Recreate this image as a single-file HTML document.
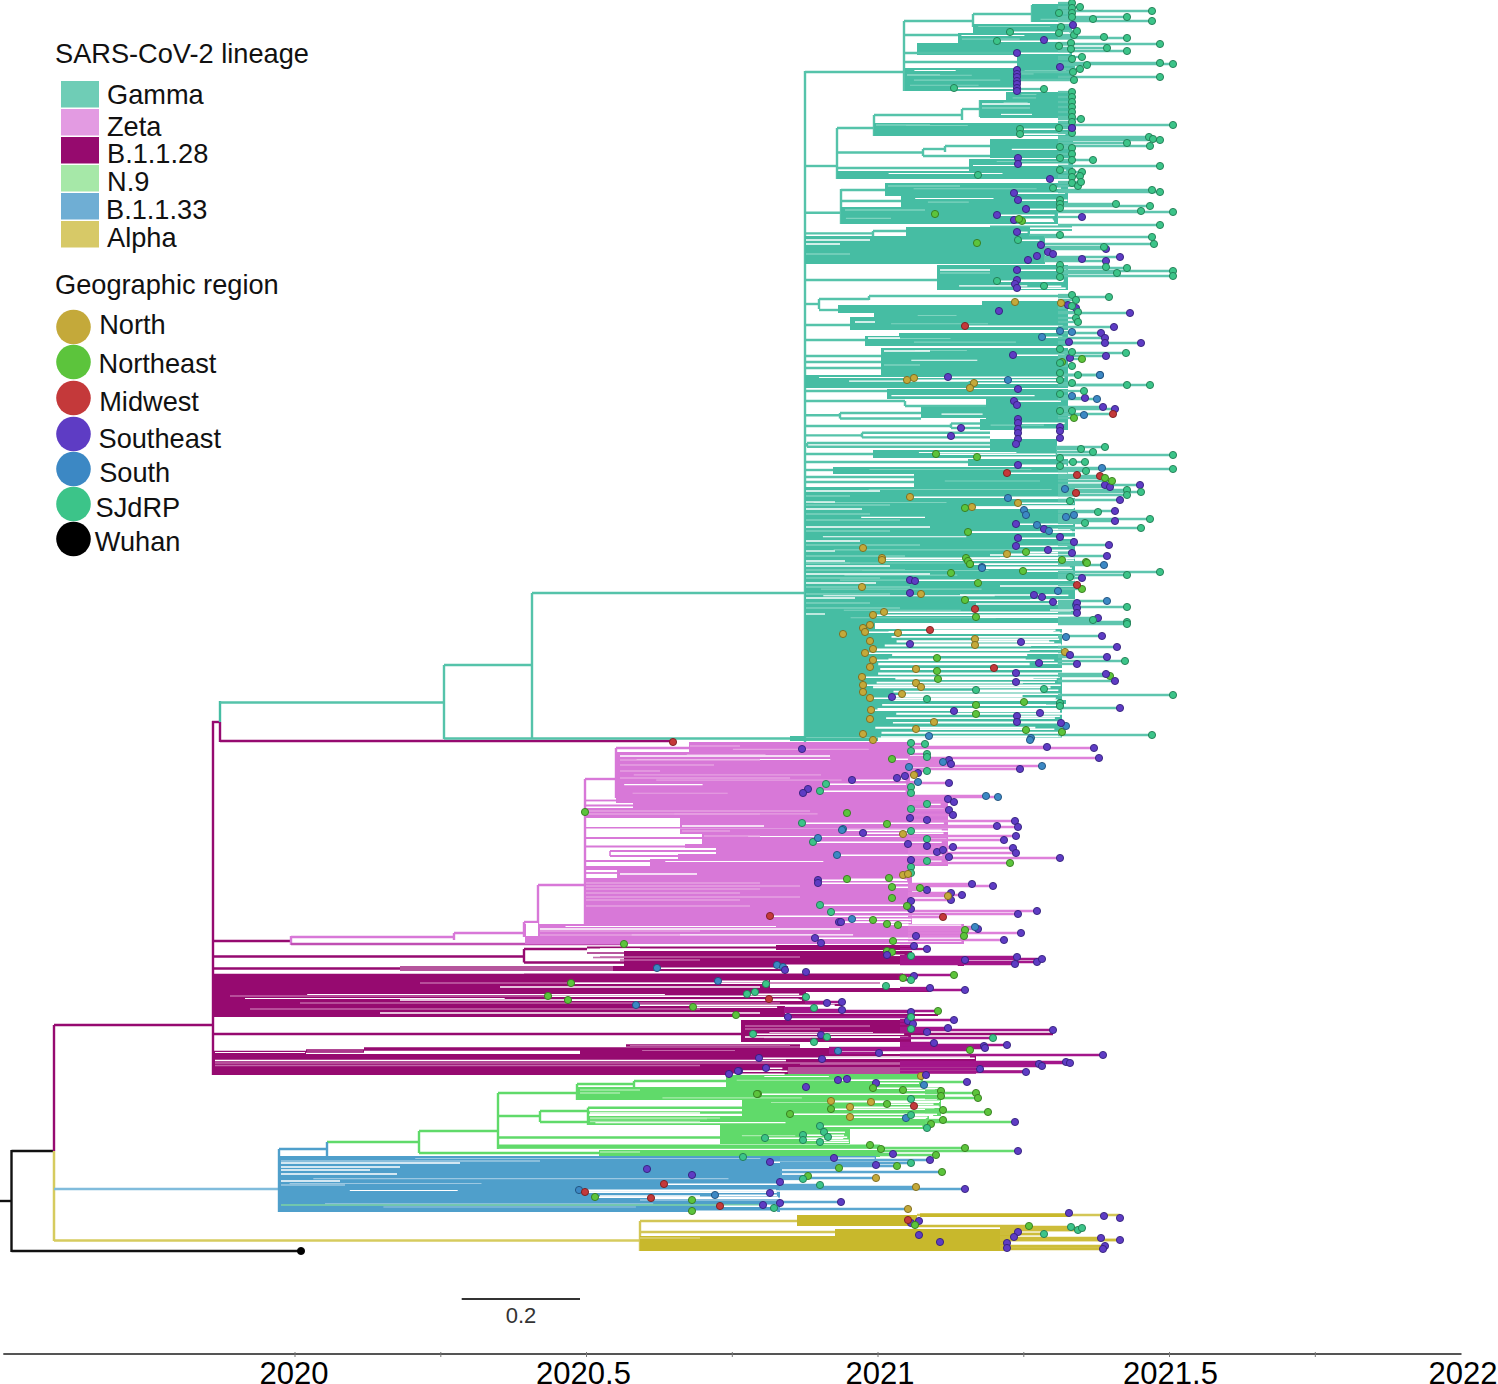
<!DOCTYPE html>
<html><head><meta charset="utf-8"><title>Phylogenetic tree</title>
<style>
html,body{margin:0;padding:0;background:#fff;width:1498px;height:1384px;overflow:hidden}
svg{display:block;font-family:"Liberation Sans",sans-serif}
</style></head>
<body>
<svg width="1498" height="1384" viewBox="0 0 1498 1384">
<rect width="1498" height="1384" fill="#fff"/>
<g id="legend" font-size="27.2" fill="#111">
<text x="55" y="63">SARS-CoV-2 lineage</text>
<rect x="61" y="81" width="38" height="26.5" fill="#6FCDB6"/>
<rect x="61" y="109" width="38" height="26.5" fill="#E39BE2"/>
<rect x="61" y="137" width="38" height="26.5" fill="#960A6E"/>
<rect x="61" y="165" width="38" height="26.5" fill="#A6E8A8"/>
<rect x="61" y="193" width="38" height="26.5" fill="#6FAED4"/>
<rect x="61" y="221" width="38" height="26.5" fill="#D7C967"/>
<text x="107" y="104">Gamma</text>
<text x="107" y="136">Zeta</text>
<text x="107" y="163">B.1.1.28</text>
<text x="107" y="191">N.9</text>
<text x="106" y="219">B.1.1.33</text>
<text x="107" y="247">Alpha</text>
<text x="55" y="293.5">Geographic region</text>
<circle cx="73.5" cy="327" r="17.3" fill="#C4A93A"/>
<circle cx="73.5" cy="362" r="17.3" fill="#5CC43C"/>
<circle cx="73.5" cy="398" r="17.3" fill="#C4393A"/>
<circle cx="73.5" cy="434" r="17.3" fill="#5E3CC4"/>
<circle cx="73.5" cy="469" r="17.3" fill="#3C88C4"/>
<circle cx="73.5" cy="504" r="17.3" fill="#3CC489"/>
<circle cx="73.5" cy="539" r="17.3" fill="#000"/>
<text x="99.2" y="334">North</text>
<text x="98.5" y="373">Northeast</text>
<text x="99.2" y="411">Midwest</text>
<text x="98.5" y="448">Southeast</text>
<text x="99.2" y="482">South</text>
<text x="95.6" y="517">SJdRP</text>
<text x="94.8" y="550.5">Wuhan</text>
</g>
<g id="tree" stroke-linecap="butt">
<line x1="0" y1="1201" x2="11.5" y2="1201" stroke="#111" stroke-width="2.4"/>
<line x1="11.5" y1="1150" x2="11.5" y2="1252" stroke="#111" stroke-width="2.4"/>
<line x1="11.5" y1="1151" x2="54" y2="1151" stroke="#111" stroke-width="2.4"/>
<line x1="11.5" y1="1251" x2="301" y2="1251" stroke="#111" stroke-width="2.4"/>
<line x1="54" y1="1025" x2="54" y2="1151" stroke="#960A70" stroke-width="2.4"/>
<line x1="54" y1="1151" x2="54" y2="1241" stroke="#D6CB5E" stroke-width="2.5"/>
<line x1="54" y1="1025" x2="213" y2="1025" stroke="#960A70" stroke-width="2.4"/>
<line x1="54" y1="1189" x2="279" y2="1189" stroke="#80BCDC" stroke-width="2.4"/>
<line x1="54" y1="1240.4" x2="640" y2="1240.4" stroke="#D6CB5E" stroke-width="2.5"/>
<line x1="213" y1="721" x2="213" y2="1075" stroke="#960A70" stroke-width="2.4"/>
<line x1="212" y1="722" x2="220" y2="722" stroke="#960A70" stroke-width="2.4"/>
<line x1="220" y1="722" x2="220" y2="742" stroke="#960A70" stroke-width="2.4"/>
<line x1="220" y1="701" x2="220" y2="722" stroke="#46BDA3" stroke-width="2.4"/>
<line x1="220" y1="741" x2="673" y2="741" stroke="#960A70" stroke-width="2.4"/>
<line x1="220" y1="702.5" x2="444" y2="702.5" stroke="#55C3AA" stroke-width="2.4"/>
<line x1="444" y1="665" x2="444" y2="739" stroke="#55C3AA" stroke-width="2.4"/>
<line x1="444" y1="665" x2="532" y2="665" stroke="#55C3AA" stroke-width="2.4"/>
<line x1="532" y1="593" x2="532" y2="739" stroke="#55C3AA" stroke-width="2.4"/>
<line x1="532" y1="593" x2="805" y2="593" stroke="#55C3AA" stroke-width="2.4"/>
<line x1="444" y1="738.5" x2="805" y2="738.5" stroke="#55C3AA" stroke-width="2.4"/>
<line x1="805" y1="71" x2="805" y2="742" stroke="#55C3AA" stroke-width="2.4"/>
<line x1="805" y1="72" x2="904" y2="72" stroke="#55C3AA" stroke-width="2.4"/>
<line x1="904" y1="21" x2="904" y2="91" stroke="#55C3AA" stroke-width="2.4"/>
<line x1="904" y1="21" x2="973" y2="21" stroke="#55C3AA" stroke-width="2.4"/>
<line x1="973" y1="14" x2="973" y2="27" stroke="#55C3AA" stroke-width="2.4"/>
<line x1="973" y1="14" x2="1032" y2="14" stroke="#55C3AA" stroke-width="2.4"/>
<line x1="1032" y1="5" x2="1032" y2="22" stroke="#55C3AA" stroke-width="2.4"/>
<rect x="1032" y="4" width="43" height="18" fill="#46BDA3"/>
<line x1="1040.5" y1="19.3" x2="1062.6" y2="19.3" stroke="#7FD3BF" stroke-width="1.1"/>
<rect x="973" y="24" width="99" height="13" fill="#46BDA3"/>
<line x1="978.2" y1="26.5" x2="1050.1" y2="26.5" stroke="#7FD3BF" stroke-width="1.1"/>
<line x1="904" y1="35" x2="958" y2="35" stroke="#55C3AA" stroke-width="2.4"/>
<rect x="958" y="33" width="114" height="10" fill="#46BDA3"/>
<line x1="961.4" y1="35.5" x2="1024.4" y2="35.5" stroke="#ffffff" stroke-width="1.1"/>
<line x1="961.9" y1="39.1" x2="1019.7" y2="39.1" stroke="#7FD3BF" stroke-width="1.1"/>
<rect x="917" y="43" width="155" height="12" fill="#46BDA3"/>
<line x1="904" y1="53" x2="1017" y2="53" stroke="#55C3AA" stroke-width="2.4"/>
<line x1="904" y1="62" x2="1017" y2="62" stroke="#55C3AA" stroke-width="2.4"/>
<rect x="1017" y="55" width="58" height="14" fill="#46BDA3"/>
<rect x="905" y="68" width="112" height="23" fill="#46BDA3"/>
<line x1="914.4" y1="70.5" x2="955.7" y2="70.5" stroke="#ffffff" stroke-width="1.1"/>
<line x1="931.7" y1="75.2" x2="971.8" y2="75.2" stroke="#7FD3BF" stroke-width="1.1"/>
<line x1="913.9" y1="80.1" x2="1000.2" y2="80.1" stroke="#7FD3BF" stroke-width="1.1"/>
<line x1="910.0" y1="85.3" x2="978.6" y2="85.3" stroke="#7FD3BF" stroke-width="1.1"/>
<rect x="1017" y="68" width="55" height="13" fill="#46BDA3"/>
<line x1="1024.6" y1="70.5" x2="1066.1" y2="70.5" stroke="#7FD3BF" stroke-width="1.1"/>
<line x1="1021.4" y1="73.9" x2="1033.6" y2="73.9" stroke="#7FD3BF" stroke-width="1.1"/>
<line x1="907" y1="75" x2="940" y2="75" stroke="#7FD3BF" stroke-width="2"/>
<line x1="805" y1="166" x2="837" y2="166" stroke="#55C3AA" stroke-width="2.4"/>
<line x1="837" y1="128" x2="837" y2="179" stroke="#55C3AA" stroke-width="2.4"/>
<line x1="837" y1="128" x2="874" y2="128" stroke="#55C3AA" stroke-width="2.4"/>
<line x1="874" y1="115" x2="874" y2="136" stroke="#55C3AA" stroke-width="2.4"/>
<line x1="874" y1="115" x2="962" y2="115" stroke="#55C3AA" stroke-width="2.4"/>
<line x1="962" y1="109" x2="962" y2="120" stroke="#55C3AA" stroke-width="2.4"/>
<line x1="962" y1="109" x2="980" y2="109" stroke="#55C3AA" stroke-width="2.4"/>
<line x1="980" y1="100" x2="980" y2="117" stroke="#55C3AA" stroke-width="2.4"/>
<rect x="1006" y="92" width="67" height="8" fill="#46BDA3"/>
<line x1="1021.3" y1="94.5" x2="1036.4" y2="94.5" stroke="#7FD3BF" stroke-width="1.1"/>
<line x1="1012.6" y1="97.9" x2="1036.1" y2="97.9" stroke="#7FD3BF" stroke-width="1.1"/>
<rect x="980" y="100" width="93" height="18" fill="#46BDA3"/>
<line x1="1003.6" y1="102.5" x2="1027.7" y2="102.5" stroke="#7FD3BF" stroke-width="1.1"/>
<line x1="1001.0" y1="114.4" x2="1032.0" y2="114.4" stroke="#ffffff" stroke-width="1.1"/>
<line x1="982" y1="104" x2="1030" y2="104" stroke="#fff" stroke-width="1.5"/>
<line x1="982" y1="108" x2="1030" y2="108" stroke="#7FD3BF" stroke-width="1.5"/>
<rect x="874" y="123" width="199" height="13" fill="#46BDA3"/>
<line x1="906.0" y1="125.5" x2="967.8" y2="125.5" stroke="#7FD3BF" stroke-width="1.1"/>
<line x1="876" y1="125" x2="930" y2="125" stroke="#7FD3BF" stroke-width="1.5"/>
<line x1="837" y1="152.5" x2="923" y2="152.5" stroke="#55C3AA" stroke-width="2.4"/>
<line x1="923" y1="149" x2="923" y2="156" stroke="#55C3AA" stroke-width="2.4"/>
<line x1="923" y1="149" x2="945" y2="149" stroke="#55C3AA" stroke-width="2.4"/>
<line x1="923" y1="156" x2="992" y2="156" stroke="#55C3AA" stroke-width="2.4"/>
<line x1="945" y1="146" x2="945" y2="152" stroke="#55C3AA" stroke-width="2.4"/>
<line x1="945" y1="146" x2="992" y2="146" stroke="#55C3AA" stroke-width="2.4"/>
<rect x="990" y="139" width="83" height="19" fill="#46BDA3"/>
<line x1="1011.8" y1="149.4" x2="1059.1" y2="149.4" stroke="#ffffff" stroke-width="1.1"/>
<line x1="837" y1="168" x2="969" y2="168" stroke="#55C3AA" stroke-width="2.4"/>
<rect x="969" y="159" width="104" height="12" fill="#46BDA3"/>
<line x1="996.7" y1="161.5" x2="1059.1" y2="161.5" stroke="#7FD3BF" stroke-width="1.1"/>
<line x1="973.0" y1="165.5" x2="1060.4" y2="165.5" stroke="#ffffff" stroke-width="1.1"/>
<rect x="837" y="171" width="236" height="8" fill="#46BDA3"/>
<line x1="888.6" y1="173.5" x2="1002.5" y2="173.5" stroke="#ffffff" stroke-width="1.1"/>
<line x1="805" y1="212.7" x2="841" y2="212.7" stroke="#55C3AA" stroke-width="2.4"/>
<line x1="841" y1="189" x2="841" y2="224" stroke="#55C3AA" stroke-width="2.4"/>
<line x1="841" y1="190" x2="885" y2="190" stroke="#55C3AA" stroke-width="2.4"/>
<line x1="841" y1="201" x2="901" y2="201" stroke="#55C3AA" stroke-width="2.4"/>
<rect x="885" y="183" width="183" height="13" fill="#46BDA3"/>
<line x1="913.6" y1="188.8" x2="1036.6" y2="188.8" stroke="#7FD3BF" stroke-width="1.1"/>
<rect x="901" y="196" width="167" height="11" fill="#46BDA3"/>
<line x1="915.2" y1="198.5" x2="993.5" y2="198.5" stroke="#ffffff" stroke-width="1.1"/>
<line x1="927.9" y1="202.1" x2="968.8" y2="202.1" stroke="#7FD3BF" stroke-width="1.1"/>
<rect x="841" y="207" width="217" height="17" fill="#46BDA3"/>
<line x1="845.9" y1="218.4" x2="891.0" y2="218.4" stroke="#7FD3BF" stroke-width="1.1"/>
<line x1="990" y1="226.5" x2="1072" y2="226.5" stroke="#55C3AA" stroke-width="2"/>
<line x1="1000" y1="230" x2="1072" y2="230" stroke="#55C3AA" stroke-width="2"/>
<line x1="888" y1="186" x2="960" y2="186" stroke="#7FD3BF" stroke-width="1.5"/>
<line x1="845" y1="210" x2="925" y2="210" stroke="#7FD3BF" stroke-width="1.5"/>
<line x1="805" y1="233.4" x2="873" y2="233.4" stroke="#55C3AA" stroke-width="2.4"/>
<line x1="873" y1="231" x2="873" y2="237" stroke="#55C3AA" stroke-width="2.4"/>
<line x1="873" y1="231" x2="906" y2="231" stroke="#55C3AA" stroke-width="2.4"/>
<rect x="906" y="227" width="124" height="9" fill="#46BDA3"/>
<rect x="805" y="236" width="240" height="28" fill="#46BDA3"/>
<line x1="806" y1="240" x2="870" y2="240" stroke="#fff" stroke-width="1.5"/>
<line x1="806" y1="244" x2="840" y2="244" stroke="#fff" stroke-width="1.5"/>
<line x1="806" y1="254" x2="850" y2="254" stroke="#7FD3BF" stroke-width="1.5"/>
<line x1="805" y1="280" x2="937" y2="280" stroke="#55C3AA" stroke-width="2.4"/>
<rect x="937" y="265" width="131" height="25" fill="#46BDA3"/>
<line x1="959.1" y1="285.9" x2="1027.3" y2="285.9" stroke="#ffffff" stroke-width="1.1"/>
<line x1="940" y1="270" x2="990" y2="270" stroke="#fff" stroke-width="1.5"/>
<line x1="940" y1="273" x2="990" y2="273" stroke="#7FD3BF" stroke-width="1.5"/>
<line x1="805" y1="304" x2="819" y2="304" stroke="#55C3AA" stroke-width="2.4"/>
<line x1="819" y1="299" x2="819" y2="309" stroke="#55C3AA" stroke-width="2.4"/>
<line x1="819" y1="299" x2="869" y2="299" stroke="#55C3AA" stroke-width="2.4"/>
<line x1="819" y1="310" x2="838" y2="310" stroke="#55C3AA" stroke-width="2.4"/>
<line x1="869" y1="296" x2="1068" y2="296" stroke="#55C3AA" stroke-width="2.4"/>
<line x1="869" y1="296" x2="869" y2="300" stroke="#55C3AA" stroke-width="2.4"/>
<rect x="982" y="301" width="86" height="12" fill="#46BDA3"/>
<rect x="838" y="305" width="230" height="8" fill="#46BDA3"/>
<line x1="805" y1="325" x2="850" y2="325" stroke="#55C3AA" stroke-width="2.4"/>
<rect x="874" y="313" width="194" height="7" fill="#46BDA3"/>
<line x1="917.7" y1="315.5" x2="956.5" y2="315.5" stroke="#7FD3BF" stroke-width="1.1"/>
<rect x="850" y="317" width="218" height="13" fill="#46BDA3"/>
<line x1="891.1" y1="323.7" x2="988.0" y2="323.7" stroke="#7FD3BF" stroke-width="1.1"/>
<line x1="855" y1="322" x2="875" y2="322" stroke="#fff" stroke-width="1.5"/>
<line x1="805" y1="340" x2="865" y2="340" stroke="#55C3AA" stroke-width="2.4"/>
<rect x="899" y="333" width="169" height="4" fill="#46BDA3"/>
<rect x="865" y="336" width="203" height="10" fill="#46BDA3"/>
<line x1="868.6" y1="338.5" x2="950.5" y2="338.5" stroke="#7FD3BF" stroke-width="1.1"/>
<line x1="914.0" y1="342.1" x2="1015.9" y2="342.1" stroke="#7FD3BF" stroke-width="1.1"/>
<line x1="868" y1="338" x2="900" y2="338" stroke="#fff" stroke-width="1.5"/>
<line x1="805" y1="356" x2="881" y2="356" stroke="#55C3AA" stroke-width="2.4"/>
<rect x="881" y="348" width="187" height="28" fill="#46BDA3"/>
<line x1="915.1" y1="350.5" x2="966.9" y2="350.5" stroke="#7FD3BF" stroke-width="1.1"/>
<line x1="911.3" y1="360.3" x2="977.3" y2="360.3" stroke="#ffffff" stroke-width="1.1"/>
<line x1="884" y1="351" x2="930" y2="351" stroke="#fff" stroke-width="1.5"/>
<line x1="884" y1="365" x2="920" y2="365" stroke="#7FD3BF" stroke-width="1.5"/>
<line x1="805" y1="362" x2="881" y2="362" stroke="#55C3AA" stroke-width="2.4"/>
<line x1="805" y1="368" x2="881" y2="368" stroke="#55C3AA" stroke-width="2.4"/>
<rect x="805" y="375" width="263" height="13" fill="#46BDA3"/>
<line x1="819.1" y1="377.5" x2="947.4" y2="377.5" stroke="#ffffff" stroke-width="1.1"/>
<line x1="849.1" y1="381.1" x2="968.6" y2="381.1" stroke="#ffffff" stroke-width="1.1"/>
<line x1="805" y1="391" x2="887" y2="391" stroke="#55C3AA" stroke-width="2.4"/>
<rect x="887" y="389" width="181" height="10" fill="#46BDA3"/>
<line x1="891.4" y1="395.6" x2="1034.6" y2="395.6" stroke="#ffffff" stroke-width="1.1"/>
<line x1="805" y1="401" x2="905" y2="401" stroke="#55C3AA" stroke-width="2.4"/>
<line x1="905" y1="406" x2="986" y2="406" stroke="#55C3AA" stroke-width="2.4"/>
<line x1="905" y1="401" x2="905" y2="406" stroke="#55C3AA" stroke-width="2.4"/>
<rect x="986" y="399" width="82" height="22" fill="#46BDA3"/>
<line x1="998.3" y1="408.6" x2="1013.5" y2="408.6" stroke="#7FD3BF" stroke-width="1.1"/>
<line x1="990.0" y1="412.2" x2="1039.9" y2="412.2" stroke="#7FD3BF" stroke-width="1.1"/>
<line x1="805" y1="415.3" x2="840" y2="415.3" stroke="#55C3AA" stroke-width="2.4"/>
<line x1="840" y1="413" x2="840" y2="418.5" stroke="#55C3AA" stroke-width="2.4"/>
<line x1="840" y1="413" x2="921" y2="413" stroke="#55C3AA" stroke-width="2.4"/>
<line x1="840" y1="418.5" x2="921" y2="418.5" stroke="#55C3AA" stroke-width="2.4"/>
<rect x="921" y="407" width="147" height="11" fill="#46BDA3"/>
<line x1="941.5" y1="414.1" x2="982.6" y2="414.1" stroke="#ffffff" stroke-width="1.1"/>
<line x1="805" y1="426" x2="951" y2="426" stroke="#55C3AA" stroke-width="2.4"/>
<line x1="951" y1="423.5" x2="951" y2="428" stroke="#55C3AA" stroke-width="2.4"/>
<line x1="951" y1="423.5" x2="980" y2="423.5" stroke="#55C3AA" stroke-width="2.4"/>
<line x1="951" y1="428" x2="980" y2="428" stroke="#55C3AA" stroke-width="2.4"/>
<rect x="980" y="419" width="88" height="11" fill="#46BDA3"/>
<line x1="990.6" y1="425.1" x2="1043.9" y2="425.1" stroke="#7FD3BF" stroke-width="1.1"/>
<line x1="805" y1="435.4" x2="862" y2="435.4" stroke="#55C3AA" stroke-width="2.4"/>
<line x1="862" y1="432.7" x2="862" y2="437.4" stroke="#55C3AA" stroke-width="2.4"/>
<line x1="862" y1="432.7" x2="990" y2="432.7" stroke="#55C3AA" stroke-width="2.4"/>
<line x1="862" y1="437.4" x2="990" y2="437.4" stroke="#55C3AA" stroke-width="2.4"/>
<line x1="807" y1="443" x2="991" y2="443" stroke="#55C3AA" stroke-width="2.4"/>
<line x1="807" y1="446.7" x2="991" y2="446.7" stroke="#55C3AA" stroke-width="2.4"/>
<line x1="807" y1="443" x2="807" y2="446.7" stroke="#55C3AA" stroke-width="2.4"/>
<rect x="990" y="439" width="67" height="11" fill="#46BDA3"/>
<line x1="805" y1="454" x2="873" y2="454" stroke="#55C3AA" stroke-width="2.4"/>
<rect x="873" y="450" width="184" height="8" fill="#46BDA3"/>
<line x1="918.9" y1="452.5" x2="1016.4" y2="452.5" stroke="#ffffff" stroke-width="1.1"/>
<line x1="805" y1="462" x2="968" y2="462" stroke="#55C3AA" stroke-width="2.4"/>
<rect x="968" y="459" width="100" height="7" fill="#46BDA3"/>
<line x1="805" y1="470" x2="833" y2="470" stroke="#55C3AA" stroke-width="2.4"/>
<rect x="833" y="467" width="235" height="7" fill="#46BDA3"/>
<line x1="869.4" y1="469.5" x2="1031.4" y2="469.5" stroke="#7FD3BF" stroke-width="1.1"/>
<line x1="805" y1="477" x2="914" y2="477" stroke="#55C3AA" stroke-width="2.4"/>
<line x1="805" y1="482" x2="929" y2="482" stroke="#55C3AA" stroke-width="2.4"/>
<rect x="914" y="474" width="154" height="13" fill="#46BDA3"/>
<line x1="944.8" y1="481.0" x2="1040.0" y2="481.0" stroke="#7FD3BF" stroke-width="1.1"/>
<rect x="805" y="487" width="270" height="136" fill="#46BDA3"/>
<line x1="868.7" y1="489.5" x2="1051.6" y2="489.5" stroke="#7FD3BF" stroke-width="1.1"/>
<line x1="813.6" y1="502.5" x2="946.5" y2="502.5" stroke="#7FD3BF" stroke-width="1.1"/>
<line x1="861.2" y1="517.4" x2="925.0" y2="517.4" stroke="#ffffff" stroke-width="1.1"/>
<line x1="822.9" y1="536.7" x2="966.3" y2="536.7" stroke="#ffffff" stroke-width="1.1"/>
<line x1="833.7" y1="549.9" x2="1024.7" y2="549.9" stroke="#7FD3BF" stroke-width="1.1"/>
<line x1="844.2" y1="563.0" x2="971.6" y2="563.0" stroke="#7FD3BF" stroke-width="1.1"/>
<line x1="862.1" y1="570.5" x2="988.6" y2="570.5" stroke="#7FD3BF" stroke-width="1.1"/>
<line x1="844.4" y1="575.1" x2="957.3" y2="575.1" stroke="#7FD3BF" stroke-width="1.1"/>
<line x1="839.9" y1="580.1" x2="907.8" y2="580.1" stroke="#7FD3BF" stroke-width="1.1"/>
<line x1="820.9" y1="589.1" x2="981.6" y2="589.1" stroke="#7FD3BF" stroke-width="1.1"/>
<line x1="823.3" y1="595.8" x2="994.7" y2="595.8" stroke="#ffffff" stroke-width="1.1"/>
<line x1="843.8" y1="610.3" x2="960.7" y2="610.3" stroke="#7FD3BF" stroke-width="1.1"/>
<line x1="850.6" y1="617.8" x2="995.8" y2="617.8" stroke="#7FD3BF" stroke-width="1.1"/>
<line x1="806" y1="491" x2="880" y2="491" stroke="#fff" stroke-width="1.3"/>
<line x1="806" y1="496" x2="850" y2="496" stroke="#7FD3BF" stroke-width="1.3"/>
<line x1="806" y1="502" x2="835" y2="502" stroke="#fff" stroke-width="1.3"/>
<line x1="806" y1="505" x2="890" y2="505" stroke="#7FD3BF" stroke-width="1.3"/>
<line x1="806" y1="509" x2="862" y2="509" stroke="#fff" stroke-width="1.3"/>
<line x1="806" y1="514" x2="870" y2="514" stroke="#7FD3BF" stroke-width="1.3"/>
<line x1="806" y1="520" x2="900" y2="520" stroke="#7FD3BF" stroke-width="1.3"/>
<line x1="806" y1="527" x2="930" y2="527" stroke="#fff" stroke-width="1.3"/>
<line x1="806" y1="531" x2="890" y2="531" stroke="#7FD3BF" stroke-width="1.3"/>
<line x1="806" y1="541" x2="860" y2="541" stroke="#fff" stroke-width="1.3"/>
<line x1="806" y1="545" x2="920" y2="545" stroke="#7FD3BF" stroke-width="1.3"/>
<line x1="806" y1="551" x2="835" y2="551" stroke="#fff" stroke-width="1.3"/>
<line x1="806" y1="556" x2="905" y2="556" stroke="#7FD3BF" stroke-width="1.3"/>
<line x1="806" y1="561" x2="845" y2="561" stroke="#fff" stroke-width="1.3"/>
<line x1="806" y1="563" x2="850" y2="563" stroke="#7FD3BF" stroke-width="1.3"/>
<line x1="806" y1="566" x2="890" y2="566" stroke="#fff" stroke-width="1.3"/>
<line x1="806" y1="570" x2="905" y2="570" stroke="#7FD3BF" stroke-width="1.3"/>
<line x1="806" y1="574" x2="930" y2="574" stroke="#fff" stroke-width="1.3"/>
<line x1="806" y1="578" x2="880" y2="578" stroke="#7FD3BF" stroke-width="1.3"/>
<line x1="806" y1="583" x2="876" y2="583" stroke="#fff" stroke-width="1.3"/>
<line x1="806" y1="587" x2="910" y2="587" stroke="#7FD3BF" stroke-width="1.3"/>
<line x1="806" y1="594" x2="890" y2="594" stroke="#7FD3BF" stroke-width="1.3"/>
<line x1="806" y1="598" x2="855" y2="598" stroke="#fff" stroke-width="1.3"/>
<line x1="806" y1="603" x2="870" y2="603" stroke="#7FD3BF" stroke-width="1.3"/>
<line x1="806" y1="608" x2="900" y2="608" stroke="#7FD3BF" stroke-width="1.3"/>
<line x1="806" y1="614" x2="825" y2="614" stroke="#fff" stroke-width="1.3"/>
<line x1="975" y1="507" x2="1075" y2="507" stroke="#fff" stroke-width="1.3"/>
<line x1="972" y1="532" x2="1075" y2="532" stroke="#fff" stroke-width="1.3"/>
<line x1="1020" y1="506" x2="1075" y2="506" stroke="#fff" stroke-width="1.3"/>
<line x1="990" y1="555" x2="1075" y2="555" stroke="#fff" stroke-width="1.3"/>
<line x1="1000" y1="558" x2="1075" y2="558" stroke="#fff" stroke-width="1.3"/>
<line x1="975" y1="580" x2="1075" y2="580" stroke="#fff" stroke-width="1.3"/>
<line x1="1000" y1="586" x2="1075" y2="586" stroke="#fff" stroke-width="1.3"/>
<line x1="960" y1="595" x2="1060" y2="595" stroke="#fff" stroke-width="1.3"/>
<line x1="1030" y1="600" x2="1075" y2="600" stroke="#fff" stroke-width="1.3"/>
<line x1="976" y1="604" x2="1075" y2="604" stroke="#fff" stroke-width="1.3"/>
<line x1="975" y1="616" x2="1075" y2="616" stroke="#fff" stroke-width="1.3"/>
<line x1="1050" y1="610" x2="1075" y2="610" stroke="#fff" stroke-width="1.3"/>
<rect x="875" y="623" width="200" height="6" fill="#fff"/>
<rect x="805" y="623" width="70" height="6" fill="#46BDA3"/>
<rect x="805" y="629" width="257" height="108.5" fill="#46BDA3"/>
<rect x="805" y="737.5" width="73" height="3.5" fill="#46BDA3"/>
<line x1="888.5725423722425" y1="632.0" x2="1053.3804145167328" y2="632.0" stroke="#fff" stroke-width="2.2361548524525574"/>
<line x1="891.4974643684983" y1="636.9" x2="1061.5046248499439" y2="636.9" stroke="#fff" stroke-width="1.623204182626892"/>
<line x1="896.5839179249579" y1="641.4" x2="1049.2038548911617" y2="641.4" stroke="#fff" stroke-width="2.3207203934004985"/>
<line x1="884.7267261945541" y1="645.5" x2="1031.0957774678923" y2="645.5" stroke="#fff" stroke-width="2.0350086873887445"/>
<line x1="873.3278547397225" y1="650.1" x2="1029.7528410208731" y2="650.1" stroke="#fff" stroke-width="1.8235858928088884"/>
<line x1="892.1431362907285" y1="655.0" x2="1027.1821895561118" y2="655.0" stroke="#fff" stroke-width="2.2377175931449638"/>
<line x1="888.4363130116529" y1="659.2" x2="1025.7014654647621" y2="659.2" stroke="#fff" stroke-width="1.6014198897620278"/>
<line x1="878.236409562378" y1="664.0" x2="1029.696652615113" y2="664.0" stroke="#fff" stroke-width="2.3859368870607405"/>
<line x1="880.2326291936731" y1="668.9" x2="1063" y2="668.9" stroke="#fff" stroke-width="2.0313787750966488"/>
<line x1="878.1194878633448" y1="673.6" x2="1062.34392004896" y2="673.6" stroke="#fff" stroke-width="2.1525135528855266"/>
<line x1="895.3435419394119" y1="678.5" x2="1033.4455004034241" y2="678.5" stroke="#fff" stroke-width="1.8889519477779073"/>
<line x1="876.642547738517" y1="682.7" x2="1022.9312871019055" y2="682.7" stroke="#fff" stroke-width="1.84108728061557"/>
<line x1="873.0845779843589" y1="687.3" x2="1050.5070412296461" y2="687.3" stroke="#fff" stroke-width="1.8703174893022922"/>
<line x1="893.4629518661768" y1="691.6" x2="1041.6335333983518" y2="691.6" stroke="#fff" stroke-width="1.8526344846771554"/>
<line x1="890.6167283535227" y1="696.1" x2="1022.5650418291106" y2="696.1" stroke="#fff" stroke-width="2.3800796505153885"/>
<line x1="891.7448755572818" y1="700.1" x2="1058.0196400224659" y2="700.1" stroke="#fff" stroke-width="1.6144540283028241"/>
<line x1="882.1546118960465" y1="704.9" x2="1046.0333473075593" y2="704.9" stroke="#fff" stroke-width="1.6072627094556229"/>
<line x1="877.5229871987761" y1="709.0" x2="1062.9830954816025" y2="709.0" stroke="#fff" stroke-width="1.7572173364104067"/>
<line x1="896.2413829899381" y1="713.7" x2="1062.3919723242466" y2="713.7" stroke="#fff" stroke-width="1.8755054504424096"/>
<line x1="886.117545517328" y1="718.1" x2="1054.9021356614548" y2="718.1" stroke="#fff" stroke-width="1.6864422952518665"/>
<line x1="892.9306669397834" y1="722.8" x2="1058.6862443634411" y2="722.8" stroke="#fff" stroke-width="1.629305263954262"/>
<line x1="875.2794966042942" y1="727.8" x2="1035.33332409769" y2="727.8" stroke="#fff" stroke-width="2.0886620304740995"/>
<line x1="881.4989881656461" y1="732.7" x2="1061.5888928742506" y2="732.7" stroke="#fff" stroke-width="2.0361152296785914"/>
<line x1="880.9199996415845" y1="737.0" x2="1027.9864998977246" y2="737.0" stroke="#fff" stroke-width="1.6625569857764588"/>
<rect x="1062" y="700" width="4" height="4" fill="#46BDA3"/>
<rect x="790" y="736" width="15" height="5" fill="#46BDA3"/>
<line x1="213" y1="941" x2="291" y2="941" stroke="#960A70" stroke-width="2.4"/>
<line x1="291" y1="936" x2="291" y2="945" stroke="#D878D8" stroke-width="2.4"/>
<line x1="291" y1="937" x2="454" y2="937" stroke="#D878D8" stroke-width="2.4"/>
<line x1="291" y1="944" x2="624" y2="944" stroke="#C04FB3" stroke-width="2.4"/>
<line x1="454" y1="933" x2="454" y2="940" stroke="#D878D8" stroke-width="2.4"/>
<line x1="454" y1="933" x2="524" y2="933" stroke="#D878D8" stroke-width="2.4"/>
<line x1="524" y1="922" x2="524" y2="937" stroke="#D878D8" stroke-width="2.4"/>
<line x1="524" y1="922" x2="538" y2="922" stroke="#D878D8" stroke-width="2.4"/>
<line x1="538" y1="885" x2="538" y2="926" stroke="#D878D8" stroke-width="2.4"/>
<line x1="538" y1="885" x2="585" y2="885" stroke="#D878D8" stroke-width="2.4"/>
<line x1="585" y1="779" x2="585" y2="924" stroke="#D878D8" stroke-width="2.4"/>
<line x1="585" y1="779" x2="616" y2="779" stroke="#D878D8" stroke-width="2.4"/>
<line x1="616" y1="748" x2="616" y2="798" stroke="#D878D8" stroke-width="2.4"/>
<line x1="616" y1="748" x2="689" y2="748" stroke="#D878D8" stroke-width="2.4"/>
<rect x="689" y="742" width="221" height="10" fill="#D878D8"/>
<line x1="732.9" y1="749.4" x2="868.8" y2="749.4" stroke="#E6A2E2" stroke-width="1.1"/>
<rect x="616" y="752" width="294" height="46" fill="#D878D8"/>
<line x1="686.8" y1="754.5" x2="765.5" y2="754.5" stroke="#E6A2E2" stroke-width="1.1"/>
<line x1="636.6" y1="759.5" x2="830.3" y2="759.5" stroke="#ffffff" stroke-width="1.1"/>
<line x1="633.8" y1="774.9" x2="821.0" y2="774.9" stroke="#E6A2E2" stroke-width="1.1"/>
<line x1="656.2" y1="780.1" x2="841.6" y2="780.1" stroke="#E6A2E2" stroke-width="1.1"/>
<line x1="624.2" y1="784.6" x2="702.6" y2="784.6" stroke="#ffffff" stroke-width="1.1"/>
<line x1="632.6" y1="793.3" x2="727.7" y2="793.3" stroke="#E6A2E2" stroke-width="1.1"/>
<rect x="616" y="798" width="332" height="5" fill="#D878D8"/>
<rect x="633" y="803" width="315" height="5" fill="#D878D8"/>
<rect x="585" y="808" width="363" height="10" fill="#D878D8"/>
<line x1="674.3" y1="813.9" x2="817.6" y2="813.9" stroke="#E6A2E2" stroke-width="1.1"/>
<rect x="680" y="818" width="268" height="9" fill="#D878D8"/>
<rect x="585" y="827" width="363" height="1.5" fill="#D878D8"/>
<rect x="680" y="828.5" width="268" height="5.5" fill="#D878D8"/>
<rect x="702" y="834" width="246" height="10" fill="#D878D8"/>
<line x1="748.1" y1="836.5" x2="906.2" y2="836.5" stroke="#ffffff" stroke-width="1.1"/>
<rect x="685" y="844" width="263" height="4" fill="#D878D8"/>
<rect x="716" y="848" width="232" height="6" fill="#D878D8"/>
<rect x="678" y="854" width="270" height="5" fill="#D878D8"/>
<rect x="650" y="859" width="298" height="7" fill="#D878D8"/>
<line x1="665.3" y1="861.5" x2="823.3" y2="861.5" stroke="#ffffff" stroke-width="1.1"/>
<rect x="585" y="866" width="327" height="2" fill="#D878D8"/>
<rect x="655" y="868" width="257" height="2" fill="#D878D8"/>
<rect x="617" y="870" width="295" height="8" fill="#D878D8"/>
<rect x="585" y="878" width="327" height="47" fill="#D878D8"/>
<line x1="585" y1="800.5" x2="616" y2="800.5" stroke="#D878D8" stroke-width="1.8"/>
<line x1="585" y1="805.5" x2="633" y2="805.5" stroke="#D878D8" stroke-width="1.8"/>
<line x1="585" y1="838" x2="702" y2="838" stroke="#D878D8" stroke-width="1.8"/>
<line x1="585" y1="846.5" x2="685" y2="846.5" stroke="#D878D8" stroke-width="1.8"/>
<line x1="610" y1="851" x2="716" y2="851" stroke="#D878D8" stroke-width="1.8"/>
<line x1="610" y1="856" x2="678" y2="856" stroke="#D878D8" stroke-width="1.8"/>
<line x1="585" y1="861" x2="650" y2="861" stroke="#D878D8" stroke-width="1.8"/>
<line x1="585" y1="869" x2="655" y2="869" stroke="#D878D8" stroke-width="1.8"/>
<line x1="585" y1="873" x2="617" y2="873" stroke="#D878D8" stroke-width="1.8"/>
<line x1="610" y1="851" x2="610" y2="856" stroke="#D878D8" stroke-width="1.6"/>
<rect x="525" y="924" width="439" height="20" fill="#D878D8"/>
<line x1="565.5" y1="926.5" x2="776.0" y2="926.5" stroke="#ffffff" stroke-width="1.1"/>
<line x1="631.7" y1="934.9" x2="853.1" y2="934.9" stroke="#ffffff" stroke-width="1.1"/>
<line x1="690" y1="746" x2="740" y2="746" stroke="#E6A2E2" stroke-width="1.3"/>
<line x1="620" y1="756" x2="830" y2="756" stroke="#fff" stroke-width="1.3"/>
<line x1="620" y1="760" x2="760" y2="760" stroke="#E6A2E2" stroke-width="1.3"/>
<line x1="620" y1="765" x2="714" y2="765" stroke="#E6A2E2" stroke-width="1.3"/>
<line x1="620" y1="771" x2="660" y2="771" stroke="#E6A2E2" stroke-width="1.3"/>
<line x1="620" y1="778" x2="790" y2="778" stroke="#E6A2E2" stroke-width="1.3"/>
<line x1="586" y1="811" x2="810" y2="811" stroke="#E6A2E2" stroke-width="1.3"/>
<line x1="586" y1="814" x2="760" y2="814" stroke="#E6A2E2" stroke-width="1.3"/>
<line x1="682" y1="826" x2="764" y2="826" stroke="#fff" stroke-width="1.3"/>
<line x1="682" y1="831" x2="730" y2="831" stroke="#E6A2E2" stroke-width="1.3"/>
<line x1="704" y1="836" x2="760" y2="836" stroke="#E6A2E2" stroke-width="1.3"/>
<line x1="620" y1="874" x2="697" y2="874" stroke="#fff" stroke-width="1.3"/>
<line x1="586" y1="883" x2="760" y2="883" stroke="#E6A2E2" stroke-width="1.3"/>
<line x1="586" y1="886" x2="800" y2="886" stroke="#E6A2E2" stroke-width="1.3"/>
<line x1="586" y1="889" x2="760" y2="889" stroke="#E6A2E2" stroke-width="1.3"/>
<line x1="586" y1="893" x2="740" y2="893" stroke="#E6A2E2" stroke-width="1.3"/>
<line x1="586" y1="897" x2="800" y2="897" stroke="#E6A2E2" stroke-width="1.3"/>
<line x1="586" y1="900" x2="740" y2="900" stroke="#E6A2E2" stroke-width="1.3"/>
<line x1="586" y1="906" x2="750" y2="906" stroke="#E6A2E2" stroke-width="1.3"/>
<line x1="540" y1="929" x2="840" y2="929" stroke="#fff" stroke-width="1.3"/>
<line x1="540" y1="931" x2="700" y2="931" stroke="#E6A2E2" stroke-width="1.3"/>
<line x1="540" y1="935" x2="680" y2="935" stroke="#E6A2E2" stroke-width="1.3"/>
<rect x="526" y="923" width="12" height="13" fill="#fff"/>
<line x1="213" y1="956.5" x2="524" y2="956.5" stroke="#960A70" stroke-width="2.4"/>
<line x1="524" y1="949" x2="524" y2="962.5" stroke="#960A70" stroke-width="2.4"/>
<line x1="524" y1="949" x2="587" y2="949" stroke="#960A70" stroke-width="2.4"/>
<line x1="524" y1="962.5" x2="624" y2="962.5" stroke="#960A70" stroke-width="2.4"/>
<rect x="776" y="945" width="136" height="5" fill="#960A70"/>
<rect x="624" y="951" width="288" height="5" fill="#960A70"/>
<rect x="624" y="956" width="340" height="10" fill="#960A70"/>
<line x1="587" y1="953" x2="624" y2="953" stroke="#B5559C" stroke-width="2"/>
<line x1="593" y1="957.5" x2="624" y2="957.5" stroke="#C272AE" stroke-width="1.6"/>
<line x1="587" y1="947.5" x2="776" y2="947.5" stroke="#960A70" stroke-width="1.8"/>
<line x1="213" y1="968.5" x2="400" y2="968.5" stroke="#960A70" stroke-width="2.4"/>
<rect x="400" y="966" width="213" height="5" fill="#B5559C"/>
<rect x="613" y="966" width="175" height="5" fill="#960A70"/>
<line x1="213" y1="975" x2="524" y2="975" stroke="#960A70" stroke-width="2.4"/>
<rect x="524" y="973.5" width="379" height="3.5" fill="#960A70"/>
<rect x="213" y="976" width="690" height="4" fill="#960A70"/>
<rect x="213" y="980" width="557" height="8" fill="#960A70"/>
<rect x="213" y="988" width="716" height="4" fill="#960A70"/>
<rect x="213" y="992" width="593" height="12" fill="#960A70"/>
<line x1="307.2" y1="994.5" x2="664.9" y2="994.5" stroke="#ffffff" stroke-width="1.1"/>
<line x1="245.0" y1="998.5" x2="504.7" y2="998.5" stroke="#ffffff" stroke-width="1.1"/>
<rect x="213" y="1004" width="629" height="2" fill="#960A70"/>
<rect x="213" y="1006" width="572" height="11" fill="#960A70"/>
<line x1="785" y1="1011" x2="911" y2="1011" stroke="#960A70" stroke-width="2"/>
<line x1="785" y1="1015" x2="938" y2="1015" stroke="#960A70" stroke-width="2"/>
<rect x="741" y="1020" width="170" height="22" fill="#960A70"/>
<line x1="769.4" y1="1032.5" x2="873.0" y2="1032.5" stroke="#ffffff" stroke-width="1.1"/>
<line x1="764.0" y1="1037.6" x2="810.8" y2="1037.6" stroke="#C266A8" stroke-width="1.1"/>
<line x1="213" y1="1034" x2="1053" y2="1034" stroke="#960A70" stroke-width="2.4"/>
<line x1="213" y1="1052.5" x2="306" y2="1052.5" stroke="#960A70" stroke-width="3.5"/>
<line x1="306" y1="1051" x2="364" y2="1051" stroke="#960A70" stroke-width="3.5"/>
<line x1="364" y1="1049" x2="800" y2="1049" stroke="#960A70" stroke-width="3.5"/>
<line x1="215" y1="1052.5" x2="305" y2="1052.5" stroke="#fff" stroke-width="1.2"/>
<line x1="307" y1="1051" x2="363" y2="1051" stroke="#C266A8" stroke-width="1.2"/>
<rect x="580" y="1048" width="250" height="7" fill="#960A70"/>
<line x1="642.1" y1="1050.5" x2="735.0" y2="1050.5" stroke="#C266A8" stroke-width="1.1"/>
<line x1="626" y1="1045.5" x2="800" y2="1045.5" stroke="#960A70" stroke-width="2.5"/>
<line x1="630" y1="1045.5" x2="790" y2="1045.5" stroke="#C266A8" stroke-width="1.0"/>
<rect x="213" y="1054" width="763" height="7" fill="#960A70"/>
<rect x="213" y="1061" width="829" height="6" fill="#960A70"/>
<rect x="213" y="1067" width="575" height="8" fill="#960A70"/>
<rect x="788" y="1067" width="188" height="7" fill="#B4509A"/>
<line x1="976" y1="1071" x2="1026" y2="1071" stroke="#B4509A" stroke-width="2"/>
<line x1="420" y1="983" x2="880" y2="983" stroke="#C266A8" stroke-width="1.3"/>
<line x1="500" y1="987" x2="760" y2="987" stroke="#fff" stroke-width="1.3"/>
<line x1="230" y1="996" x2="700" y2="996" stroke="#C266A8" stroke-width="1.3"/>
<line x1="400" y1="1000" x2="800" y2="1000" stroke="#fff" stroke-width="1.3"/>
<line x1="300" y1="1003" x2="780" y2="1003" stroke="#C266A8" stroke-width="1.3"/>
<line x1="250" y1="1009" x2="700" y2="1009" stroke="#C266A8" stroke-width="1.3"/>
<line x1="380" y1="1013" x2="760" y2="1013" stroke="#fff" stroke-width="1.3"/>
<line x1="745" y1="1026" x2="870" y2="1026" stroke="#C266A8" stroke-width="1.3"/>
<line x1="745" y1="1029" x2="820" y2="1029" stroke="#C266A8" stroke-width="1.3"/>
<line x1="745" y1="1037" x2="900" y2="1037" stroke="#fff" stroke-width="1.3"/>
<line x1="820" y1="1057" x2="970" y2="1057" stroke="#fff" stroke-width="1.3"/>
<line x1="800" y1="1064" x2="1040" y2="1064" stroke="#C266A8" stroke-width="1.3"/>
<line x1="600" y1="949" x2="640" y2="949" stroke="#fff" stroke-width="1.4"/>
<line x1="600" y1="957" x2="800" y2="957" stroke="#C266A8" stroke-width="1.4"/>
<line x1="620" y1="960" x2="700" y2="960" stroke="#C266A8" stroke-width="1.4"/>
<line x1="215" y1="1060.5" x2="786" y2="1060.5" stroke="#fff" stroke-width="1.4"/>
<line x1="215" y1="1063" x2="1000" y2="1063" stroke="#C266A8" stroke-width="1.4"/>
<line x1="215" y1="1065.5" x2="700" y2="1065.5" stroke="#C266A8" stroke-width="1.4"/>
<line x1="327" y1="1142" x2="419" y2="1142" stroke="#60DA6A" stroke-width="2.4"/>
<line x1="419" y1="1131" x2="419" y2="1153" stroke="#60DA6A" stroke-width="2.4"/>
<line x1="419" y1="1131" x2="498" y2="1131" stroke="#60DA6A" stroke-width="2.4"/>
<line x1="419" y1="1153" x2="599" y2="1153" stroke="#60DA6A" stroke-width="2.4"/>
<line x1="498" y1="1093" x2="498" y2="1149" stroke="#60DA6A" stroke-width="2.4"/>
<line x1="498" y1="1093" x2="577" y2="1093" stroke="#60DA6A" stroke-width="2.4"/>
<line x1="577" y1="1084" x2="577" y2="1100" stroke="#60DA6A" stroke-width="2.4"/>
<line x1="577" y1="1084" x2="634" y2="1084" stroke="#60DA6A" stroke-width="2.4"/>
<line x1="634" y1="1081" x2="634" y2="1087" stroke="#60DA6A" stroke-width="2.4"/>
<line x1="634" y1="1081" x2="726" y2="1081" stroke="#60DA6A" stroke-width="2.4"/>
<rect x="726" y="1074" width="197" height="13" fill="#60DA6A"/>
<line x1="764.3" y1="1076.5" x2="828.9" y2="1076.5" stroke="#ffffff" stroke-width="1.1"/>
<line x1="736.7" y1="1080.2" x2="872.4" y2="1080.2" stroke="#A8EBAC" stroke-width="1.1"/>
<rect x="577" y="1087" width="364" height="13" fill="#60DA6A"/>
<line x1="662.4" y1="1097.9" x2="801.9" y2="1097.9" stroke="#A8EBAC" stroke-width="1.1"/>
<rect x="742" y="1100" width="199" height="16" fill="#60DA6A"/>
<line x1="771.0" y1="1102.5" x2="916.5" y2="1102.5" stroke="#A8EBAC" stroke-width="1.1"/>
<line x1="498" y1="1116" x2="540" y2="1116" stroke="#60DA6A" stroke-width="2.4"/>
<line x1="540" y1="1111" x2="540" y2="1122" stroke="#60DA6A" stroke-width="2.4"/>
<line x1="540" y1="1111" x2="588" y2="1111" stroke="#60DA6A" stroke-width="2.4"/>
<line x1="540" y1="1122" x2="588" y2="1122" stroke="#60DA6A" stroke-width="2.4"/>
<line x1="588" y1="1107.7" x2="588" y2="1125" stroke="#60DA6A" stroke-width="2.4"/>
<line x1="588" y1="1107.7" x2="742" y2="1107.7" stroke="#60DA6A" stroke-width="2.4"/>
<line x1="588" y1="1112.5" x2="742" y2="1112.5" stroke="#60DA6A" stroke-width="2.4"/>
<rect x="588" y="1116" width="341" height="9" fill="#60DA6A"/>
<line x1="595.4" y1="1122.6" x2="785.5" y2="1122.6" stroke="#ffffff" stroke-width="1.1"/>
<line x1="590" y1="1118.5" x2="707" y2="1118.5" stroke="#A8EBAC" stroke-width="1.3"/>
<line x1="590" y1="1121.5" x2="700" y2="1121.5" stroke="#A8EBAC" stroke-width="1.3"/>
<rect x="720" y="1125" width="209" height="4" fill="#60DA6A"/>
<rect x="720" y="1129" width="130" height="15" fill="#60DA6A"/>
<line x1="741.9" y1="1135.6" x2="795.3" y2="1135.6" stroke="#A8EBAC" stroke-width="1.1"/>
<line x1="498" y1="1137.5" x2="720" y2="1137.5" stroke="#60DA6A" stroke-width="2.4"/>
<rect x="498" y="1144.5" width="382" height="4.2999999999999545" fill="#60DA6A"/>
<rect x="599" y="1150" width="281" height="7" fill="#60DA6A"/>
<line x1="580" y1="1090" x2="640" y2="1090" stroke="#A8EBAC" stroke-width="1.5"/>
<line x1="580" y1="1093" x2="620" y2="1093" stroke="#A8EBAC" stroke-width="1.5"/>
<line x1="590" y1="1113" x2="700" y2="1113" stroke="#fff" stroke-width="1.5"/>
<line x1="590" y1="1118" x2="720" y2="1118" stroke="#A8EBAC" stroke-width="1.5"/>
<line x1="600" y1="1152" x2="640" y2="1152" stroke="#A8EBAC" stroke-width="1.5"/>
<line x1="279" y1="1149" x2="279" y2="1212" stroke="#4F9FCB" stroke-width="2.4"/>
<line x1="279" y1="1149" x2="327" y2="1149" stroke="#4F9FCB" stroke-width="2.4"/>
<line x1="327" y1="1142" x2="327" y2="1157" stroke="#4F9FCB" stroke-width="2.4"/>
<rect x="279" y="1156" width="597" height="11" fill="#4F9FCB"/>
<line x1="415.2" y1="1158.5" x2="760.4" y2="1158.5" stroke="#9CC8E2" stroke-width="1.1"/>
<rect x="279" y="1167" width="503" height="21" fill="#4F9FCB"/>
<line x1="313.3" y1="1178.6" x2="728.5" y2="1178.6" stroke="#9CC8E2" stroke-width="1.1"/>
<line x1="289.6" y1="1183.5" x2="481.5" y2="1183.5" stroke="#9CC8E2" stroke-width="1.1"/>
<rect x="279" y="1188" width="501" height="24" fill="#4F9FCB"/>
<line x1="349.8" y1="1190.5" x2="457.7" y2="1190.5" stroke="#ffffff" stroke-width="1.1"/>
<line x1="325.0" y1="1203.7" x2="653.2" y2="1203.7" stroke="#9CC8E2" stroke-width="1.1"/>
<line x1="383.4" y1="1207.0" x2="635.9" y2="1207.0" stroke="#9CC8E2" stroke-width="1.1"/>
<line x1="281" y1="1161" x2="540" y2="1161" stroke="#9CC8E2" stroke-width="1.4"/>
<line x1="281" y1="1163" x2="460" y2="1163" stroke="#fff" stroke-width="1.4"/>
<line x1="281" y1="1167" x2="400" y2="1167" stroke="#fff" stroke-width="1.4"/>
<line x1="281" y1="1170" x2="370" y2="1170" stroke="#fff" stroke-width="1.4"/>
<line x1="281" y1="1174" x2="397" y2="1174" stroke="#fff" stroke-width="1.4"/>
<line x1="281" y1="1181" x2="340" y2="1181" stroke="#fff" stroke-width="1.4"/>
<line x1="281" y1="1185" x2="345" y2="1185" stroke="#9CC8E2" stroke-width="1.4"/>
<line x1="580" y1="1191" x2="780" y2="1191" stroke="#fff" stroke-width="1.4"/>
<line x1="600" y1="1196" x2="700" y2="1196" stroke="#fff" stroke-width="1.4"/>
<line x1="640" y1="1200" x2="780" y2="1200" stroke="#9CC8E2" stroke-width="1.4"/>
<line x1="281" y1="1205" x2="760" y2="1205" stroke="#7DD3A3" stroke-width="1.4"/>
<line x1="640" y1="1221" x2="640" y2="1251" stroke="#D3C656" stroke-width="2.4"/>
<line x1="640" y1="1221" x2="797" y2="1221" stroke="#D3C656" stroke-width="2.4"/>
<rect x="797" y="1215" width="120" height="11" fill="#C8B82C"/>
<line x1="917" y1="1215" x2="1120" y2="1215" stroke="#D3C656" stroke-width="2.4"/>
<rect x="920" y="1213.3" width="148" height="3.7000000000000455" fill="#C8B82C"/>
<line x1="640" y1="1232" x2="835" y2="1232" stroke="#D3C656" stroke-width="2.4"/>
<rect x="835" y="1229" width="182" height="7" fill="#C8B82C"/>
<rect x="640" y="1236" width="365" height="15" fill="#C8B82C"/>
<line x1="1005" y1="1240" x2="1120" y2="1240" stroke="#D3C656" stroke-width="2.4"/>
<line x1="1005" y1="1247" x2="1105" y2="1247" stroke="#D3C656" stroke-width="2.4"/>
<line x1="1017" y1="1230" x2="1085" y2="1230" stroke="#D3C656" stroke-width="2.4"/>
<line x1="1017" y1="1234" x2="1045" y2="1234" stroke="#D3C656" stroke-width="2.4"/>
<line x1="645" y1="1226" x2="700" y2="1226" stroke="#fff" stroke-width="1.3"/>
<line x1="640" y1="1238" x2="700" y2="1238" stroke="#DCD27A" stroke-width="1.3"/>
<line x1="1000" y1="1243" x2="1040" y2="1243" stroke="#fff" stroke-width="1.3"/>
<line x1="1062" y1="13.3" x2="1073.793206608604" y2="13.3" stroke="#fff" stroke-width="1.5"/>
<line x1="1062" y1="33.3" x2="1071.4205097066597" y2="33.3" stroke="#fff" stroke-width="1.5"/>
<line x1="1013" y1="32.3" x2="1069.0744886646994" y2="32.3" stroke="#fff" stroke-width="1.5"/>
<line x1="1000" y1="41.3" x2="1067.9405141344846" y2="41.3" stroke="#fff" stroke-width="1.5"/>
<line x1="1062" y1="46.3" x2="1068.530834530701" y2="46.3" stroke="#fff" stroke-width="1.5"/>
<line x1="957" y1="88.3" x2="1016.2742958932491" y2="88.3" stroke="#fff" stroke-width="1.5"/>
<line x1="1062" y1="128.3" x2="1066.3851830026238" y2="128.3" stroke="#fff" stroke-width="1.5"/>
<line x1="1023" y1="129.3" x2="1071.2140882831438" y2="129.3" stroke="#fff" stroke-width="1.5"/>
<line x1="1023" y1="134.3" x2="1065.418328460344" y2="134.3" stroke="#fff" stroke-width="1.5"/>
<line x1="1063" y1="147.3" x2="1069.8265562027937" y2="147.3" stroke="#fff" stroke-width="1.5"/>
<line x1="1063" y1="170.3" x2="1066.1322523276106" y2="170.3" stroke="#fff" stroke-width="1.5"/>
<line x1="1047" y1="40.3" x2="1070.8459593331404" y2="40.3" stroke="#fff" stroke-width="1.5"/>
<line x1="1020" y1="53.3" x2="1069.5321454071845" y2="53.3" stroke="#fff" stroke-width="1.5"/>
<line x1="1021" y1="164.3" x2="1068.3471986907002" y2="164.3" stroke="#fff" stroke-width="1.5"/>
<line x1="1017" y1="193.3" x2="1065.0208196581941" y2="193.3" stroke="#fff" stroke-width="1.5"/>
<line x1="1021" y1="200.3" x2="1067.4976882002134" y2="200.3" stroke="#fff" stroke-width="1.5"/>
<line x1="1029" y1="209.3" x2="1056.3523302974454" y2="209.3" stroke="#fff" stroke-width="1.5"/>
<line x1="1000" y1="215.3" x2="1054.5792615546447" y2="215.3" stroke="#fff" stroke-width="1.5"/>
<line x1="1017" y1="220.3" x2="1053.3155050919388" y2="220.3" stroke="#fff" stroke-width="1.5"/>
<line x1="1020" y1="232.3" x2="1027.6018640250904" y2="232.3" stroke="#fff" stroke-width="1.5"/>
<line x1="1020" y1="270.3" x2="1066.0472279142227" y2="270.3" stroke="#fff" stroke-width="1.5"/>
<line x1="1020" y1="280.3" x2="1063.7984279695083" y2="280.3" stroke="#fff" stroke-width="1.5"/>
<line x1="1020" y1="288.3" x2="1065.6964978808785" y2="288.3" stroke="#fff" stroke-width="1.5"/>
<line x1="1016" y1="355.3" x2="1064.6550174257181" y2="355.3" stroke="#fff" stroke-width="1.5"/>
<line x1="1025" y1="221.3" x2="1054.0882951961935" y2="221.3" stroke="#fff" stroke-width="1.5"/>
<line x1="1022" y1="219.3" x2="1052.6542731477248" y2="219.3" stroke="#fff" stroke-width="1.5"/>
<line x1="1056" y1="188.3" x2="1060.996177505353" y2="188.3" stroke="#fff" stroke-width="1.5"/>
<line x1="1021" y1="240.3" x2="1039.4376370698108" y2="240.3" stroke="#fff" stroke-width="1.5"/>
<line x1="1000" y1="281.3" x2="1063.3608383657402" y2="281.3" stroke="#fff" stroke-width="1.5"/>
<line x1="1047" y1="286.3" x2="1061.2802577558996" y2="286.3" stroke="#fff" stroke-width="1.5"/>
<line x1="968" y1="326.3" x2="1062.6867823562027" y2="326.3" stroke="#fff" stroke-width="1.5"/>
<line x1="1045" y1="337.3" x2="1062.3880638295645" y2="337.3" stroke="#fff" stroke-width="1.5"/>
<line x1="910" y1="380.3" x2="1060.055232484267" y2="380.3" stroke="#fff" stroke-width="1.5"/>
<line x1="977" y1="383.3" x2="1064.9136684604264" y2="383.3" stroke="#fff" stroke-width="1.5"/>
<line x1="913" y1="497.3" x2="1074.8194965755554" y2="497.3" stroke="#fff" stroke-width="1.5"/>
<line x1="1021" y1="503.3" x2="1073.6556129687476" y2="503.3" stroke="#fff" stroke-width="1.5"/>
<line x1="975" y1="507.3" x2="1074.5283646453495" y2="507.3" stroke="#fff" stroke-width="1.5"/>
<line x1="885" y1="558.3" x2="1073.0190813304248" y2="558.3" stroke="#fff" stroke-width="1.5"/>
<line x1="1010" y1="554.3" x2="1068.0286242069897" y2="554.3" stroke="#fff" stroke-width="1.5"/>
<line x1="951" y1="377.3" x2="1064.4065007924053" y2="377.3" stroke="#fff" stroke-width="1.5"/>
<line x1="1017" y1="401.3" x2="1060.932929388468" y2="401.3" stroke="#fff" stroke-width="1.5"/>
<line x1="1021" y1="423.3" x2="1064.6776278623065" y2="423.3" stroke="#fff" stroke-width="1.5"/>
<line x1="1021" y1="429.3" x2="1060.9264573824144" y2="429.3" stroke="#fff" stroke-width="1.5"/>
<line x1="1021" y1="465.3" x2="1066.590258172077" y2="465.3" stroke="#fff" stroke-width="1.5"/>
<line x1="1019" y1="524.3" x2="1073.1333113305532" y2="524.3" stroke="#fff" stroke-width="1.5"/>
<line x1="1047" y1="529.3" x2="1070.287011970142" y2="529.3" stroke="#fff" stroke-width="1.5"/>
<line x1="1063" y1="537.3" x2="1074.9672511729195" y2="537.3" stroke="#fff" stroke-width="1.5"/>
<line x1="1021" y1="538.3" x2="1072.0459714168421" y2="538.3" stroke="#fff" stroke-width="1.5"/>
<line x1="1019" y1="546.3" x2="1067.3752165957992" y2="546.3" stroke="#fff" stroke-width="1.5"/>
<line x1="1051" y1="550.3" x2="1070.8760685354337" y2="550.3" stroke="#fff" stroke-width="1.5"/>
<line x1="1011" y1="380.3" x2="1062.590399340404" y2="380.3" stroke="#fff" stroke-width="1.5"/>
<line x1="1011" y1="498.3" x2="1067.8037359195364" y2="498.3" stroke="#fff" stroke-width="1.5"/>
<line x1="1052" y1="531.3" x2="1071.8081693414379" y2="531.3" stroke="#fff" stroke-width="1.5"/>
<line x1="985" y1="567.3" x2="1069.9256834745142" y2="567.3" stroke="#fff" stroke-width="1.5"/>
<line x1="1010" y1="473.3" x2="1067.4612190732557" y2="473.3" stroke="#fff" stroke-width="1.5"/>
<line x1="939" y1="454.3" x2="1055.7015744978232" y2="454.3" stroke="#fff" stroke-width="1.5"/>
<line x1="980" y1="457.3" x2="1056.579395168878" y2="457.3" stroke="#fff" stroke-width="1.5"/>
<line x1="968" y1="508.3" x2="1073.7898805417647" y2="508.3" stroke="#fff" stroke-width="1.5"/>
<line x1="971" y1="532.3" x2="1072.0911206237233" y2="532.3" stroke="#fff" stroke-width="1.5"/>
<line x1="1029" y1="552.3" x2="1068.0053409810093" y2="552.3" stroke="#fff" stroke-width="1.5"/>
<line x1="969" y1="558.3" x2="1073.8115961173528" y2="558.3" stroke="#fff" stroke-width="1.5"/>
<line x1="973" y1="564.3" x2="1072.2208836315704" y2="564.3" stroke="#fff" stroke-width="1.5"/>
<line x1="1065" y1="560.3" x2="1074.0172621539025" y2="560.3" stroke="#fff" stroke-width="1.5"/>
<line x1="887" y1="612.3" x2="1071.12932274867" y2="612.3" stroke="#fff" stroke-width="1.5"/>
<line x1="876" y1="615.3" x2="1074.1824990660145" y2="615.3" stroke="#fff" stroke-width="1.5"/>
<line x1="868" y1="632.3" x2="1059.8819448662625" y2="632.3" stroke="#fff" stroke-width="1.5"/>
<line x1="901" y1="633.3" x2="1061.815234231638" y2="633.3" stroke="#fff" stroke-width="1.5"/>
<line x1="876" y1="649.3" x2="1060.8271796888073" y2="649.3" stroke="#fff" stroke-width="1.5"/>
<line x1="868" y1="653.3" x2="1061.7836600686226" y2="653.3" stroke="#fff" stroke-width="1.5"/>
<line x1="876" y1="660.3" x2="1054.1719900582482" y2="660.3" stroke="#fff" stroke-width="1.5"/>
<line x1="865" y1="677.3" x2="1059.911078422165" y2="677.3" stroke="#fff" stroke-width="1.5"/>
<line x1="866" y1="685.3" x2="1060.6636637237252" y2="685.3" stroke="#fff" stroke-width="1.5"/>
<line x1="873" y1="698.3" x2="1055.7675608692946" y2="698.3" stroke="#fff" stroke-width="1.5"/>
<line x1="874" y1="710.3" x2="1060.2156666151745" y2="710.3" stroke="#fff" stroke-width="1.5"/>
<line x1="905" y1="694.3" x2="1060.1860840797474" y2="694.3" stroke="#fff" stroke-width="1.5"/>
<line x1="978" y1="639.3" x2="1059.1554996531604" y2="639.3" stroke="#fff" stroke-width="1.5"/>
<line x1="978" y1="645.3" x2="1061.7765033966234" y2="645.3" stroke="#fff" stroke-width="1.5"/>
<line x1="937" y1="722.3" x2="1059.926605093858" y2="722.3" stroke="#fff" stroke-width="1.5"/>
<line x1="919" y1="729.3" x2="1054.3478793892693" y2="729.3" stroke="#fff" stroke-width="1.5"/>
<line x1="885" y1="560.3" x2="1067.50383038979" y2="560.3" stroke="#fff" stroke-width="1.5"/>
<line x1="1026" y1="571.3" x2="1073.23630141603" y2="571.3" stroke="#fff" stroke-width="1.5"/>
<line x1="968" y1="600.3" x2="1073.4263506926454" y2="600.3" stroke="#fff" stroke-width="1.5"/>
<line x1="979" y1="617.3" x2="1070.0074688204975" y2="617.3" stroke="#fff" stroke-width="1.5"/>
<line x1="941" y1="679.3" x2="1056.776175657272" y2="679.3" stroke="#fff" stroke-width="1.5"/>
<line x1="979" y1="705.3" x2="1056.7153147983609" y2="705.3" stroke="#fff" stroke-width="1.5"/>
<line x1="973" y1="564.3" x2="1073.5718262532994" y2="564.3" stroke="#fff" stroke-width="1.5"/>
<line x1="933" y1="630.3" x2="1055.5934114488264" y2="630.3" stroke="#fff" stroke-width="1.5"/>
<line x1="985" y1="568.3" x2="1071.7889054570585" y2="568.3" stroke="#fff" stroke-width="1.5"/>
<line x1="932" y1="736.3" x2="1060.639970720225" y2="736.3" stroke="#fff" stroke-width="1.5"/>
<line x1="913" y1="580.3" x2="1073.790794396948" y2="580.3" stroke="#fff" stroke-width="1.5"/>
<line x1="1037" y1="595.3" x2="1068.3879161717969" y2="595.3" stroke="#fff" stroke-width="1.5"/>
<line x1="1056" y1="602.3" x2="1072.1967399027399" y2="602.3" stroke="#fff" stroke-width="1.5"/>
<line x1="913" y1="644.3" x2="1060.9521291839244" y2="644.3" stroke="#fff" stroke-width="1.5"/>
<line x1="1024" y1="642.3" x2="1054.2328785820978" y2="642.3" stroke="#fff" stroke-width="1.5"/>
<line x1="1042" y1="663.3" x2="1057.7873516232075" y2="663.3" stroke="#fff" stroke-width="1.5"/>
<line x1="1019" y1="682.3" x2="1055.0260565760848" y2="682.3" stroke="#fff" stroke-width="1.5"/>
<line x1="957" y1="711.3" x2="1059.9853215090764" y2="711.3" stroke="#fff" stroke-width="1.5"/>
<line x1="1043" y1="713.3" x2="1060.0756848595333" y2="713.3" stroke="#fff" stroke-width="1.5"/>
<line x1="1020" y1="716.3" x2="1059.9250816378383" y2="716.3" stroke="#fff" stroke-width="1.5"/>
<line x1="1020" y1="722.3" x2="1060.951410587972" y2="722.3" stroke="#fff" stroke-width="1.5"/>
<line x1="979" y1="690.3" x2="1058.334712108226" y2="690.3" stroke="#fff" stroke-width="1.5"/>
<line x1="930" y1="699.3" x2="1054.7656258036636" y2="699.3" stroke="#fff" stroke-width="1.5"/>
<line x1="930" y1="804.3" x2="940.6582313252587" y2="804.3" stroke="#fff" stroke-width="1.5"/>
<line x1="914" y1="809.3" x2="943.7454003005125" y2="809.3" stroke="#fff" stroke-width="1.5"/>
<line x1="914" y1="831.3" x2="947.8503610567566" y2="831.3" stroke="#fff" stroke-width="1.5"/>
<line x1="930" y1="839.3" x2="946.5351369018224" y2="839.3" stroke="#fff" stroke-width="1.5"/>
<line x1="930" y1="861.3" x2="941.6066363960622" y2="861.3" stroke="#fff" stroke-width="1.5"/>
<line x1="829" y1="784.3" x2="906.2120565403044" y2="784.3" stroke="#fff" stroke-width="1.5"/>
<line x1="823" y1="791.3" x2="905.5481950007822" y2="791.3" stroke="#fff" stroke-width="1.5"/>
<line x1="805" y1="823.3" x2="943.8532102983758" y2="823.3" stroke="#fff" stroke-width="1.5"/>
<line x1="816" y1="842.3" x2="941.7258201970762" y2="842.3" stroke="#fff" stroke-width="1.5"/>
<line x1="823" y1="905.3" x2="907.5176309313284" y2="905.3" stroke="#fff" stroke-width="1.5"/>
<line x1="834" y1="912.3" x2="909.7846634362818" y2="912.3" stroke="#fff" stroke-width="1.5"/>
<line x1="855" y1="780.3" x2="905.5061649067482" y2="780.3" stroke="#fff" stroke-width="1.5"/>
<line x1="821" y1="880.3" x2="907.0997769252443" y2="880.3" stroke="#fff" stroke-width="1.5"/>
<line x1="821" y1="883.3" x2="907.9027082205174" y2="883.3" stroke="#fff" stroke-width="1.5"/>
<line x1="842" y1="922.3" x2="908.3812336618807" y2="922.3" stroke="#fff" stroke-width="1.5"/>
<line x1="818" y1="938.3" x2="960.1757094557433" y2="938.3" stroke="#fff" stroke-width="1.5"/>
<line x1="900" y1="778.3" x2="902.9877161457553" y2="778.3" stroke="#fff" stroke-width="1.5"/>
<line x1="866" y1="833.3" x2="943.5238895480182" y2="833.3" stroke="#fff" stroke-width="1.5"/>
<line x1="844" y1="922.3" x2="911.0270243649265" y2="922.3" stroke="#fff" stroke-width="1.5"/>
<line x1="919" y1="936.3" x2="963.4196312027481" y2="936.3" stroke="#fff" stroke-width="1.5"/>
<line x1="855" y1="919.3" x2="911.4150338642186" y2="919.3" stroke="#fff" stroke-width="1.5"/>
<line x1="845" y1="830.3" x2="941.7285118626147" y2="830.3" stroke="#fff" stroke-width="1.5"/>
<line x1="840" y1="855.3" x2="942.2710409376945" y2="855.3" stroke="#fff" stroke-width="1.5"/>
<line x1="895" y1="759.3" x2="908.8561680166061" y2="759.3" stroke="#fff" stroke-width="1.5"/>
<line x1="850" y1="879.3" x2="904.3799669686481" y2="879.3" stroke="#fff" stroke-width="1.5"/>
<line x1="895" y1="887.3" x2="908.1019138000729" y2="887.3" stroke="#fff" stroke-width="1.5"/>
<line x1="890" y1="924.3" x2="908.5478254560189" y2="924.3" stroke="#fff" stroke-width="1.5"/>
<line x1="901" y1="925.3" x2="961.2870708452895" y2="925.3" stroke="#fff" stroke-width="1.5"/>
<line x1="896" y1="941.3" x2="961.4517954532985" y2="941.3" stroke="#fff" stroke-width="1.5"/>
<line x1="773" y1="916.3" x2="911.8441365755808" y2="916.3" stroke="#fff" stroke-width="1.5"/>
<line x1="574" y1="983.3" x2="766.4763351855784" y2="983.3" stroke="#fff" stroke-width="1.5"/>
<line x1="551" y1="996.3" x2="803.3480168868641" y2="996.3" stroke="#fff" stroke-width="1.5"/>
<line x1="571" y1="1000.3" x2="801.9019017242923" y2="1000.3" stroke="#fff" stroke-width="1.5"/>
<line x1="696" y1="1007.3" x2="777.1193340469272" y2="1007.3" stroke="#fff" stroke-width="1.5"/>
<line x1="660" y1="968.3" x2="785.8754858212518" y2="968.3" stroke="#fff" stroke-width="1.5"/>
<line x1="780" y1="965.3" x2="957.7680205594569" y2="965.3" stroke="#fff" stroke-width="1.5"/>
<line x1="721" y1="981.3" x2="768.9635555255546" y2="981.3" stroke="#fff" stroke-width="1.5"/>
<line x1="639" y1="1005.3" x2="834.7086894705311" y2="1005.3" stroke="#fff" stroke-width="1.5"/>
<line x1="762" y1="1058.3" x2="974.8050564207674" y2="1058.3" stroke="#fff" stroke-width="1.5"/>
<line x1="769" y1="1068.3" x2="782.396660427627" y2="1068.3" stroke="#fff" stroke-width="1.5"/>
<line x1="742" y1="1071.3" x2="787.5397879004724" y2="1071.3" stroke="#fff" stroke-width="1.5"/>
<line x1="732" y1="1074.3" x2="784.5974636736343" y2="1074.3" stroke="#fff" stroke-width="1.5"/>
<line x1="890" y1="955.3" x2="904.4932023276787" y2="955.3" stroke="#fff" stroke-width="1.5"/>
<line x1="741" y1="1071.3" x2="781.5869712674289" y2="1071.3" stroke="#fff" stroke-width="1.5"/>
<line x1="750" y1="994.3" x2="799.1501709090228" y2="994.3" stroke="#fff" stroke-width="1.5"/>
<line x1="756" y1="1034.3" x2="904.0978002475692" y2="1034.3" stroke="#fff" stroke-width="1.5"/>
<line x1="830" y1="1037.3" x2="908.2867857817229" y2="1037.3" stroke="#fff" stroke-width="1.5"/>
<line x1="772" y1="999.3" x2="798.5866457274302" y2="999.3" stroke="#fff" stroke-width="1.5"/>
<line x1="834" y1="1101.3" x2="939.9662016008374" y2="1101.3" stroke="#fff" stroke-width="1.5"/>
<line x1="874" y1="1102.3" x2="939.0925106443092" y2="1102.3" stroke="#fff" stroke-width="1.5"/>
<line x1="853" y1="1107.3" x2="939.7084072672191" y2="1107.3" stroke="#fff" stroke-width="1.5"/>
<line x1="853" y1="1117.3" x2="927.385854009852" y2="1117.3" stroke="#fff" stroke-width="1.5"/>
<line x1="841" y1="1080.3" x2="920.5599568169662" y2="1080.3" stroke="#fff" stroke-width="1.5"/>
<line x1="879" y1="1083.3" x2="918.9992912011053" y2="1083.3" stroke="#fff" stroke-width="1.5"/>
<line x1="909" y1="1118.3" x2="926.2239918229772" y2="1118.3" stroke="#fff" stroke-width="1.5"/>
<line x1="876" y1="1088.3" x2="938.9964099504382" y2="1088.3" stroke="#fff" stroke-width="1.5"/>
<line x1="906" y1="1090.3" x2="935.1353569325415" y2="1090.3" stroke="#fff" stroke-width="1.5"/>
<line x1="761" y1="1094.3" x2="939.4843480280498" y2="1094.3" stroke="#fff" stroke-width="1.5"/>
<line x1="890" y1="1104.3" x2="933.5228572817412" y2="1104.3" stroke="#fff" stroke-width="1.5"/>
<line x1="834" y1="1109.3" x2="934.4486388772663" y2="1109.3" stroke="#fff" stroke-width="1.5"/>
<line x1="793" y1="1114.3" x2="937.0399874123391" y2="1114.3" stroke="#fff" stroke-width="1.5"/>
<line x1="914" y1="1099.3" x2="936.9465123827587" y2="1099.3" stroke="#fff" stroke-width="1.5"/>
<line x1="914" y1="1115.3" x2="933.1404756766816" y2="1115.3" stroke="#fff" stroke-width="1.5"/>
<line x1="823" y1="1126.3" x2="922.3417076538844" y2="1126.3" stroke="#fff" stroke-width="1.5"/>
<line x1="827" y1="1132.3" x2="844.9121844089199" y2="1132.3" stroke="#fff" stroke-width="1.5"/>
<line x1="831" y1="1137.3" x2="847.2195825587581" y2="1137.3" stroke="#fff" stroke-width="1.5"/>
<line x1="823" y1="1142.3" x2="848.9614513507929" y2="1142.3" stroke="#fff" stroke-width="1.5"/>
<line x1="806" y1="1135.3" x2="844.0728864145366" y2="1135.3" stroke="#fff" stroke-width="1.5"/>
<line x1="806" y1="1140.3" x2="848.694027837789" y2="1140.3" stroke="#fff" stroke-width="1.5"/>
<line x1="768" y1="1138.3" x2="843.2698481451939" y2="1138.3" stroke="#fff" stroke-width="1.5"/>
<line x1="917" y1="1106.3" x2="938.744533741547" y2="1106.3" stroke="#fff" stroke-width="1.5"/>
<line x1="773" y1="1162.3" x2="873.6555320593574" y2="1162.3" stroke="#fff" stroke-width="1.5"/>
<line x1="837" y1="1158.3" x2="874.7397364813663" y2="1158.3" stroke="#fff" stroke-width="1.5"/>
<line x1="766" y1="1205.3" x2="777.8940554640209" y2="1205.3" stroke="#fff" stroke-width="1.5"/>
<line x1="598" y1="1197.3" x2="778.0444280484649" y2="1197.3" stroke="#fff" stroke-width="1.5"/>
<line x1="695" y1="1211.3" x2="777.1473286638881" y2="1211.3" stroke="#fff" stroke-width="1.5"/>
<line x1="718" y1="1195.3" x2="776.9469871470993" y2="1195.3" stroke="#fff" stroke-width="1.5"/>
<line x1="582" y1="1190.3" x2="775.9778879489888" y2="1190.3" stroke="#fff" stroke-width="1.5"/>
<line x1="723" y1="1206.3" x2="775.9621148838855" y2="1206.3" stroke="#fff" stroke-width="1.5"/>
<line x1="667" y1="1184.3" x2="779.8866505135867" y2="1184.3" stroke="#fff" stroke-width="1.5"/>
<line x1="588" y1="1192.3" x2="776.8039106376885" y2="1192.3" stroke="#fff" stroke-width="1.5"/>
<line x1="654" y1="1198.3" x2="779.8200468242379" y2="1198.3" stroke="#fff" stroke-width="1.5"/>
<line x1="1058" y1="3" x2="1072" y2="3" stroke="#5EC5AE" stroke-width="2.3"/>
<line x1="1058" y1="8" x2="1072" y2="8" stroke="#5EC5AE" stroke-width="2.3"/>
<line x1="1058" y1="7" x2="1080" y2="7" stroke="#5EC5AE" stroke-width="2.3"/>
<line x1="1058" y1="13" x2="1072" y2="13" stroke="#5EC5AE" stroke-width="2.3"/>
<line x1="1058" y1="17" x2="1072" y2="17" stroke="#5EC5AE" stroke-width="2.3"/>
<line x1="1058" y1="11" x2="1152" y2="11" stroke="#5EC5AE" stroke-width="2.3"/>
<line x1="1058" y1="17" x2="1127" y2="17" stroke="#5EC5AE" stroke-width="2.3"/>
<line x1="1058" y1="19" x2="1093" y2="19" stroke="#5EC5AE" stroke-width="2.3"/>
<line x1="1058" y1="21" x2="1152" y2="21" stroke="#5EC5AE" stroke-width="2.3"/>
<line x1="1058" y1="35" x2="1074" y2="35" stroke="#5EC5AE" stroke-width="2.3"/>
<line x1="1058" y1="31" x2="1077" y2="31" stroke="#5EC5AE" stroke-width="2.3"/>
<line x1="1058" y1="37" x2="1104" y2="37" stroke="#5EC5AE" stroke-width="2.3"/>
<line x1="1058" y1="38" x2="1127" y2="38" stroke="#5EC5AE" stroke-width="2.3"/>
<line x1="1058" y1="44" x2="1160" y2="44" stroke="#5EC5AE" stroke-width="2.3"/>
<line x1="1058" y1="43" x2="1071" y2="43" stroke="#5EC5AE" stroke-width="2.3"/>
<line x1="1058" y1="49" x2="1071" y2="49" stroke="#5EC5AE" stroke-width="2.3"/>
<line x1="1058" y1="48" x2="1107" y2="48" stroke="#5EC5AE" stroke-width="2.3"/>
<line x1="1058" y1="51" x2="1127" y2="51" stroke="#5EC5AE" stroke-width="2.3"/>
<line x1="1058" y1="59" x2="1072" y2="59" stroke="#5EC5AE" stroke-width="2.3"/>
<line x1="1058" y1="57" x2="1082" y2="57" stroke="#5EC5AE" stroke-width="2.3"/>
<line x1="1058" y1="65" x2="1087" y2="65" stroke="#5EC5AE" stroke-width="2.3"/>
<line x1="1058" y1="69" x2="1080" y2="69" stroke="#5EC5AE" stroke-width="2.3"/>
<line x1="1016" y1="72" x2="1073" y2="72" stroke="#5EC5AE" stroke-width="2.3"/>
<line x1="1058" y1="63" x2="1160" y2="63" stroke="#5EC5AE" stroke-width="2.3"/>
<line x1="1058" y1="64" x2="1173" y2="64" stroke="#5EC5AE" stroke-width="2.3"/>
<line x1="1058" y1="77" x2="1160" y2="77" stroke="#5EC5AE" stroke-width="2.3"/>
<line x1="1016" y1="80" x2="1074" y2="80" stroke="#5EC5AE" stroke-width="2.3"/>
<line x1="1016" y1="89" x2="1044" y2="89" stroke="#5EC5AE" stroke-width="2.3"/>
<line x1="1058" y1="92" x2="1072" y2="92" stroke="#5EC5AE" stroke-width="2.3"/>
<line x1="1058" y1="97" x2="1072" y2="97" stroke="#5EC5AE" stroke-width="2.3"/>
<line x1="1058" y1="102" x2="1072" y2="102" stroke="#5EC5AE" stroke-width="2.3"/>
<line x1="1058" y1="107" x2="1072" y2="107" stroke="#5EC5AE" stroke-width="2.3"/>
<line x1="1058" y1="112" x2="1072" y2="112" stroke="#5EC5AE" stroke-width="2.3"/>
<line x1="1058" y1="117" x2="1072" y2="117" stroke="#5EC5AE" stroke-width="2.3"/>
<line x1="1058" y1="119" x2="1081" y2="119" stroke="#5EC5AE" stroke-width="2.3"/>
<line x1="1058" y1="122" x2="1072" y2="122" stroke="#5EC5AE" stroke-width="2.3"/>
<line x1="1058" y1="125" x2="1173" y2="125" stroke="#5EC5AE" stroke-width="2.3"/>
<line x1="1058" y1="128" x2="1072" y2="128" stroke="#5EC5AE" stroke-width="2.3"/>
<line x1="1058" y1="133" x2="1072" y2="133" stroke="#5EC5AE" stroke-width="2.3"/>
<line x1="1058" y1="143" x2="1127" y2="143" stroke="#5EC5AE" stroke-width="2.3"/>
<line x1="1058" y1="137" x2="1149" y2="137" stroke="#5EC5AE" stroke-width="2.3"/>
<line x1="1058" y1="139" x2="1153" y2="139" stroke="#5EC5AE" stroke-width="2.3"/>
<line x1="1058" y1="140" x2="1160" y2="140" stroke="#5EC5AE" stroke-width="2.3"/>
<line x1="1058" y1="146" x2="1150" y2="146" stroke="#5EC5AE" stroke-width="2.3"/>
<line x1="1058" y1="148" x2="1072" y2="148" stroke="#5EC5AE" stroke-width="2.3"/>
<line x1="1058" y1="154" x2="1072" y2="154" stroke="#5EC5AE" stroke-width="2.3"/>
<line x1="1058" y1="160" x2="1072" y2="160" stroke="#5EC5AE" stroke-width="2.3"/>
<line x1="1058" y1="160" x2="1093" y2="160" stroke="#5EC5AE" stroke-width="2.3"/>
<line x1="1058" y1="166" x2="1160" y2="166" stroke="#5EC5AE" stroke-width="2.3"/>
<line x1="1058" y1="172" x2="1072" y2="172" stroke="#5EC5AE" stroke-width="2.3"/>
<line x1="1058" y1="172" x2="1082" y2="172" stroke="#5EC5AE" stroke-width="2.3"/>
<line x1="1058" y1="176" x2="1080" y2="176" stroke="#5EC5AE" stroke-width="2.3"/>
<line x1="1058" y1="177" x2="1072" y2="177" stroke="#5EC5AE" stroke-width="2.3"/>
<line x1="1058" y1="25" x2="1073" y2="25" stroke="#5EC5AE" stroke-width="2.3"/>
<line x1="1058" y1="128" x2="1072" y2="128" stroke="#5EC5AE" stroke-width="2.3"/>
<line x1="1057" y1="217" x2="1082" y2="217" stroke="#5EC5AE" stroke-width="2.3"/>
<line x1="1044" y1="252" x2="1048" y2="252" stroke="#5EC5AE" stroke-width="2.3"/>
<line x1="1044" y1="254" x2="1053" y2="254" stroke="#5EC5AE" stroke-width="2.3"/>
<line x1="1044" y1="259" x2="1082" y2="259" stroke="#5EC5AE" stroke-width="2.3"/>
<line x1="1044" y1="249" x2="1106" y2="249" stroke="#5EC5AE" stroke-width="2.3"/>
<line x1="1044" y1="261" x2="1106" y2="261" stroke="#5EC5AE" stroke-width="2.3"/>
<line x1="1044" y1="257" x2="1120" y2="257" stroke="#5EC5AE" stroke-width="2.3"/>
<line x1="1058" y1="305" x2="1068" y2="305" stroke="#5EC5AE" stroke-width="2.3"/>
<line x1="1058" y1="308" x2="1076" y2="308" stroke="#5EC5AE" stroke-width="2.3"/>
<line x1="1058" y1="313" x2="1130" y2="313" stroke="#5EC5AE" stroke-width="2.3"/>
<line x1="1058" y1="327" x2="1114" y2="327" stroke="#5EC5AE" stroke-width="2.3"/>
<line x1="1058" y1="333" x2="1101" y2="333" stroke="#5EC5AE" stroke-width="2.3"/>
<line x1="1058" y1="338" x2="1105" y2="338" stroke="#5EC5AE" stroke-width="2.3"/>
<line x1="1058" y1="343" x2="1105" y2="343" stroke="#5EC5AE" stroke-width="2.3"/>
<line x1="1058" y1="343" x2="1141" y2="343" stroke="#5EC5AE" stroke-width="2.3"/>
<line x1="1058" y1="342" x2="1069" y2="342" stroke="#5EC5AE" stroke-width="2.3"/>
<line x1="1058" y1="358" x2="1070" y2="358" stroke="#5EC5AE" stroke-width="2.3"/>
<line x1="1058" y1="356" x2="1106" y2="356" stroke="#5EC5AE" stroke-width="2.3"/>
<line x1="1058" y1="362" x2="1062" y2="362" stroke="#5EC5AE" stroke-width="2.3"/>
<line x1="1058" y1="359" x2="1082" y2="359" stroke="#5EC5AE" stroke-width="2.3"/>
<line x1="1058" y1="190" x2="1152" y2="190" stroke="#5EC5AE" stroke-width="2.3"/>
<line x1="1058" y1="192" x2="1160" y2="192" stroke="#5EC5AE" stroke-width="2.3"/>
<line x1="1058" y1="204" x2="1116" y2="204" stroke="#5EC5AE" stroke-width="2.3"/>
<line x1="1058" y1="206" x2="1150" y2="206" stroke="#5EC5AE" stroke-width="2.3"/>
<line x1="1057" y1="212" x2="1173" y2="212" stroke="#5EC5AE" stroke-width="2.3"/>
<line x1="1057" y1="211" x2="1141" y2="211" stroke="#5EC5AE" stroke-width="2.3"/>
<line x1="1058" y1="225" x2="1160" y2="225" stroke="#5EC5AE" stroke-width="2.3"/>
<line x1="1029" y1="235" x2="1060" y2="235" stroke="#5EC5AE" stroke-width="2.3"/>
<line x1="1044" y1="247" x2="1104" y2="247" stroke="#5EC5AE" stroke-width="2.3"/>
<line x1="1058" y1="267" x2="1106" y2="267" stroke="#5EC5AE" stroke-width="2.3"/>
<line x1="1058" y1="268" x2="1127" y2="268" stroke="#5EC5AE" stroke-width="2.3"/>
<line x1="1058" y1="273" x2="1117" y2="273" stroke="#5EC5AE" stroke-width="2.3"/>
<line x1="1058" y1="271" x2="1173" y2="271" stroke="#5EC5AE" stroke-width="2.3"/>
<line x1="1058" y1="276" x2="1173" y2="276" stroke="#5EC5AE" stroke-width="2.3"/>
<line x1="1044" y1="237" x2="1152" y2="237" stroke="#5EC5AE" stroke-width="2.3"/>
<line x1="1044" y1="244" x2="1154" y2="244" stroke="#5EC5AE" stroke-width="2.3"/>
<line x1="1058" y1="297" x2="1109" y2="297" stroke="#5EC5AE" stroke-width="2.3"/>
<line x1="1058" y1="295" x2="1072" y2="295" stroke="#5EC5AE" stroke-width="2.3"/>
<line x1="1058" y1="300" x2="1076" y2="300" stroke="#5EC5AE" stroke-width="2.3"/>
<line x1="1058" y1="306" x2="1072" y2="306" stroke="#5EC5AE" stroke-width="2.3"/>
<line x1="1058" y1="312" x2="1078" y2="312" stroke="#5EC5AE" stroke-width="2.3"/>
<line x1="1058" y1="318" x2="1076" y2="318" stroke="#5EC5AE" stroke-width="2.3"/>
<line x1="1058" y1="322" x2="1078" y2="322" stroke="#5EC5AE" stroke-width="2.3"/>
<line x1="1058" y1="353" x2="1126" y2="353" stroke="#5EC5AE" stroke-width="2.3"/>
<line x1="1058" y1="352" x2="1072" y2="352" stroke="#5EC5AE" stroke-width="2.3"/>
<line x1="1058" y1="366" x2="1072" y2="366" stroke="#5EC5AE" stroke-width="2.3"/>
<line x1="1058" y1="375" x2="1078" y2="375" stroke="#5EC5AE" stroke-width="2.3"/>
<line x1="1058" y1="183" x2="1072" y2="183" stroke="#5EC5AE" stroke-width="2.3"/>
<line x1="1058" y1="186" x2="1078" y2="186" stroke="#5EC5AE" stroke-width="2.3"/>
<line x1="1058" y1="182" x2="1081" y2="182" stroke="#5EC5AE" stroke-width="2.3"/>
<line x1="1058" y1="332" x2="1072" y2="332" stroke="#5EC5AE" stroke-width="2.3"/>
<line x1="1058" y1="375" x2="1100" y2="375" stroke="#5EC5AE" stroke-width="2.3"/>
<line x1="1058" y1="398" x2="1085" y2="398" stroke="#5EC5AE" stroke-width="2.3"/>
<line x1="1058" y1="407" x2="1103" y2="407" stroke="#5EC5AE" stroke-width="2.3"/>
<line x1="1058" y1="409" x2="1115" y2="409" stroke="#5EC5AE" stroke-width="2.3"/>
<line x1="1058" y1="485" x2="1105" y2="485" stroke="#5EC5AE" stroke-width="2.3"/>
<line x1="1058" y1="487" x2="1110" y2="487" stroke="#5EC5AE" stroke-width="2.3"/>
<line x1="1058" y1="485" x2="1140" y2="485" stroke="#5EC5AE" stroke-width="2.3"/>
<line x1="1058" y1="500" x2="1120" y2="500" stroke="#5EC5AE" stroke-width="2.3"/>
<line x1="1058" y1="511" x2="1115" y2="511" stroke="#5EC5AE" stroke-width="2.3"/>
<line x1="1058" y1="542" x2="1074" y2="542" stroke="#5EC5AE" stroke-width="2.3"/>
<line x1="1058" y1="521" x2="1115" y2="521" stroke="#5EC5AE" stroke-width="2.3"/>
<line x1="1058" y1="553" x2="1072" y2="553" stroke="#5EC5AE" stroke-width="2.3"/>
<line x1="1058" y1="545" x2="1109" y2="545" stroke="#5EC5AE" stroke-width="2.3"/>
<line x1="1058" y1="556" x2="1107" y2="556" stroke="#5EC5AE" stroke-width="2.3"/>
<line x1="1058" y1="375" x2="1100" y2="375" stroke="#5EC5AE" stroke-width="2.3"/>
<line x1="1058" y1="396" x2="1072" y2="396" stroke="#5EC5AE" stroke-width="2.3"/>
<line x1="1058" y1="399" x2="1097" y2="399" stroke="#5EC5AE" stroke-width="2.3"/>
<line x1="1058" y1="415" x2="1084" y2="415" stroke="#5EC5AE" stroke-width="2.3"/>
<line x1="1058" y1="468" x2="1102" y2="468" stroke="#5EC5AE" stroke-width="2.3"/>
<line x1="1058" y1="489" x2="1065" y2="489" stroke="#5EC5AE" stroke-width="2.3"/>
<line x1="1058" y1="517" x2="1066" y2="517" stroke="#5EC5AE" stroke-width="2.3"/>
<line x1="1058" y1="515" x2="1074" y2="515" stroke="#5EC5AE" stroke-width="2.3"/>
<line x1="1058" y1="565" x2="1104" y2="565" stroke="#5EC5AE" stroke-width="2.3"/>
<line x1="1058" y1="414" x2="1113" y2="414" stroke="#5EC5AE" stroke-width="2.3"/>
<line x1="1058" y1="475" x2="1077" y2="475" stroke="#5EC5AE" stroke-width="2.3"/>
<line x1="1058" y1="476" x2="1100" y2="476" stroke="#5EC5AE" stroke-width="2.3"/>
<line x1="1058" y1="493" x2="1076" y2="493" stroke="#5EC5AE" stroke-width="2.3"/>
<line x1="1058" y1="418" x2="1074" y2="418" stroke="#5EC5AE" stroke-width="2.3"/>
<line x1="1058" y1="478" x2="1105" y2="478" stroke="#5EC5AE" stroke-width="2.3"/>
<line x1="1058" y1="481" x2="1112" y2="481" stroke="#5EC5AE" stroke-width="2.3"/>
<line x1="1058" y1="560" x2="1062" y2="560" stroke="#5EC5AE" stroke-width="2.3"/>
<line x1="1058" y1="562" x2="1086" y2="562" stroke="#5EC5AE" stroke-width="2.3"/>
<line x1="1058" y1="391" x2="1084" y2="391" stroke="#5EC5AE" stroke-width="2.3"/>
<line x1="1058" y1="411" x2="1072" y2="411" stroke="#5EC5AE" stroke-width="2.3"/>
<line x1="1058" y1="385" x2="1127" y2="385" stroke="#5EC5AE" stroke-width="2.3"/>
<line x1="1058" y1="385" x2="1150" y2="385" stroke="#5EC5AE" stroke-width="2.3"/>
<line x1="1056" y1="449" x2="1081" y2="449" stroke="#5EC5AE" stroke-width="2.3"/>
<line x1="1056" y1="452" x2="1093" y2="452" stroke="#5EC5AE" stroke-width="2.3"/>
<line x1="1056" y1="447" x2="1105" y2="447" stroke="#5EC5AE" stroke-width="2.3"/>
<line x1="1056" y1="455" x2="1173" y2="455" stroke="#5EC5AE" stroke-width="2.3"/>
<line x1="1056" y1="458" x2="1060" y2="458" stroke="#5EC5AE" stroke-width="2.3"/>
<line x1="1058" y1="462" x2="1073" y2="462" stroke="#5EC5AE" stroke-width="2.3"/>
<line x1="1058" y1="462" x2="1085" y2="462" stroke="#5EC5AE" stroke-width="2.3"/>
<line x1="1058" y1="469" x2="1173" y2="469" stroke="#5EC5AE" stroke-width="2.3"/>
<line x1="1058" y1="471" x2="1086" y2="471" stroke="#5EC5AE" stroke-width="2.3"/>
<line x1="1058" y1="490" x2="1127" y2="490" stroke="#5EC5AE" stroke-width="2.3"/>
<line x1="1058" y1="495" x2="1127" y2="495" stroke="#5EC5AE" stroke-width="2.3"/>
<line x1="1058" y1="492" x2="1141" y2="492" stroke="#5EC5AE" stroke-width="2.3"/>
<line x1="1058" y1="501" x2="1070" y2="501" stroke="#5EC5AE" stroke-width="2.3"/>
<line x1="1058" y1="512" x2="1098" y2="512" stroke="#5EC5AE" stroke-width="2.3"/>
<line x1="1058" y1="519" x2="1150" y2="519" stroke="#5EC5AE" stroke-width="2.3"/>
<line x1="1058" y1="523" x2="1085" y2="523" stroke="#5EC5AE" stroke-width="2.3"/>
<line x1="1058" y1="528" x2="1141" y2="528" stroke="#5EC5AE" stroke-width="2.3"/>
<line x1="1058" y1="383" x2="1072" y2="383" stroke="#5EC5AE" stroke-width="2.3"/>
<line x1="1058" y1="652" x2="1065" y2="652" stroke="#5EC5AE" stroke-width="2.3"/>
<line x1="1058" y1="589" x2="1082" y2="589" stroke="#5EC5AE" stroke-width="2.3"/>
<line x1="1058" y1="732" x2="1062" y2="732" stroke="#5EC5AE" stroke-width="2.3"/>
<line x1="1058" y1="676" x2="1110" y2="676" stroke="#5EC5AE" stroke-width="2.3"/>
<line x1="1058" y1="563" x2="1087" y2="563" stroke="#5EC5AE" stroke-width="2.3"/>
<line x1="1058" y1="585" x2="1077" y2="585" stroke="#5EC5AE" stroke-width="2.3"/>
<line x1="1058" y1="601" x2="1107" y2="601" stroke="#5EC5AE" stroke-width="2.3"/>
<line x1="1058" y1="605" x2="1076" y2="605" stroke="#5EC5AE" stroke-width="2.3"/>
<line x1="1058" y1="637" x2="1066" y2="637" stroke="#5EC5AE" stroke-width="2.3"/>
<line x1="1058" y1="726" x2="1066" y2="726" stroke="#5EC5AE" stroke-width="2.3"/>
<line x1="1058" y1="578" x2="1082" y2="578" stroke="#5EC5AE" stroke-width="2.3"/>
<line x1="1058" y1="603" x2="1077" y2="603" stroke="#5EC5AE" stroke-width="2.3"/>
<line x1="1058" y1="608" x2="1077" y2="608" stroke="#5EC5AE" stroke-width="2.3"/>
<line x1="1058" y1="613" x2="1077" y2="613" stroke="#5EC5AE" stroke-width="2.3"/>
<line x1="1058" y1="618" x2="1098" y2="618" stroke="#5EC5AE" stroke-width="2.3"/>
<line x1="1058" y1="636" x2="1102" y2="636" stroke="#5EC5AE" stroke-width="2.3"/>
<line x1="1058" y1="647" x2="1117" y2="647" stroke="#5EC5AE" stroke-width="2.3"/>
<line x1="1058" y1="655" x2="1070" y2="655" stroke="#5EC5AE" stroke-width="2.3"/>
<line x1="1058" y1="657" x2="1107" y2="657" stroke="#5EC5AE" stroke-width="2.3"/>
<line x1="1058" y1="664" x2="1077" y2="664" stroke="#5EC5AE" stroke-width="2.3"/>
<line x1="1058" y1="674" x2="1106" y2="674" stroke="#5EC5AE" stroke-width="2.3"/>
<line x1="1058" y1="681" x2="1115" y2="681" stroke="#5EC5AE" stroke-width="2.3"/>
<line x1="1058" y1="708" x2="1120" y2="708" stroke="#5EC5AE" stroke-width="2.3"/>
<line x1="1058" y1="572" x2="1160" y2="572" stroke="#5EC5AE" stroke-width="2.3"/>
<line x1="1058" y1="577" x2="1070" y2="577" stroke="#5EC5AE" stroke-width="2.3"/>
<line x1="1058" y1="575" x2="1127" y2="575" stroke="#5EC5AE" stroke-width="2.3"/>
<line x1="1058" y1="607" x2="1127" y2="607" stroke="#5EC5AE" stroke-width="2.3"/>
<line x1="1058" y1="622" x2="1127" y2="622" stroke="#5EC5AE" stroke-width="2.3"/>
<line x1="1058" y1="624" x2="1127" y2="624" stroke="#5EC5AE" stroke-width="2.3"/>
<line x1="1058" y1="620" x2="1093" y2="620" stroke="#5EC5AE" stroke-width="2.3"/>
<line x1="1058" y1="661" x2="1125" y2="661" stroke="#5EC5AE" stroke-width="2.3"/>
<line x1="1058" y1="695" x2="1173" y2="695" stroke="#5EC5AE" stroke-width="2.3"/>
<line x1="1058" y1="735" x2="1152" y2="735" stroke="#5EC5AE" stroke-width="2.3"/>
<line x1="908" y1="744" x2="925" y2="744" stroke="#DE80DA" stroke-width="2.3"/>
<line x1="908" y1="754" x2="927" y2="754" stroke="#DE80DA" stroke-width="2.3"/>
<line x1="908" y1="757" x2="927" y2="757" stroke="#DE80DA" stroke-width="2.3"/>
<line x1="908" y1="771" x2="927" y2="771" stroke="#DE80DA" stroke-width="2.3"/>
<line x1="908" y1="804" x2="927" y2="804" stroke="#DE80DA" stroke-width="2.3"/>
<line x1="908" y1="839" x2="927" y2="839" stroke="#DE80DA" stroke-width="2.3"/>
<line x1="908" y1="861" x2="927" y2="861" stroke="#DE80DA" stroke-width="2.3"/>
<line x1="908" y1="773" x2="918" y2="773" stroke="#DE80DA" stroke-width="2.3"/>
<line x1="908" y1="783" x2="949" y2="783" stroke="#DE80DA" stroke-width="2.3"/>
<line x1="908" y1="799" x2="948" y2="799" stroke="#DE80DA" stroke-width="2.3"/>
<line x1="908" y1="802" x2="954" y2="802" stroke="#DE80DA" stroke-width="2.3"/>
<line x1="908" y1="810" x2="949" y2="810" stroke="#DE80DA" stroke-width="2.3"/>
<line x1="908" y1="815" x2="953" y2="815" stroke="#DE80DA" stroke-width="2.3"/>
<line x1="908" y1="820" x2="927" y2="820" stroke="#DE80DA" stroke-width="2.3"/>
<line x1="908" y1="846" x2="927" y2="846" stroke="#DE80DA" stroke-width="2.3"/>
<line x1="908" y1="852" x2="937" y2="852" stroke="#DE80DA" stroke-width="2.3"/>
<line x1="908" y1="850" x2="943" y2="850" stroke="#DE80DA" stroke-width="2.3"/>
<line x1="908" y1="847" x2="953" y2="847" stroke="#DE80DA" stroke-width="2.3"/>
<line x1="908" y1="857" x2="949" y2="857" stroke="#DE80DA" stroke-width="2.3"/>
<line x1="908" y1="884" x2="972" y2="884" stroke="#DE80DA" stroke-width="2.3"/>
<line x1="908" y1="886" x2="993" y2="886" stroke="#DE80DA" stroke-width="2.3"/>
<line x1="908" y1="890" x2="927" y2="890" stroke="#DE80DA" stroke-width="2.3"/>
<line x1="908" y1="893" x2="951" y2="893" stroke="#DE80DA" stroke-width="2.3"/>
<line x1="908" y1="895" x2="962" y2="895" stroke="#DE80DA" stroke-width="2.3"/>
<line x1="908" y1="900" x2="951" y2="900" stroke="#DE80DA" stroke-width="2.3"/>
<line x1="908" y1="914" x2="1018" y2="914" stroke="#DE80DA" stroke-width="2.3"/>
<line x1="908" y1="911" x2="1037" y2="911" stroke="#DE80DA" stroke-width="2.3"/>
<line x1="908" y1="929" x2="978" y2="929" stroke="#DE80DA" stroke-width="2.3"/>
<line x1="908" y1="933" x2="1021" y2="933" stroke="#DE80DA" stroke-width="2.3"/>
<line x1="908" y1="936" x2="916" y2="936" stroke="#DE80DA" stroke-width="2.3"/>
<line x1="908" y1="940" x2="1004" y2="940" stroke="#DE80DA" stroke-width="2.3"/>
<line x1="908" y1="747" x2="1047" y2="747" stroke="#DE80DA" stroke-width="2.3"/>
<line x1="908" y1="748" x2="1094" y2="748" stroke="#DE80DA" stroke-width="2.3"/>
<line x1="908" y1="758" x2="1099" y2="758" stroke="#DE80DA" stroke-width="2.3"/>
<line x1="908" y1="769" x2="1020" y2="769" stroke="#DE80DA" stroke-width="2.3"/>
<line x1="908" y1="821" x2="1015" y2="821" stroke="#DE80DA" stroke-width="2.3"/>
<line x1="908" y1="826" x2="997" y2="826" stroke="#DE80DA" stroke-width="2.3"/>
<line x1="908" y1="827" x2="1018" y2="827" stroke="#DE80DA" stroke-width="2.3"/>
<line x1="908" y1="836" x2="1016" y2="836" stroke="#DE80DA" stroke-width="2.3"/>
<line x1="908" y1="840" x2="1004" y2="840" stroke="#DE80DA" stroke-width="2.3"/>
<line x1="908" y1="848" x2="1013" y2="848" stroke="#DE80DA" stroke-width="2.3"/>
<line x1="908" y1="853" x2="1016" y2="853" stroke="#DE80DA" stroke-width="2.3"/>
<line x1="908" y1="858" x2="1060" y2="858" stroke="#DE80DA" stroke-width="2.3"/>
<line x1="908" y1="760" x2="949" y2="760" stroke="#DE80DA" stroke-width="2.3"/>
<line x1="908" y1="764" x2="951" y2="764" stroke="#DE80DA" stroke-width="2.3"/>
<line x1="908" y1="762" x2="943" y2="762" stroke="#DE80DA" stroke-width="2.3"/>
<line x1="908" y1="782" x2="918" y2="782" stroke="#DE80DA" stroke-width="2.3"/>
<line x1="908" y1="766" x2="1042" y2="766" stroke="#DE80DA" stroke-width="2.3"/>
<line x1="908" y1="796" x2="986" y2="796" stroke="#DE80DA" stroke-width="2.3"/>
<line x1="908" y1="797" x2="998" y2="797" stroke="#DE80DA" stroke-width="2.3"/>
<line x1="908" y1="927" x2="975" y2="927" stroke="#DE80DA" stroke-width="2.3"/>
<line x1="908" y1="775" x2="914" y2="775" stroke="#DE80DA" stroke-width="2.3"/>
<line x1="908" y1="896" x2="948" y2="896" stroke="#DE80DA" stroke-width="2.3"/>
<line x1="908" y1="888" x2="920" y2="888" stroke="#DE80DA" stroke-width="2.3"/>
<line x1="908" y1="930" x2="965" y2="930" stroke="#DE80DA" stroke-width="2.3"/>
<line x1="908" y1="936" x2="964" y2="936" stroke="#DE80DA" stroke-width="2.3"/>
<line x1="908" y1="863" x2="1010" y2="863" stroke="#DE80DA" stroke-width="2.3"/>
<line x1="908" y1="917" x2="943" y2="917" stroke="#DE80DA" stroke-width="2.3"/>
<line x1="900" y1="975" x2="954" y2="975" stroke="#A3168A" stroke-width="2.3"/>
<line x1="784" y1="1011" x2="938" y2="1011" stroke="#A3168A" stroke-width="2.3"/>
<line x1="829" y1="1050" x2="970" y2="1050" stroke="#A3168A" stroke-width="2.3"/>
<line x1="829" y1="1051" x2="838" y2="1051" stroke="#A3168A" stroke-width="2.3"/>
<line x1="805" y1="1003" x2="827" y2="1003" stroke="#A3168A" stroke-width="2.3"/>
<line x1="805" y1="1002" x2="842" y2="1002" stroke="#A3168A" stroke-width="2.3"/>
<line x1="784" y1="1010" x2="842" y2="1010" stroke="#A3168A" stroke-width="2.3"/>
<line x1="784" y1="1017" x2="788" y2="1017" stroke="#A3168A" stroke-width="2.3"/>
<line x1="900" y1="946" x2="914" y2="946" stroke="#A3168A" stroke-width="2.3"/>
<line x1="900" y1="949" x2="927" y2="949" stroke="#A3168A" stroke-width="2.3"/>
<line x1="900" y1="960" x2="965" y2="960" stroke="#A3168A" stroke-width="2.3"/>
<line x1="900" y1="957" x2="1017" y2="957" stroke="#A3168A" stroke-width="2.3"/>
<line x1="900" y1="964" x2="1015" y2="964" stroke="#A3168A" stroke-width="2.3"/>
<line x1="900" y1="962" x2="1037" y2="962" stroke="#A3168A" stroke-width="2.3"/>
<line x1="900" y1="959" x2="1042" y2="959" stroke="#A3168A" stroke-width="2.3"/>
<line x1="900" y1="976" x2="914" y2="976" stroke="#A3168A" stroke-width="2.3"/>
<line x1="900" y1="988" x2="930" y2="988" stroke="#A3168A" stroke-width="2.3"/>
<line x1="900" y1="990" x2="965" y2="990" stroke="#A3168A" stroke-width="2.3"/>
<line x1="784" y1="1012" x2="911" y2="1012" stroke="#A3168A" stroke-width="2.3"/>
<line x1="900" y1="1021" x2="908" y2="1021" stroke="#A3168A" stroke-width="2.3"/>
<line x1="900" y1="1024" x2="913" y2="1024" stroke="#A3168A" stroke-width="2.3"/>
<line x1="900" y1="1020" x2="954" y2="1020" stroke="#A3168A" stroke-width="2.3"/>
<line x1="900" y1="1028" x2="948" y2="1028" stroke="#A3168A" stroke-width="2.3"/>
<line x1="900" y1="1032" x2="927" y2="1032" stroke="#A3168A" stroke-width="2.3"/>
<line x1="900" y1="1030" x2="1053" y2="1030" stroke="#A3168A" stroke-width="2.3"/>
<line x1="900" y1="1043" x2="934" y2="1043" stroke="#A3168A" stroke-width="2.3"/>
<line x1="900" y1="1046" x2="984" y2="1046" stroke="#A3168A" stroke-width="2.3"/>
<line x1="829" y1="1048" x2="985" y2="1048" stroke="#A3168A" stroke-width="2.3"/>
<line x1="900" y1="1045" x2="1007" y2="1045" stroke="#A3168A" stroke-width="2.3"/>
<line x1="829" y1="1053" x2="879" y2="1053" stroke="#A3168A" stroke-width="2.3"/>
<line x1="900" y1="1055" x2="1103" y2="1055" stroke="#A3168A" stroke-width="2.3"/>
<line x1="900" y1="1064" x2="1039" y2="1064" stroke="#A3168A" stroke-width="2.3"/>
<line x1="900" y1="1066" x2="1042" y2="1066" stroke="#A3168A" stroke-width="2.3"/>
<line x1="900" y1="1062" x2="1066" y2="1062" stroke="#A3168A" stroke-width="2.3"/>
<line x1="900" y1="1063" x2="1070" y2="1063" stroke="#A3168A" stroke-width="2.3"/>
<line x1="900" y1="1069" x2="980" y2="1069" stroke="#A3168A" stroke-width="2.3"/>
<line x1="900" y1="1072" x2="1026" y2="1072" stroke="#A3168A" stroke-width="2.3"/>
<line x1="784" y1="1008" x2="814" y2="1008" stroke="#A3168A" stroke-width="2.3"/>
<line x1="900" y1="956" x2="911" y2="956" stroke="#A3168A" stroke-width="2.3"/>
<line x1="900" y1="980" x2="911" y2="980" stroke="#A3168A" stroke-width="2.3"/>
<line x1="784" y1="1017" x2="911" y2="1017" stroke="#A3168A" stroke-width="2.3"/>
<line x1="900" y1="1029" x2="911" y2="1029" stroke="#A3168A" stroke-width="2.3"/>
<line x1="900" y1="1038" x2="993" y2="1038" stroke="#A3168A" stroke-width="2.3"/>
<line x1="922" y1="1075" x2="926" y2="1075" stroke="#66DB70" stroke-width="2.3"/>
<line x1="922" y1="1082" x2="967" y2="1082" stroke="#66DB70" stroke-width="2.3"/>
<line x1="925" y1="1122" x2="1015" y2="1122" stroke="#66DB70" stroke-width="2.3"/>
<line x1="879" y1="1154" x2="893" y2="1154" stroke="#66DB70" stroke-width="2.3"/>
<line x1="879" y1="1151" x2="1018" y2="1151" stroke="#66DB70" stroke-width="2.3"/>
<line x1="925" y1="1091" x2="941" y2="1091" stroke="#66DB70" stroke-width="2.3"/>
<line x1="925" y1="1096" x2="941" y2="1096" stroke="#66DB70" stroke-width="2.3"/>
<line x1="925" y1="1093" x2="976" y2="1093" stroke="#66DB70" stroke-width="2.3"/>
<line x1="925" y1="1098" x2="978" y2="1098" stroke="#66DB70" stroke-width="2.3"/>
<line x1="925" y1="1110" x2="943" y2="1110" stroke="#66DB70" stroke-width="2.3"/>
<line x1="925" y1="1112" x2="988" y2="1112" stroke="#66DB70" stroke-width="2.3"/>
<line x1="925" y1="1120" x2="943" y2="1120" stroke="#66DB70" stroke-width="2.3"/>
<line x1="925" y1="1124" x2="931" y2="1124" stroke="#66DB70" stroke-width="2.3"/>
<line x1="879" y1="1148" x2="965" y2="1148" stroke="#66DB70" stroke-width="2.3"/>
<line x1="879" y1="1155" x2="936" y2="1155" stroke="#66DB70" stroke-width="2.3"/>
<line x1="780" y1="1158" x2="834" y2="1158" stroke="#5AA6D0" stroke-width="2.3"/>
<line x1="780" y1="1165" x2="876" y2="1165" stroke="#5AA6D0" stroke-width="2.3"/>
<line x1="780" y1="1160" x2="930" y2="1160" stroke="#5AA6D0" stroke-width="2.3"/>
<line x1="779" y1="1189" x2="965" y2="1189" stroke="#5AA6D0" stroke-width="2.3"/>
<line x1="779" y1="1202" x2="841" y2="1202" stroke="#5AA6D0" stroke-width="2.3"/>
<line x1="780" y1="1168" x2="839" y2="1168" stroke="#5AA6D0" stroke-width="2.3"/>
<line x1="780" y1="1166" x2="897" y2="1166" stroke="#5AA6D0" stroke-width="2.3"/>
<line x1="780" y1="1172" x2="942" y2="1172" stroke="#5AA6D0" stroke-width="2.3"/>
<line x1="780" y1="1176" x2="808" y2="1176" stroke="#5AA6D0" stroke-width="2.3"/>
<line x1="780" y1="1163" x2="911" y2="1163" stroke="#5AA6D0" stroke-width="2.3"/>
<line x1="780" y1="1179" x2="803" y2="1179" stroke="#5AA6D0" stroke-width="2.3"/>
<line x1="780" y1="1185" x2="820" y2="1185" stroke="#5AA6D0" stroke-width="2.3"/>
<line x1="780" y1="1178" x2="876" y2="1178" stroke="#5AA6D0" stroke-width="2.3"/>
<line x1="780" y1="1187" x2="916" y2="1187" stroke="#5AA6D0" stroke-width="2.3"/>
<line x1="779" y1="1209" x2="908" y2="1209" stroke="#5AA6D0" stroke-width="2.3"/>
<line x1="1000" y1="1232" x2="1018" y2="1232" stroke="#CDBD3A" stroke-width="2.3"/>
<line x1="1000" y1="1237" x2="1014" y2="1237" stroke="#CDBD3A" stroke-width="2.3"/>
<line x1="1000" y1="1243" x2="1007" y2="1243" stroke="#CDBD3A" stroke-width="2.3"/>
<line x1="1000" y1="1248" x2="1007" y2="1248" stroke="#CDBD3A" stroke-width="2.3"/>
<line x1="1000" y1="1238" x2="1101" y2="1238" stroke="#CDBD3A" stroke-width="2.3"/>
<line x1="1000" y1="1240" x2="1120" y2="1240" stroke="#CDBD3A" stroke-width="2.3"/>
<line x1="1000" y1="1246" x2="1105" y2="1246" stroke="#CDBD3A" stroke-width="2.3"/>
<line x1="1000" y1="1249" x2="1103" y2="1249" stroke="#CDBD3A" stroke-width="2.3"/>
<line x1="916" y1="1226" x2="1029" y2="1226" stroke="#CDBD3A" stroke-width="2.3"/>
<line x1="1000" y1="1234" x2="1044" y2="1234" stroke="#CDBD3A" stroke-width="2.3"/>
<line x1="1000" y1="1227" x2="1071" y2="1227" stroke="#CDBD3A" stroke-width="2.3"/>
<line x1="1000" y1="1230" x2="1078" y2="1230" stroke="#CDBD3A" stroke-width="2.3"/>
<line x1="1000" y1="1228" x2="1082" y2="1228" stroke="#CDBD3A" stroke-width="2.3"/>
</g>
<g id="dots">
<circle cx="1072" cy="3" r="3.6" fill="#3CC489" stroke="#1f7a52" stroke-width="0.9"/>
<circle cx="1072" cy="8" r="3.6" fill="#3CC489" stroke="#1f7a52" stroke-width="0.9"/>
<circle cx="1080" cy="7" r="3.6" fill="#3CC489" stroke="#1f7a52" stroke-width="0.9"/>
<circle cx="1072" cy="13" r="3.6" fill="#3CC489" stroke="#1f7a52" stroke-width="0.9"/>
<circle cx="1059" cy="13" r="3.6" fill="#3CC489" stroke="#1f7a52" stroke-width="0.9"/>
<circle cx="1072" cy="17" r="3.6" fill="#3CC489" stroke="#1f7a52" stroke-width="0.9"/>
<circle cx="1152" cy="11" r="3.6" fill="#3CC489" stroke="#1f7a52" stroke-width="0.9"/>
<circle cx="1127" cy="17" r="3.6" fill="#3CC489" stroke="#1f7a52" stroke-width="0.9"/>
<circle cx="1093" cy="19" r="3.6" fill="#3CC489" stroke="#1f7a52" stroke-width="0.9"/>
<circle cx="1152" cy="21" r="3.6" fill="#3CC489" stroke="#1f7a52" stroke-width="0.9"/>
<circle cx="1061" cy="27" r="3.6" fill="#3CC489" stroke="#1f7a52" stroke-width="0.9"/>
<circle cx="1059" cy="33" r="3.6" fill="#3CC489" stroke="#1f7a52" stroke-width="0.9"/>
<circle cx="1010" cy="32" r="3.6" fill="#3CC489" stroke="#1f7a52" stroke-width="0.9"/>
<circle cx="1074" cy="35" r="3.6" fill="#3CC489" stroke="#1f7a52" stroke-width="0.9"/>
<circle cx="1077" cy="31" r="3.6" fill="#3CC489" stroke="#1f7a52" stroke-width="0.9"/>
<circle cx="1104" cy="37" r="3.6" fill="#3CC489" stroke="#1f7a52" stroke-width="0.9"/>
<circle cx="1127" cy="38" r="3.6" fill="#3CC489" stroke="#1f7a52" stroke-width="0.9"/>
<circle cx="997" cy="41" r="3.6" fill="#3CC489" stroke="#1f7a52" stroke-width="0.9"/>
<circle cx="1160" cy="44" r="3.6" fill="#3CC489" stroke="#1f7a52" stroke-width="0.9"/>
<circle cx="1071" cy="43" r="3.6" fill="#3CC489" stroke="#1f7a52" stroke-width="0.9"/>
<circle cx="1059" cy="46" r="3.6" fill="#3CC489" stroke="#1f7a52" stroke-width="0.9"/>
<circle cx="1071" cy="49" r="3.6" fill="#3CC489" stroke="#1f7a52" stroke-width="0.9"/>
<circle cx="1107" cy="48" r="3.6" fill="#3CC489" stroke="#1f7a52" stroke-width="0.9"/>
<circle cx="1127" cy="51" r="3.6" fill="#3CC489" stroke="#1f7a52" stroke-width="0.9"/>
<circle cx="1072" cy="59" r="3.6" fill="#3CC489" stroke="#1f7a52" stroke-width="0.9"/>
<circle cx="1082" cy="57" r="3.6" fill="#3CC489" stroke="#1f7a52" stroke-width="0.9"/>
<circle cx="1087" cy="65" r="3.6" fill="#3CC489" stroke="#1f7a52" stroke-width="0.9"/>
<circle cx="1080" cy="69" r="3.6" fill="#3CC489" stroke="#1f7a52" stroke-width="0.9"/>
<circle cx="1073" cy="72" r="3.6" fill="#3CC489" stroke="#1f7a52" stroke-width="0.9"/>
<circle cx="1160" cy="63" r="3.6" fill="#3CC489" stroke="#1f7a52" stroke-width="0.9"/>
<circle cx="1173" cy="64" r="3.6" fill="#3CC489" stroke="#1f7a52" stroke-width="0.9"/>
<circle cx="1160" cy="77" r="3.6" fill="#3CC489" stroke="#1f7a52" stroke-width="0.9"/>
<circle cx="1074" cy="80" r="3.6" fill="#3CC489" stroke="#1f7a52" stroke-width="0.9"/>
<circle cx="1044" cy="89" r="3.6" fill="#3CC489" stroke="#1f7a52" stroke-width="0.9"/>
<circle cx="954" cy="88" r="3.6" fill="#3CC489" stroke="#1f7a52" stroke-width="0.9"/>
<circle cx="1072" cy="92" r="3.6" fill="#3CC489" stroke="#1f7a52" stroke-width="0.9"/>
<circle cx="1072" cy="97" r="3.6" fill="#3CC489" stroke="#1f7a52" stroke-width="0.9"/>
<circle cx="1072" cy="102" r="3.6" fill="#3CC489" stroke="#1f7a52" stroke-width="0.9"/>
<circle cx="1072" cy="107" r="3.6" fill="#3CC489" stroke="#1f7a52" stroke-width="0.9"/>
<circle cx="1072" cy="112" r="3.6" fill="#3CC489" stroke="#1f7a52" stroke-width="0.9"/>
<circle cx="1072" cy="117" r="3.6" fill="#3CC489" stroke="#1f7a52" stroke-width="0.9"/>
<circle cx="1081" cy="119" r="3.6" fill="#3CC489" stroke="#1f7a52" stroke-width="0.9"/>
<circle cx="1072" cy="122" r="3.6" fill="#3CC489" stroke="#1f7a52" stroke-width="0.9"/>
<circle cx="1173" cy="125" r="3.6" fill="#3CC489" stroke="#1f7a52" stroke-width="0.9"/>
<circle cx="1059" cy="128" r="3.6" fill="#3CC489" stroke="#1f7a52" stroke-width="0.9"/>
<circle cx="1020" cy="129" r="3.6" fill="#3CC489" stroke="#1f7a52" stroke-width="0.9"/>
<circle cx="1020" cy="134" r="3.6" fill="#3CC489" stroke="#1f7a52" stroke-width="0.9"/>
<circle cx="1072" cy="128" r="3.6" fill="#3CC489" stroke="#1f7a52" stroke-width="0.9"/>
<circle cx="1072" cy="133" r="3.6" fill="#3CC489" stroke="#1f7a52" stroke-width="0.9"/>
<circle cx="1127" cy="143" r="3.6" fill="#3CC489" stroke="#1f7a52" stroke-width="0.9"/>
<circle cx="1149" cy="137" r="3.6" fill="#3CC489" stroke="#1f7a52" stroke-width="0.9"/>
<circle cx="1153" cy="139" r="3.6" fill="#3CC489" stroke="#1f7a52" stroke-width="0.9"/>
<circle cx="1160" cy="140" r="3.6" fill="#3CC489" stroke="#1f7a52" stroke-width="0.9"/>
<circle cx="1150" cy="146" r="3.6" fill="#3CC489" stroke="#1f7a52" stroke-width="0.9"/>
<circle cx="1060" cy="147" r="3.6" fill="#3CC489" stroke="#1f7a52" stroke-width="0.9"/>
<circle cx="1072" cy="148" r="3.6" fill="#3CC489" stroke="#1f7a52" stroke-width="0.9"/>
<circle cx="1060" cy="158" r="3.6" fill="#3CC489" stroke="#1f7a52" stroke-width="0.9"/>
<circle cx="1072" cy="154" r="3.6" fill="#3CC489" stroke="#1f7a52" stroke-width="0.9"/>
<circle cx="1072" cy="160" r="3.6" fill="#3CC489" stroke="#1f7a52" stroke-width="0.9"/>
<circle cx="1093" cy="160" r="3.6" fill="#3CC489" stroke="#1f7a52" stroke-width="0.9"/>
<circle cx="1160" cy="166" r="3.6" fill="#3CC489" stroke="#1f7a52" stroke-width="0.9"/>
<circle cx="978" cy="175" r="3.6" fill="#3CC489" stroke="#1f7a52" stroke-width="0.9"/>
<circle cx="1060" cy="170" r="3.6" fill="#3CC489" stroke="#1f7a52" stroke-width="0.9"/>
<circle cx="1072" cy="172" r="3.6" fill="#3CC489" stroke="#1f7a52" stroke-width="0.9"/>
<circle cx="1082" cy="172" r="3.6" fill="#3CC489" stroke="#1f7a52" stroke-width="0.9"/>
<circle cx="1080" cy="176" r="3.6" fill="#3CC489" stroke="#1f7a52" stroke-width="0.9"/>
<circle cx="1072" cy="177" r="3.6" fill="#3CC489" stroke="#1f7a52" stroke-width="0.9"/>
<circle cx="1073" cy="25" r="3.6" fill="#5E3CC4" stroke="#33207a" stroke-width="0.9"/>
<circle cx="1044" cy="40" r="3.6" fill="#5E3CC4" stroke="#33207a" stroke-width="0.9"/>
<circle cx="1017" cy="53" r="3.6" fill="#5E3CC4" stroke="#33207a" stroke-width="0.9"/>
<circle cx="1060" cy="67" r="3.6" fill="#5E3CC4" stroke="#33207a" stroke-width="0.9"/>
<circle cx="1017" cy="70" r="3.6" fill="#5E3CC4" stroke="#33207a" stroke-width="0.9"/>
<circle cx="1017" cy="74" r="3.6" fill="#5E3CC4" stroke="#33207a" stroke-width="0.9"/>
<circle cx="1017" cy="77" r="3.6" fill="#5E3CC4" stroke="#33207a" stroke-width="0.9"/>
<circle cx="1017" cy="81" r="3.6" fill="#5E3CC4" stroke="#33207a" stroke-width="0.9"/>
<circle cx="1017" cy="84" r="3.6" fill="#5E3CC4" stroke="#33207a" stroke-width="0.9"/>
<circle cx="1017" cy="88" r="3.6" fill="#5E3CC4" stroke="#33207a" stroke-width="0.9"/>
<circle cx="1017" cy="91" r="3.6" fill="#5E3CC4" stroke="#33207a" stroke-width="0.9"/>
<circle cx="1072" cy="128" r="3.6" fill="#5E3CC4" stroke="#33207a" stroke-width="0.9"/>
<circle cx="1018" cy="158" r="3.6" fill="#5E3CC4" stroke="#33207a" stroke-width="0.9"/>
<circle cx="1018" cy="164" r="3.6" fill="#5E3CC4" stroke="#33207a" stroke-width="0.9"/>
<circle cx="1050" cy="179" r="3.6" fill="#5E3CC4" stroke="#33207a" stroke-width="0.9"/>
<circle cx="1014" cy="193" r="3.6" fill="#5E3CC4" stroke="#33207a" stroke-width="0.9"/>
<circle cx="1018" cy="200" r="3.6" fill="#5E3CC4" stroke="#33207a" stroke-width="0.9"/>
<circle cx="1026" cy="209" r="3.6" fill="#5E3CC4" stroke="#33207a" stroke-width="0.9"/>
<circle cx="997" cy="215" r="3.6" fill="#5E3CC4" stroke="#33207a" stroke-width="0.9"/>
<circle cx="1014" cy="220" r="3.6" fill="#5E3CC4" stroke="#33207a" stroke-width="0.9"/>
<circle cx="1082" cy="217" r="3.6" fill="#5E3CC4" stroke="#33207a" stroke-width="0.9"/>
<circle cx="1017" cy="232" r="3.6" fill="#5E3CC4" stroke="#33207a" stroke-width="0.9"/>
<circle cx="1041" cy="245" r="3.6" fill="#5E3CC4" stroke="#33207a" stroke-width="0.9"/>
<circle cx="1048" cy="252" r="3.6" fill="#5E3CC4" stroke="#33207a" stroke-width="0.9"/>
<circle cx="1053" cy="254" r="3.6" fill="#5E3CC4" stroke="#33207a" stroke-width="0.9"/>
<circle cx="1037" cy="256" r="3.6" fill="#5E3CC4" stroke="#33207a" stroke-width="0.9"/>
<circle cx="1028" cy="260" r="3.6" fill="#5E3CC4" stroke="#33207a" stroke-width="0.9"/>
<circle cx="1082" cy="259" r="3.6" fill="#5E3CC4" stroke="#33207a" stroke-width="0.9"/>
<circle cx="1106" cy="249" r="3.6" fill="#5E3CC4" stroke="#33207a" stroke-width="0.9"/>
<circle cx="1106" cy="261" r="3.6" fill="#5E3CC4" stroke="#33207a" stroke-width="0.9"/>
<circle cx="1120" cy="257" r="3.6" fill="#5E3CC4" stroke="#33207a" stroke-width="0.9"/>
<circle cx="1017" cy="270" r="3.6" fill="#5E3CC4" stroke="#33207a" stroke-width="0.9"/>
<circle cx="1017" cy="280" r="3.6" fill="#5E3CC4" stroke="#33207a" stroke-width="0.9"/>
<circle cx="1015" cy="284" r="3.6" fill="#5E3CC4" stroke="#33207a" stroke-width="0.9"/>
<circle cx="1017" cy="288" r="3.6" fill="#5E3CC4" stroke="#33207a" stroke-width="0.9"/>
<circle cx="999" cy="311" r="3.6" fill="#5E3CC4" stroke="#33207a" stroke-width="0.9"/>
<circle cx="1068" cy="305" r="3.6" fill="#5E3CC4" stroke="#33207a" stroke-width="0.9"/>
<circle cx="1076" cy="308" r="3.6" fill="#5E3CC4" stroke="#33207a" stroke-width="0.9"/>
<circle cx="1130" cy="313" r="3.6" fill="#5E3CC4" stroke="#33207a" stroke-width="0.9"/>
<circle cx="1114" cy="327" r="3.6" fill="#5E3CC4" stroke="#33207a" stroke-width="0.9"/>
<circle cx="1101" cy="333" r="3.6" fill="#5E3CC4" stroke="#33207a" stroke-width="0.9"/>
<circle cx="1105" cy="338" r="3.6" fill="#5E3CC4" stroke="#33207a" stroke-width="0.9"/>
<circle cx="1105" cy="343" r="3.6" fill="#5E3CC4" stroke="#33207a" stroke-width="0.9"/>
<circle cx="1141" cy="343" r="3.6" fill="#5E3CC4" stroke="#33207a" stroke-width="0.9"/>
<circle cx="1069" cy="342" r="3.6" fill="#5E3CC4" stroke="#33207a" stroke-width="0.9"/>
<circle cx="1013" cy="355" r="3.6" fill="#5E3CC4" stroke="#33207a" stroke-width="0.9"/>
<circle cx="1070" cy="358" r="3.6" fill="#5E3CC4" stroke="#33207a" stroke-width="0.9"/>
<circle cx="1106" cy="356" r="3.6" fill="#5E3CC4" stroke="#33207a" stroke-width="0.9"/>
<circle cx="935" cy="214" r="3.6" fill="#5CC43C" stroke="#357a1e" stroke-width="0.9"/>
<circle cx="1022" cy="221" r="3.6" fill="#5CC43C" stroke="#357a1e" stroke-width="0.9"/>
<circle cx="1019" cy="219" r="3.6" fill="#5CC43C" stroke="#357a1e" stroke-width="0.9"/>
<circle cx="977" cy="243" r="3.6" fill="#5CC43C" stroke="#357a1e" stroke-width="0.9"/>
<circle cx="1062" cy="362" r="3.6" fill="#5CC43C" stroke="#357a1e" stroke-width="0.9"/>
<circle cx="1082" cy="359" r="3.6" fill="#5CC43C" stroke="#357a1e" stroke-width="0.9"/>
<circle cx="1053" cy="188" r="3.6" fill="#3CC489" stroke="#1f7a52" stroke-width="0.9"/>
<circle cx="1060" cy="200" r="3.6" fill="#3CC489" stroke="#1f7a52" stroke-width="0.9"/>
<circle cx="1060" cy="204" r="3.6" fill="#3CC489" stroke="#1f7a52" stroke-width="0.9"/>
<circle cx="1060" cy="208" r="3.6" fill="#3CC489" stroke="#1f7a52" stroke-width="0.9"/>
<circle cx="1152" cy="190" r="3.6" fill="#3CC489" stroke="#1f7a52" stroke-width="0.9"/>
<circle cx="1160" cy="192" r="3.6" fill="#3CC489" stroke="#1f7a52" stroke-width="0.9"/>
<circle cx="1116" cy="204" r="3.6" fill="#3CC489" stroke="#1f7a52" stroke-width="0.9"/>
<circle cx="1150" cy="206" r="3.6" fill="#3CC489" stroke="#1f7a52" stroke-width="0.9"/>
<circle cx="1173" cy="212" r="3.6" fill="#3CC489" stroke="#1f7a52" stroke-width="0.9"/>
<circle cx="1141" cy="211" r="3.6" fill="#3CC489" stroke="#1f7a52" stroke-width="0.9"/>
<circle cx="1160" cy="225" r="3.6" fill="#3CC489" stroke="#1f7a52" stroke-width="0.9"/>
<circle cx="1018" cy="240" r="3.6" fill="#3CC489" stroke="#1f7a52" stroke-width="0.9"/>
<circle cx="1060" cy="235" r="3.6" fill="#3CC489" stroke="#1f7a52" stroke-width="0.9"/>
<circle cx="1104" cy="247" r="3.6" fill="#3CC489" stroke="#1f7a52" stroke-width="0.9"/>
<circle cx="1106" cy="267" r="3.6" fill="#3CC489" stroke="#1f7a52" stroke-width="0.9"/>
<circle cx="1127" cy="268" r="3.6" fill="#3CC489" stroke="#1f7a52" stroke-width="0.9"/>
<circle cx="1117" cy="273" r="3.6" fill="#3CC489" stroke="#1f7a52" stroke-width="0.9"/>
<circle cx="1173" cy="271" r="3.6" fill="#3CC489" stroke="#1f7a52" stroke-width="0.9"/>
<circle cx="1173" cy="276" r="3.6" fill="#3CC489" stroke="#1f7a52" stroke-width="0.9"/>
<circle cx="1152" cy="237" r="3.6" fill="#3CC489" stroke="#1f7a52" stroke-width="0.9"/>
<circle cx="1154" cy="244" r="3.6" fill="#3CC489" stroke="#1f7a52" stroke-width="0.9"/>
<circle cx="997" cy="281" r="3.6" fill="#3CC489" stroke="#1f7a52" stroke-width="0.9"/>
<circle cx="1044" cy="286" r="3.6" fill="#3CC489" stroke="#1f7a52" stroke-width="0.9"/>
<circle cx="1060" cy="265" r="3.6" fill="#3CC489" stroke="#1f7a52" stroke-width="0.9"/>
<circle cx="1060" cy="270" r="3.6" fill="#3CC489" stroke="#1f7a52" stroke-width="0.9"/>
<circle cx="1060" cy="277" r="3.6" fill="#3CC489" stroke="#1f7a52" stroke-width="0.9"/>
<circle cx="1109" cy="297" r="3.6" fill="#3CC489" stroke="#1f7a52" stroke-width="0.9"/>
<circle cx="1072" cy="295" r="3.6" fill="#3CC489" stroke="#1f7a52" stroke-width="0.9"/>
<circle cx="1076" cy="300" r="3.6" fill="#3CC489" stroke="#1f7a52" stroke-width="0.9"/>
<circle cx="1072" cy="306" r="3.6" fill="#3CC489" stroke="#1f7a52" stroke-width="0.9"/>
<circle cx="1078" cy="312" r="3.6" fill="#3CC489" stroke="#1f7a52" stroke-width="0.9"/>
<circle cx="1076" cy="318" r="3.6" fill="#3CC489" stroke="#1f7a52" stroke-width="0.9"/>
<circle cx="1078" cy="322" r="3.6" fill="#3CC489" stroke="#1f7a52" stroke-width="0.9"/>
<circle cx="1126" cy="353" r="3.6" fill="#3CC489" stroke="#1f7a52" stroke-width="0.9"/>
<circle cx="1060" cy="349" r="3.6" fill="#3CC489" stroke="#1f7a52" stroke-width="0.9"/>
<circle cx="1072" cy="352" r="3.6" fill="#3CC489" stroke="#1f7a52" stroke-width="0.9"/>
<circle cx="1060" cy="363" r="3.6" fill="#3CC489" stroke="#1f7a52" stroke-width="0.9"/>
<circle cx="1072" cy="366" r="3.6" fill="#3CC489" stroke="#1f7a52" stroke-width="0.9"/>
<circle cx="1060" cy="373" r="3.6" fill="#3CC489" stroke="#1f7a52" stroke-width="0.9"/>
<circle cx="1078" cy="375" r="3.6" fill="#3CC489" stroke="#1f7a52" stroke-width="0.9"/>
<circle cx="1072" cy="183" r="3.6" fill="#3CC489" stroke="#1f7a52" stroke-width="0.9"/>
<circle cx="1078" cy="186" r="3.6" fill="#3CC489" stroke="#1f7a52" stroke-width="0.9"/>
<circle cx="1081" cy="182" r="3.6" fill="#3CC489" stroke="#1f7a52" stroke-width="0.9"/>
<circle cx="1015" cy="302" r="3.6" fill="#C4A93A" stroke="#7d6a1c" stroke-width="0.9"/>
<circle cx="1061" cy="303" r="3.6" fill="#C4A93A" stroke="#7d6a1c" stroke-width="0.9"/>
<circle cx="965" cy="326" r="3.6" fill="#C4393A" stroke="#7a1e1e" stroke-width="0.9"/>
<circle cx="1060" cy="331" r="3.6" fill="#3C88C4" stroke="#1f4f7a" stroke-width="0.9"/>
<circle cx="1072" cy="332" r="3.6" fill="#3C88C4" stroke="#1f4f7a" stroke-width="0.9"/>
<circle cx="1042" cy="337" r="3.6" fill="#3C88C4" stroke="#1f4f7a" stroke-width="0.9"/>
<circle cx="1100" cy="375" r="3.6" fill="#3C88C4" stroke="#1f4f7a" stroke-width="0.9"/>
<circle cx="907" cy="380" r="3.6" fill="#C4A93A" stroke="#7d6a1c" stroke-width="0.9"/>
<circle cx="914" cy="378" r="3.6" fill="#C4A93A" stroke="#7d6a1c" stroke-width="0.9"/>
<circle cx="974" cy="383" r="3.6" fill="#C4A93A" stroke="#7d6a1c" stroke-width="0.9"/>
<circle cx="970" cy="388" r="3.6" fill="#C4A93A" stroke="#7d6a1c" stroke-width="0.9"/>
<circle cx="910" cy="497" r="3.6" fill="#C4A93A" stroke="#7d6a1c" stroke-width="0.9"/>
<circle cx="1018" cy="503" r="3.6" fill="#C4A93A" stroke="#7d6a1c" stroke-width="0.9"/>
<circle cx="972" cy="507" r="3.6" fill="#C4A93A" stroke="#7d6a1c" stroke-width="0.9"/>
<circle cx="863" cy="548" r="3.6" fill="#C4A93A" stroke="#7d6a1c" stroke-width="0.9"/>
<circle cx="882" cy="558" r="3.6" fill="#C4A93A" stroke="#7d6a1c" stroke-width="0.9"/>
<circle cx="1007" cy="554" r="3.6" fill="#C4A93A" stroke="#7d6a1c" stroke-width="0.9"/>
<circle cx="948" cy="377" r="3.6" fill="#5E3CC4" stroke="#33207a" stroke-width="0.9"/>
<circle cx="1018" cy="389" r="3.6" fill="#5E3CC4" stroke="#33207a" stroke-width="0.9"/>
<circle cx="1085" cy="398" r="3.6" fill="#5E3CC4" stroke="#33207a" stroke-width="0.9"/>
<circle cx="1014" cy="401" r="3.6" fill="#5E3CC4" stroke="#33207a" stroke-width="0.9"/>
<circle cx="1017" cy="405" r="3.6" fill="#5E3CC4" stroke="#33207a" stroke-width="0.9"/>
<circle cx="1103" cy="407" r="3.6" fill="#5E3CC4" stroke="#33207a" stroke-width="0.9"/>
<circle cx="1115" cy="409" r="3.6" fill="#5E3CC4" stroke="#33207a" stroke-width="0.9"/>
<circle cx="1018" cy="419" r="3.6" fill="#5E3CC4" stroke="#33207a" stroke-width="0.9"/>
<circle cx="1018" cy="423" r="3.6" fill="#5E3CC4" stroke="#33207a" stroke-width="0.9"/>
<circle cx="1018" cy="429" r="3.6" fill="#5E3CC4" stroke="#33207a" stroke-width="0.9"/>
<circle cx="1018" cy="433" r="3.6" fill="#5E3CC4" stroke="#33207a" stroke-width="0.9"/>
<circle cx="1018" cy="439" r="3.6" fill="#5E3CC4" stroke="#33207a" stroke-width="0.9"/>
<circle cx="1016" cy="444" r="3.6" fill="#5E3CC4" stroke="#33207a" stroke-width="0.9"/>
<circle cx="1060" cy="427" r="3.6" fill="#5E3CC4" stroke="#33207a" stroke-width="0.9"/>
<circle cx="1060" cy="431" r="3.6" fill="#5E3CC4" stroke="#33207a" stroke-width="0.9"/>
<circle cx="1060" cy="438" r="3.6" fill="#5E3CC4" stroke="#33207a" stroke-width="0.9"/>
<circle cx="961" cy="428" r="3.6" fill="#5E3CC4" stroke="#33207a" stroke-width="0.9"/>
<circle cx="951" cy="436" r="3.6" fill="#5E3CC4" stroke="#33207a" stroke-width="0.9"/>
<circle cx="1018" cy="465" r="3.6" fill="#5E3CC4" stroke="#33207a" stroke-width="0.9"/>
<circle cx="1105" cy="485" r="3.6" fill="#5E3CC4" stroke="#33207a" stroke-width="0.9"/>
<circle cx="1110" cy="487" r="3.6" fill="#5E3CC4" stroke="#33207a" stroke-width="0.9"/>
<circle cx="1140" cy="485" r="3.6" fill="#5E3CC4" stroke="#33207a" stroke-width="0.9"/>
<circle cx="1120" cy="500" r="3.6" fill="#5E3CC4" stroke="#33207a" stroke-width="0.9"/>
<circle cx="1115" cy="511" r="3.6" fill="#5E3CC4" stroke="#33207a" stroke-width="0.9"/>
<circle cx="1016" cy="524" r="3.6" fill="#5E3CC4" stroke="#33207a" stroke-width="0.9"/>
<circle cx="1044" cy="529" r="3.6" fill="#5E3CC4" stroke="#33207a" stroke-width="0.9"/>
<circle cx="1060" cy="537" r="3.6" fill="#5E3CC4" stroke="#33207a" stroke-width="0.9"/>
<circle cx="1074" cy="542" r="3.6" fill="#5E3CC4" stroke="#33207a" stroke-width="0.9"/>
<circle cx="1115" cy="521" r="3.6" fill="#5E3CC4" stroke="#33207a" stroke-width="0.9"/>
<circle cx="1018" cy="538" r="3.6" fill="#5E3CC4" stroke="#33207a" stroke-width="0.9"/>
<circle cx="1016" cy="546" r="3.6" fill="#5E3CC4" stroke="#33207a" stroke-width="0.9"/>
<circle cx="1048" cy="550" r="3.6" fill="#5E3CC4" stroke="#33207a" stroke-width="0.9"/>
<circle cx="1072" cy="553" r="3.6" fill="#5E3CC4" stroke="#33207a" stroke-width="0.9"/>
<circle cx="1109" cy="545" r="3.6" fill="#5E3CC4" stroke="#33207a" stroke-width="0.9"/>
<circle cx="1107" cy="556" r="3.6" fill="#5E3CC4" stroke="#33207a" stroke-width="0.9"/>
<circle cx="1008" cy="380" r="3.6" fill="#3C88C4" stroke="#1f4f7a" stroke-width="0.9"/>
<circle cx="1100" cy="375" r="3.6" fill="#3C88C4" stroke="#1f4f7a" stroke-width="0.9"/>
<circle cx="1072" cy="396" r="3.6" fill="#3C88C4" stroke="#1f4f7a" stroke-width="0.9"/>
<circle cx="1097" cy="399" r="3.6" fill="#3C88C4" stroke="#1f4f7a" stroke-width="0.9"/>
<circle cx="1084" cy="415" r="3.6" fill="#3C88C4" stroke="#1f4f7a" stroke-width="0.9"/>
<circle cx="1102" cy="468" r="3.6" fill="#3C88C4" stroke="#1f4f7a" stroke-width="0.9"/>
<circle cx="1065" cy="489" r="3.6" fill="#3C88C4" stroke="#1f4f7a" stroke-width="0.9"/>
<circle cx="1008" cy="498" r="3.6" fill="#3C88C4" stroke="#1f4f7a" stroke-width="0.9"/>
<circle cx="1024" cy="510" r="3.6" fill="#3C88C4" stroke="#1f4f7a" stroke-width="0.9"/>
<circle cx="1026" cy="515" r="3.6" fill="#3C88C4" stroke="#1f4f7a" stroke-width="0.9"/>
<circle cx="1066" cy="517" r="3.6" fill="#3C88C4" stroke="#1f4f7a" stroke-width="0.9"/>
<circle cx="1074" cy="515" r="3.6" fill="#3C88C4" stroke="#1f4f7a" stroke-width="0.9"/>
<circle cx="1037" cy="525" r="3.6" fill="#3C88C4" stroke="#1f4f7a" stroke-width="0.9"/>
<circle cx="1049" cy="531" r="3.6" fill="#3C88C4" stroke="#1f4f7a" stroke-width="0.9"/>
<circle cx="982" cy="567" r="3.6" fill="#3C88C4" stroke="#1f4f7a" stroke-width="0.9"/>
<circle cx="1104" cy="565" r="3.6" fill="#3C88C4" stroke="#1f4f7a" stroke-width="0.9"/>
<circle cx="1113" cy="414" r="3.6" fill="#C4393A" stroke="#7a1e1e" stroke-width="0.9"/>
<circle cx="1007" cy="473" r="3.6" fill="#C4393A" stroke="#7a1e1e" stroke-width="0.9"/>
<circle cx="1077" cy="475" r="3.6" fill="#C4393A" stroke="#7a1e1e" stroke-width="0.9"/>
<circle cx="1100" cy="476" r="3.6" fill="#C4393A" stroke="#7a1e1e" stroke-width="0.9"/>
<circle cx="1076" cy="493" r="3.6" fill="#C4393A" stroke="#7a1e1e" stroke-width="0.9"/>
<circle cx="1074" cy="418" r="3.6" fill="#5CC43C" stroke="#357a1e" stroke-width="0.9"/>
<circle cx="936" cy="454" r="3.6" fill="#5CC43C" stroke="#357a1e" stroke-width="0.9"/>
<circle cx="977" cy="457" r="3.6" fill="#5CC43C" stroke="#357a1e" stroke-width="0.9"/>
<circle cx="1105" cy="478" r="3.6" fill="#5CC43C" stroke="#357a1e" stroke-width="0.9"/>
<circle cx="1112" cy="481" r="3.6" fill="#5CC43C" stroke="#357a1e" stroke-width="0.9"/>
<circle cx="965" cy="508" r="3.6" fill="#5CC43C" stroke="#357a1e" stroke-width="0.9"/>
<circle cx="968" cy="532" r="3.6" fill="#5CC43C" stroke="#357a1e" stroke-width="0.9"/>
<circle cx="1026" cy="552" r="3.6" fill="#5CC43C" stroke="#357a1e" stroke-width="0.9"/>
<circle cx="966" cy="558" r="3.6" fill="#5CC43C" stroke="#357a1e" stroke-width="0.9"/>
<circle cx="970" cy="564" r="3.6" fill="#5CC43C" stroke="#357a1e" stroke-width="0.9"/>
<circle cx="1062" cy="560" r="3.6" fill="#5CC43C" stroke="#357a1e" stroke-width="0.9"/>
<circle cx="1086" cy="562" r="3.6" fill="#5CC43C" stroke="#357a1e" stroke-width="0.9"/>
<circle cx="1060" cy="394" r="3.6" fill="#3CC489" stroke="#1f7a52" stroke-width="0.9"/>
<circle cx="1084" cy="391" r="3.6" fill="#3CC489" stroke="#1f7a52" stroke-width="0.9"/>
<circle cx="1060" cy="411" r="3.6" fill="#3CC489" stroke="#1f7a52" stroke-width="0.9"/>
<circle cx="1072" cy="411" r="3.6" fill="#3CC489" stroke="#1f7a52" stroke-width="0.9"/>
<circle cx="1127" cy="385" r="3.6" fill="#3CC489" stroke="#1f7a52" stroke-width="0.9"/>
<circle cx="1150" cy="385" r="3.6" fill="#3CC489" stroke="#1f7a52" stroke-width="0.9"/>
<circle cx="1081" cy="449" r="3.6" fill="#3CC489" stroke="#1f7a52" stroke-width="0.9"/>
<circle cx="1093" cy="452" r="3.6" fill="#3CC489" stroke="#1f7a52" stroke-width="0.9"/>
<circle cx="1105" cy="447" r="3.6" fill="#3CC489" stroke="#1f7a52" stroke-width="0.9"/>
<circle cx="1173" cy="455" r="3.6" fill="#3CC489" stroke="#1f7a52" stroke-width="0.9"/>
<circle cx="1060" cy="458" r="3.6" fill="#3CC489" stroke="#1f7a52" stroke-width="0.9"/>
<circle cx="1073" cy="462" r="3.6" fill="#3CC489" stroke="#1f7a52" stroke-width="0.9"/>
<circle cx="1085" cy="462" r="3.6" fill="#3CC489" stroke="#1f7a52" stroke-width="0.9"/>
<circle cx="1060" cy="466" r="3.6" fill="#3CC489" stroke="#1f7a52" stroke-width="0.9"/>
<circle cx="1173" cy="469" r="3.6" fill="#3CC489" stroke="#1f7a52" stroke-width="0.9"/>
<circle cx="1086" cy="471" r="3.6" fill="#3CC489" stroke="#1f7a52" stroke-width="0.9"/>
<circle cx="1127" cy="490" r="3.6" fill="#3CC489" stroke="#1f7a52" stroke-width="0.9"/>
<circle cx="1127" cy="495" r="3.6" fill="#3CC489" stroke="#1f7a52" stroke-width="0.9"/>
<circle cx="1141" cy="492" r="3.6" fill="#3CC489" stroke="#1f7a52" stroke-width="0.9"/>
<circle cx="1070" cy="501" r="3.6" fill="#3CC489" stroke="#1f7a52" stroke-width="0.9"/>
<circle cx="1098" cy="512" r="3.6" fill="#3CC489" stroke="#1f7a52" stroke-width="0.9"/>
<circle cx="1150" cy="519" r="3.6" fill="#3CC489" stroke="#1f7a52" stroke-width="0.9"/>
<circle cx="1085" cy="523" r="3.6" fill="#3CC489" stroke="#1f7a52" stroke-width="0.9"/>
<circle cx="1141" cy="528" r="3.6" fill="#3CC489" stroke="#1f7a52" stroke-width="0.9"/>
<circle cx="1060" cy="380" r="3.6" fill="#3CC489" stroke="#1f7a52" stroke-width="0.9"/>
<circle cx="1072" cy="383" r="3.6" fill="#3CC489" stroke="#1f7a52" stroke-width="0.9"/>
<circle cx="862" cy="587" r="3.6" fill="#C4A93A" stroke="#7d6a1c" stroke-width="0.9"/>
<circle cx="921" cy="594" r="3.6" fill="#C4A93A" stroke="#7d6a1c" stroke-width="0.9"/>
<circle cx="884" cy="612" r="3.6" fill="#C4A93A" stroke="#7d6a1c" stroke-width="0.9"/>
<circle cx="873" cy="615" r="3.6" fill="#C4A93A" stroke="#7d6a1c" stroke-width="0.9"/>
<circle cx="870" cy="625" r="3.6" fill="#C4A93A" stroke="#7d6a1c" stroke-width="0.9"/>
<circle cx="863" cy="628" r="3.6" fill="#C4A93A" stroke="#7d6a1c" stroke-width="0.9"/>
<circle cx="865" cy="632" r="3.6" fill="#C4A93A" stroke="#7d6a1c" stroke-width="0.9"/>
<circle cx="843" cy="634" r="3.6" fill="#C4A93A" stroke="#7d6a1c" stroke-width="0.9"/>
<circle cx="898" cy="633" r="3.6" fill="#C4A93A" stroke="#7d6a1c" stroke-width="0.9"/>
<circle cx="870" cy="641" r="3.6" fill="#C4A93A" stroke="#7d6a1c" stroke-width="0.9"/>
<circle cx="873" cy="649" r="3.6" fill="#C4A93A" stroke="#7d6a1c" stroke-width="0.9"/>
<circle cx="865" cy="653" r="3.6" fill="#C4A93A" stroke="#7d6a1c" stroke-width="0.9"/>
<circle cx="873" cy="660" r="3.6" fill="#C4A93A" stroke="#7d6a1c" stroke-width="0.9"/>
<circle cx="870" cy="667" r="3.6" fill="#C4A93A" stroke="#7d6a1c" stroke-width="0.9"/>
<circle cx="862" cy="677" r="3.6" fill="#C4A93A" stroke="#7d6a1c" stroke-width="0.9"/>
<circle cx="863" cy="685" r="3.6" fill="#C4A93A" stroke="#7d6a1c" stroke-width="0.9"/>
<circle cx="863" cy="692" r="3.6" fill="#C4A93A" stroke="#7d6a1c" stroke-width="0.9"/>
<circle cx="870" cy="698" r="3.6" fill="#C4A93A" stroke="#7d6a1c" stroke-width="0.9"/>
<circle cx="871" cy="710" r="3.6" fill="#C4A93A" stroke="#7d6a1c" stroke-width="0.9"/>
<circle cx="870" cy="719" r="3.6" fill="#C4A93A" stroke="#7d6a1c" stroke-width="0.9"/>
<circle cx="863" cy="734" r="3.6" fill="#C4A93A" stroke="#7d6a1c" stroke-width="0.9"/>
<circle cx="873" cy="740" r="3.6" fill="#C4A93A" stroke="#7d6a1c" stroke-width="0.9"/>
<circle cx="916" cy="669" r="3.6" fill="#C4A93A" stroke="#7d6a1c" stroke-width="0.9"/>
<circle cx="916" cy="683" r="3.6" fill="#C4A93A" stroke="#7d6a1c" stroke-width="0.9"/>
<circle cx="921" cy="687" r="3.6" fill="#C4A93A" stroke="#7d6a1c" stroke-width="0.9"/>
<circle cx="902" cy="694" r="3.6" fill="#C4A93A" stroke="#7d6a1c" stroke-width="0.9"/>
<circle cx="975" cy="639" r="3.6" fill="#C4A93A" stroke="#7d6a1c" stroke-width="0.9"/>
<circle cx="975" cy="645" r="3.6" fill="#C4A93A" stroke="#7d6a1c" stroke-width="0.9"/>
<circle cx="934" cy="722" r="3.6" fill="#C4A93A" stroke="#7d6a1c" stroke-width="0.9"/>
<circle cx="916" cy="729" r="3.6" fill="#C4A93A" stroke="#7d6a1c" stroke-width="0.9"/>
<circle cx="1065" cy="652" r="3.6" fill="#C4A93A" stroke="#7d6a1c" stroke-width="0.9"/>
<circle cx="882" cy="560" r="3.6" fill="#C4A93A" stroke="#7d6a1c" stroke-width="0.9"/>
<circle cx="951" cy="573" r="3.6" fill="#5CC43C" stroke="#357a1e" stroke-width="0.9"/>
<circle cx="978" cy="583" r="3.6" fill="#5CC43C" stroke="#357a1e" stroke-width="0.9"/>
<circle cx="1023" cy="571" r="3.6" fill="#5CC43C" stroke="#357a1e" stroke-width="0.9"/>
<circle cx="965" cy="600" r="3.6" fill="#5CC43C" stroke="#357a1e" stroke-width="0.9"/>
<circle cx="976" cy="617" r="3.6" fill="#5CC43C" stroke="#357a1e" stroke-width="0.9"/>
<circle cx="937" cy="658" r="3.6" fill="#5CC43C" stroke="#357a1e" stroke-width="0.9"/>
<circle cx="937" cy="671" r="3.6" fill="#5CC43C" stroke="#357a1e" stroke-width="0.9"/>
<circle cx="938" cy="679" r="3.6" fill="#5CC43C" stroke="#357a1e" stroke-width="0.9"/>
<circle cx="1082" cy="589" r="3.6" fill="#5CC43C" stroke="#357a1e" stroke-width="0.9"/>
<circle cx="1024" cy="702" r="3.6" fill="#5CC43C" stroke="#357a1e" stroke-width="0.9"/>
<circle cx="976" cy="705" r="3.6" fill="#5CC43C" stroke="#357a1e" stroke-width="0.9"/>
<circle cx="976" cy="714" r="3.6" fill="#5CC43C" stroke="#357a1e" stroke-width="0.9"/>
<circle cx="1026" cy="730" r="3.6" fill="#5CC43C" stroke="#357a1e" stroke-width="0.9"/>
<circle cx="1062" cy="732" r="3.6" fill="#5CC43C" stroke="#357a1e" stroke-width="0.9"/>
<circle cx="1110" cy="676" r="3.6" fill="#5CC43C" stroke="#357a1e" stroke-width="0.9"/>
<circle cx="1087" cy="563" r="3.6" fill="#5CC43C" stroke="#357a1e" stroke-width="0.9"/>
<circle cx="968" cy="561" r="3.6" fill="#5CC43C" stroke="#357a1e" stroke-width="0.9"/>
<circle cx="970" cy="564" r="3.6" fill="#5CC43C" stroke="#357a1e" stroke-width="0.9"/>
<circle cx="1077" cy="585" r="3.6" fill="#C4393A" stroke="#7a1e1e" stroke-width="0.9"/>
<circle cx="975" cy="609" r="3.6" fill="#C4393A" stroke="#7a1e1e" stroke-width="0.9"/>
<circle cx="930" cy="630" r="3.6" fill="#C4393A" stroke="#7a1e1e" stroke-width="0.9"/>
<circle cx="994" cy="668" r="3.6" fill="#C4393A" stroke="#7a1e1e" stroke-width="0.9"/>
<circle cx="982" cy="568" r="3.6" fill="#3C88C4" stroke="#1f4f7a" stroke-width="0.9"/>
<circle cx="1058" cy="591" r="3.6" fill="#3C88C4" stroke="#1f4f7a" stroke-width="0.9"/>
<circle cx="1107" cy="601" r="3.6" fill="#3C88C4" stroke="#1f4f7a" stroke-width="0.9"/>
<circle cx="1076" cy="605" r="3.6" fill="#3C88C4" stroke="#1f4f7a" stroke-width="0.9"/>
<circle cx="1066" cy="637" r="3.6" fill="#3C88C4" stroke="#1f4f7a" stroke-width="0.9"/>
<circle cx="1066" cy="726" r="3.6" fill="#3C88C4" stroke="#1f4f7a" stroke-width="0.9"/>
<circle cx="929" cy="736" r="3.6" fill="#3C88C4" stroke="#1f4f7a" stroke-width="0.9"/>
<circle cx="1031" cy="738" r="3.6" fill="#3C88C4" stroke="#1f4f7a" stroke-width="0.9"/>
<circle cx="910" cy="580" r="3.6" fill="#5E3CC4" stroke="#33207a" stroke-width="0.9"/>
<circle cx="915" cy="581" r="3.6" fill="#5E3CC4" stroke="#33207a" stroke-width="0.9"/>
<circle cx="1082" cy="578" r="3.6" fill="#5E3CC4" stroke="#33207a" stroke-width="0.9"/>
<circle cx="910" cy="593" r="3.6" fill="#5E3CC4" stroke="#33207a" stroke-width="0.9"/>
<circle cx="1034" cy="595" r="3.6" fill="#5E3CC4" stroke="#33207a" stroke-width="0.9"/>
<circle cx="1042" cy="597" r="3.6" fill="#5E3CC4" stroke="#33207a" stroke-width="0.9"/>
<circle cx="1053" cy="602" r="3.6" fill="#5E3CC4" stroke="#33207a" stroke-width="0.9"/>
<circle cx="1077" cy="603" r="3.6" fill="#5E3CC4" stroke="#33207a" stroke-width="0.9"/>
<circle cx="1077" cy="608" r="3.6" fill="#5E3CC4" stroke="#33207a" stroke-width="0.9"/>
<circle cx="1077" cy="613" r="3.6" fill="#5E3CC4" stroke="#33207a" stroke-width="0.9"/>
<circle cx="1098" cy="618" r="3.6" fill="#5E3CC4" stroke="#33207a" stroke-width="0.9"/>
<circle cx="1102" cy="636" r="3.6" fill="#5E3CC4" stroke="#33207a" stroke-width="0.9"/>
<circle cx="910" cy="644" r="3.6" fill="#5E3CC4" stroke="#33207a" stroke-width="0.9"/>
<circle cx="1021" cy="642" r="3.6" fill="#5E3CC4" stroke="#33207a" stroke-width="0.9"/>
<circle cx="1117" cy="647" r="3.6" fill="#5E3CC4" stroke="#33207a" stroke-width="0.9"/>
<circle cx="1070" cy="655" r="3.6" fill="#5E3CC4" stroke="#33207a" stroke-width="0.9"/>
<circle cx="1107" cy="657" r="3.6" fill="#5E3CC4" stroke="#33207a" stroke-width="0.9"/>
<circle cx="1039" cy="663" r="3.6" fill="#5E3CC4" stroke="#33207a" stroke-width="0.9"/>
<circle cx="1077" cy="664" r="3.6" fill="#5E3CC4" stroke="#33207a" stroke-width="0.9"/>
<circle cx="1016" cy="673" r="3.6" fill="#5E3CC4" stroke="#33207a" stroke-width="0.9"/>
<circle cx="1016" cy="682" r="3.6" fill="#5E3CC4" stroke="#33207a" stroke-width="0.9"/>
<circle cx="1106" cy="674" r="3.6" fill="#5E3CC4" stroke="#33207a" stroke-width="0.9"/>
<circle cx="1115" cy="681" r="3.6" fill="#5E3CC4" stroke="#33207a" stroke-width="0.9"/>
<circle cx="892" cy="697" r="3.6" fill="#5E3CC4" stroke="#33207a" stroke-width="0.9"/>
<circle cx="954" cy="711" r="3.6" fill="#5E3CC4" stroke="#33207a" stroke-width="0.9"/>
<circle cx="1040" cy="713" r="3.6" fill="#5E3CC4" stroke="#33207a" stroke-width="0.9"/>
<circle cx="1017" cy="716" r="3.6" fill="#5E3CC4" stroke="#33207a" stroke-width="0.9"/>
<circle cx="1017" cy="722" r="3.6" fill="#5E3CC4" stroke="#33207a" stroke-width="0.9"/>
<circle cx="1061" cy="723" r="3.6" fill="#5E3CC4" stroke="#33207a" stroke-width="0.9"/>
<circle cx="1120" cy="708" r="3.6" fill="#5E3CC4" stroke="#33207a" stroke-width="0.9"/>
<circle cx="1160" cy="572" r="3.6" fill="#3CC489" stroke="#1f7a52" stroke-width="0.9"/>
<circle cx="1070" cy="577" r="3.6" fill="#3CC489" stroke="#1f7a52" stroke-width="0.9"/>
<circle cx="1127" cy="575" r="3.6" fill="#3CC489" stroke="#1f7a52" stroke-width="0.9"/>
<circle cx="1127" cy="607" r="3.6" fill="#3CC489" stroke="#1f7a52" stroke-width="0.9"/>
<circle cx="1127" cy="622" r="3.6" fill="#3CC489" stroke="#1f7a52" stroke-width="0.9"/>
<circle cx="1127" cy="624" r="3.6" fill="#3CC489" stroke="#1f7a52" stroke-width="0.9"/>
<circle cx="1093" cy="620" r="3.6" fill="#3CC489" stroke="#1f7a52" stroke-width="0.9"/>
<circle cx="1125" cy="661" r="3.6" fill="#3CC489" stroke="#1f7a52" stroke-width="0.9"/>
<circle cx="1044" cy="689" r="3.6" fill="#3CC489" stroke="#1f7a52" stroke-width="0.9"/>
<circle cx="976" cy="690" r="3.6" fill="#3CC489" stroke="#1f7a52" stroke-width="0.9"/>
<circle cx="927" cy="699" r="3.6" fill="#3CC489" stroke="#1f7a52" stroke-width="0.9"/>
<circle cx="1173" cy="695" r="3.6" fill="#3CC489" stroke="#1f7a52" stroke-width="0.9"/>
<circle cx="1060" cy="703" r="3.6" fill="#3CC489" stroke="#1f7a52" stroke-width="0.9"/>
<circle cx="1060" cy="706" r="3.6" fill="#3CC489" stroke="#1f7a52" stroke-width="0.9"/>
<circle cx="1152" cy="735" r="3.6" fill="#3CC489" stroke="#1f7a52" stroke-width="0.9"/>
<circle cx="911" cy="743" r="3.6" fill="#3CC489" stroke="#1f7a52" stroke-width="0.9"/>
<circle cx="925" cy="744" r="3.6" fill="#3CC489" stroke="#1f7a52" stroke-width="0.9"/>
<circle cx="911" cy="751" r="3.6" fill="#3CC489" stroke="#1f7a52" stroke-width="0.9"/>
<circle cx="927" cy="754" r="3.6" fill="#3CC489" stroke="#1f7a52" stroke-width="0.9"/>
<circle cx="927" cy="757" r="3.6" fill="#3CC489" stroke="#1f7a52" stroke-width="0.9"/>
<circle cx="927" cy="771" r="3.6" fill="#3CC489" stroke="#1f7a52" stroke-width="0.9"/>
<circle cx="911" cy="787" r="3.6" fill="#3CC489" stroke="#1f7a52" stroke-width="0.9"/>
<circle cx="911" cy="793" r="3.6" fill="#3CC489" stroke="#1f7a52" stroke-width="0.9"/>
<circle cx="927" cy="804" r="3.6" fill="#3CC489" stroke="#1f7a52" stroke-width="0.9"/>
<circle cx="911" cy="809" r="3.6" fill="#3CC489" stroke="#1f7a52" stroke-width="0.9"/>
<circle cx="911" cy="831" r="3.6" fill="#3CC489" stroke="#1f7a52" stroke-width="0.9"/>
<circle cx="927" cy="839" r="3.6" fill="#3CC489" stroke="#1f7a52" stroke-width="0.9"/>
<circle cx="927" cy="861" r="3.6" fill="#3CC489" stroke="#1f7a52" stroke-width="0.9"/>
<circle cx="911" cy="867" r="3.6" fill="#3CC489" stroke="#1f7a52" stroke-width="0.9"/>
<circle cx="911" cy="873" r="3.6" fill="#3CC489" stroke="#1f7a52" stroke-width="0.9"/>
<circle cx="826" cy="784" r="3.6" fill="#3CC489" stroke="#1f7a52" stroke-width="0.9"/>
<circle cx="820" cy="791" r="3.6" fill="#3CC489" stroke="#1f7a52" stroke-width="0.9"/>
<circle cx="802" cy="823" r="3.6" fill="#3CC489" stroke="#1f7a52" stroke-width="0.9"/>
<circle cx="813" cy="842" r="3.6" fill="#3CC489" stroke="#1f7a52" stroke-width="0.9"/>
<circle cx="820" cy="905" r="3.6" fill="#3CC489" stroke="#1f7a52" stroke-width="0.9"/>
<circle cx="831" cy="912" r="3.6" fill="#3CC489" stroke="#1f7a52" stroke-width="0.9"/>
<circle cx="802" cy="749" r="3.6" fill="#5E3CC4" stroke="#33207a" stroke-width="0.9"/>
<circle cx="852" cy="780" r="3.6" fill="#5E3CC4" stroke="#33207a" stroke-width="0.9"/>
<circle cx="808" cy="789" r="3.6" fill="#5E3CC4" stroke="#33207a" stroke-width="0.9"/>
<circle cx="803" cy="793" r="3.6" fill="#5E3CC4" stroke="#33207a" stroke-width="0.9"/>
<circle cx="818" cy="880" r="3.6" fill="#5E3CC4" stroke="#33207a" stroke-width="0.9"/>
<circle cx="818" cy="883" r="3.6" fill="#5E3CC4" stroke="#33207a" stroke-width="0.9"/>
<circle cx="839" cy="922" r="3.6" fill="#5E3CC4" stroke="#33207a" stroke-width="0.9"/>
<circle cx="815" cy="938" r="3.6" fill="#5E3CC4" stroke="#33207a" stroke-width="0.9"/>
<circle cx="821" cy="943" r="3.6" fill="#5E3CC4" stroke="#33207a" stroke-width="0.9"/>
<circle cx="897" cy="778" r="3.6" fill="#5E3CC4" stroke="#33207a" stroke-width="0.9"/>
<circle cx="905" cy="776" r="3.6" fill="#5E3CC4" stroke="#33207a" stroke-width="0.9"/>
<circle cx="918" cy="773" r="3.6" fill="#5E3CC4" stroke="#33207a" stroke-width="0.9"/>
<circle cx="949" cy="783" r="3.6" fill="#5E3CC4" stroke="#33207a" stroke-width="0.9"/>
<circle cx="948" cy="799" r="3.6" fill="#5E3CC4" stroke="#33207a" stroke-width="0.9"/>
<circle cx="954" cy="802" r="3.6" fill="#5E3CC4" stroke="#33207a" stroke-width="0.9"/>
<circle cx="949" cy="810" r="3.6" fill="#5E3CC4" stroke="#33207a" stroke-width="0.9"/>
<circle cx="953" cy="815" r="3.6" fill="#5E3CC4" stroke="#33207a" stroke-width="0.9"/>
<circle cx="910" cy="818" r="3.6" fill="#5E3CC4" stroke="#33207a" stroke-width="0.9"/>
<circle cx="927" cy="820" r="3.6" fill="#5E3CC4" stroke="#33207a" stroke-width="0.9"/>
<circle cx="863" cy="833" r="3.6" fill="#5E3CC4" stroke="#33207a" stroke-width="0.9"/>
<circle cx="908" cy="844" r="3.6" fill="#5E3CC4" stroke="#33207a" stroke-width="0.9"/>
<circle cx="927" cy="846" r="3.6" fill="#5E3CC4" stroke="#33207a" stroke-width="0.9"/>
<circle cx="937" cy="852" r="3.6" fill="#5E3CC4" stroke="#33207a" stroke-width="0.9"/>
<circle cx="943" cy="850" r="3.6" fill="#5E3CC4" stroke="#33207a" stroke-width="0.9"/>
<circle cx="953" cy="847" r="3.6" fill="#5E3CC4" stroke="#33207a" stroke-width="0.9"/>
<circle cx="949" cy="857" r="3.6" fill="#5E3CC4" stroke="#33207a" stroke-width="0.9"/>
<circle cx="911" cy="860" r="3.6" fill="#5E3CC4" stroke="#33207a" stroke-width="0.9"/>
<circle cx="972" cy="884" r="3.6" fill="#5E3CC4" stroke="#33207a" stroke-width="0.9"/>
<circle cx="993" cy="886" r="3.6" fill="#5E3CC4" stroke="#33207a" stroke-width="0.9"/>
<circle cx="927" cy="890" r="3.6" fill="#5E3CC4" stroke="#33207a" stroke-width="0.9"/>
<circle cx="951" cy="893" r="3.6" fill="#5E3CC4" stroke="#33207a" stroke-width="0.9"/>
<circle cx="962" cy="895" r="3.6" fill="#5E3CC4" stroke="#33207a" stroke-width="0.9"/>
<circle cx="951" cy="900" r="3.6" fill="#5E3CC4" stroke="#33207a" stroke-width="0.9"/>
<circle cx="911" cy="901" r="3.6" fill="#5E3CC4" stroke="#33207a" stroke-width="0.9"/>
<circle cx="911" cy="909" r="3.6" fill="#5E3CC4" stroke="#33207a" stroke-width="0.9"/>
<circle cx="1018" cy="914" r="3.6" fill="#5E3CC4" stroke="#33207a" stroke-width="0.9"/>
<circle cx="1037" cy="911" r="3.6" fill="#5E3CC4" stroke="#33207a" stroke-width="0.9"/>
<circle cx="841" cy="922" r="3.6" fill="#5E3CC4" stroke="#33207a" stroke-width="0.9"/>
<circle cx="978" cy="929" r="3.6" fill="#5E3CC4" stroke="#33207a" stroke-width="0.9"/>
<circle cx="1021" cy="933" r="3.6" fill="#5E3CC4" stroke="#33207a" stroke-width="0.9"/>
<circle cx="916" cy="936" r="3.6" fill="#5E3CC4" stroke="#33207a" stroke-width="0.9"/>
<circle cx="1004" cy="940" r="3.6" fill="#5E3CC4" stroke="#33207a" stroke-width="0.9"/>
<circle cx="1047" cy="747" r="3.6" fill="#5E3CC4" stroke="#33207a" stroke-width="0.9"/>
<circle cx="1094" cy="748" r="3.6" fill="#5E3CC4" stroke="#33207a" stroke-width="0.9"/>
<circle cx="1099" cy="758" r="3.6" fill="#5E3CC4" stroke="#33207a" stroke-width="0.9"/>
<circle cx="1020" cy="769" r="3.6" fill="#5E3CC4" stroke="#33207a" stroke-width="0.9"/>
<circle cx="1015" cy="821" r="3.6" fill="#5E3CC4" stroke="#33207a" stroke-width="0.9"/>
<circle cx="997" cy="826" r="3.6" fill="#5E3CC4" stroke="#33207a" stroke-width="0.9"/>
<circle cx="1018" cy="827" r="3.6" fill="#5E3CC4" stroke="#33207a" stroke-width="0.9"/>
<circle cx="1016" cy="836" r="3.6" fill="#5E3CC4" stroke="#33207a" stroke-width="0.9"/>
<circle cx="1004" cy="840" r="3.6" fill="#5E3CC4" stroke="#33207a" stroke-width="0.9"/>
<circle cx="1013" cy="848" r="3.6" fill="#5E3CC4" stroke="#33207a" stroke-width="0.9"/>
<circle cx="1016" cy="853" r="3.6" fill="#5E3CC4" stroke="#33207a" stroke-width="0.9"/>
<circle cx="1060" cy="858" r="3.6" fill="#5E3CC4" stroke="#33207a" stroke-width="0.9"/>
<circle cx="949" cy="760" r="3.6" fill="#5E3CC4" stroke="#33207a" stroke-width="0.9"/>
<circle cx="951" cy="764" r="3.6" fill="#5E3CC4" stroke="#33207a" stroke-width="0.9"/>
<circle cx="943" cy="762" r="3.6" fill="#3C88C4" stroke="#1f4f7a" stroke-width="0.9"/>
<circle cx="909" cy="767" r="3.6" fill="#3C88C4" stroke="#1f4f7a" stroke-width="0.9"/>
<circle cx="918" cy="782" r="3.6" fill="#3C88C4" stroke="#1f4f7a" stroke-width="0.9"/>
<circle cx="1042" cy="766" r="3.6" fill="#3C88C4" stroke="#1f4f7a" stroke-width="0.9"/>
<circle cx="986" cy="796" r="3.6" fill="#3C88C4" stroke="#1f4f7a" stroke-width="0.9"/>
<circle cx="998" cy="797" r="3.6" fill="#3C88C4" stroke="#1f4f7a" stroke-width="0.9"/>
<circle cx="843" cy="829" r="3.6" fill="#3C88C4" stroke="#1f4f7a" stroke-width="0.9"/>
<circle cx="852" cy="919" r="3.6" fill="#3C88C4" stroke="#1f4f7a" stroke-width="0.9"/>
<circle cx="975" cy="927" r="3.6" fill="#3C88C4" stroke="#1f4f7a" stroke-width="0.9"/>
<circle cx="842" cy="830" r="3.6" fill="#3C88C4" stroke="#1f4f7a" stroke-width="0.9"/>
<circle cx="818" cy="838" r="3.6" fill="#3C88C4" stroke="#1f4f7a" stroke-width="0.9"/>
<circle cx="837" cy="855" r="3.6" fill="#3C88C4" stroke="#1f4f7a" stroke-width="0.9"/>
<circle cx="1030" cy="740" r="3.6" fill="#3C88C4" stroke="#1f4f7a" stroke-width="0.9"/>
<circle cx="914" cy="775" r="3.6" fill="#C4A93A" stroke="#7d6a1c" stroke-width="0.9"/>
<circle cx="903" cy="834" r="3.6" fill="#C4A93A" stroke="#7d6a1c" stroke-width="0.9"/>
<circle cx="903" cy="875" r="3.6" fill="#C4A93A" stroke="#7d6a1c" stroke-width="0.9"/>
<circle cx="908" cy="874" r="3.6" fill="#C4A93A" stroke="#7d6a1c" stroke-width="0.9"/>
<circle cx="948" cy="896" r="3.6" fill="#C4A93A" stroke="#7d6a1c" stroke-width="0.9"/>
<circle cx="892" cy="759" r="3.6" fill="#5CC43C" stroke="#357a1e" stroke-width="0.9"/>
<circle cx="847" cy="813" r="3.6" fill="#5CC43C" stroke="#357a1e" stroke-width="0.9"/>
<circle cx="887" cy="824" r="3.6" fill="#5CC43C" stroke="#357a1e" stroke-width="0.9"/>
<circle cx="847" cy="879" r="3.6" fill="#5CC43C" stroke="#357a1e" stroke-width="0.9"/>
<circle cx="889" cy="878" r="3.6" fill="#5CC43C" stroke="#357a1e" stroke-width="0.9"/>
<circle cx="892" cy="887" r="3.6" fill="#5CC43C" stroke="#357a1e" stroke-width="0.9"/>
<circle cx="920" cy="888" r="3.6" fill="#5CC43C" stroke="#357a1e" stroke-width="0.9"/>
<circle cx="892" cy="898" r="3.6" fill="#5CC43C" stroke="#357a1e" stroke-width="0.9"/>
<circle cx="907" cy="906" r="3.6" fill="#5CC43C" stroke="#357a1e" stroke-width="0.9"/>
<circle cx="873" cy="920" r="3.6" fill="#5CC43C" stroke="#357a1e" stroke-width="0.9"/>
<circle cx="887" cy="924" r="3.6" fill="#5CC43C" stroke="#357a1e" stroke-width="0.9"/>
<circle cx="898" cy="925" r="3.6" fill="#5CC43C" stroke="#357a1e" stroke-width="0.9"/>
<circle cx="965" cy="930" r="3.6" fill="#5CC43C" stroke="#357a1e" stroke-width="0.9"/>
<circle cx="964" cy="936" r="3.6" fill="#5CC43C" stroke="#357a1e" stroke-width="0.9"/>
<circle cx="893" cy="941" r="3.6" fill="#5CC43C" stroke="#357a1e" stroke-width="0.9"/>
<circle cx="585" cy="812" r="3.6" fill="#5CC43C" stroke="#357a1e" stroke-width="0.9"/>
<circle cx="624" cy="944" r="3.6" fill="#5CC43C" stroke="#357a1e" stroke-width="0.9"/>
<circle cx="1010" cy="863" r="3.6" fill="#5CC43C" stroke="#357a1e" stroke-width="0.9"/>
<circle cx="943" cy="917" r="3.6" fill="#C4393A" stroke="#7a1e1e" stroke-width="0.9"/>
<circle cx="770" cy="916" r="3.6" fill="#C4393A" stroke="#7a1e1e" stroke-width="0.9"/>
<circle cx="673" cy="742" r="3.6" fill="#C4393A" stroke="#7a1e1e" stroke-width="0.9"/>
<circle cx="571" cy="983" r="3.6" fill="#5CC43C" stroke="#357a1e" stroke-width="0.9"/>
<circle cx="548" cy="996" r="3.6" fill="#5CC43C" stroke="#357a1e" stroke-width="0.9"/>
<circle cx="568" cy="1000" r="3.6" fill="#5CC43C" stroke="#357a1e" stroke-width="0.9"/>
<circle cx="693" cy="1007" r="3.6" fill="#5CC43C" stroke="#357a1e" stroke-width="0.9"/>
<circle cx="736" cy="1015" r="3.6" fill="#5CC43C" stroke="#357a1e" stroke-width="0.9"/>
<circle cx="887" cy="951" r="3.6" fill="#5CC43C" stroke="#357a1e" stroke-width="0.9"/>
<circle cx="892" cy="952" r="3.6" fill="#5CC43C" stroke="#357a1e" stroke-width="0.9"/>
<circle cx="903" cy="978" r="3.6" fill="#5CC43C" stroke="#357a1e" stroke-width="0.9"/>
<circle cx="954" cy="975" r="3.6" fill="#5CC43C" stroke="#357a1e" stroke-width="0.9"/>
<circle cx="938" cy="1011" r="3.6" fill="#5CC43C" stroke="#357a1e" stroke-width="0.9"/>
<circle cx="970" cy="1050" r="3.6" fill="#5CC43C" stroke="#357a1e" stroke-width="0.9"/>
<circle cx="657" cy="968" r="3.6" fill="#3C88C4" stroke="#1f4f7a" stroke-width="0.9"/>
<circle cx="777" cy="965" r="3.6" fill="#3C88C4" stroke="#1f4f7a" stroke-width="0.9"/>
<circle cx="783" cy="967" r="3.6" fill="#3C88C4" stroke="#1f4f7a" stroke-width="0.9"/>
<circle cx="718" cy="981" r="3.6" fill="#3C88C4" stroke="#1f4f7a" stroke-width="0.9"/>
<circle cx="636" cy="1005" r="3.6" fill="#3C88C4" stroke="#1f4f7a" stroke-width="0.9"/>
<circle cx="838" cy="1051" r="3.6" fill="#3C88C4" stroke="#1f4f7a" stroke-width="0.9"/>
<circle cx="785" cy="970" r="3.6" fill="#5E3CC4" stroke="#33207a" stroke-width="0.9"/>
<circle cx="806" cy="972" r="3.6" fill="#5E3CC4" stroke="#33207a" stroke-width="0.9"/>
<circle cx="827" cy="1003" r="3.6" fill="#5E3CC4" stroke="#33207a" stroke-width="0.9"/>
<circle cx="842" cy="1002" r="3.6" fill="#5E3CC4" stroke="#33207a" stroke-width="0.9"/>
<circle cx="842" cy="1010" r="3.6" fill="#5E3CC4" stroke="#33207a" stroke-width="0.9"/>
<circle cx="788" cy="1017" r="3.6" fill="#5E3CC4" stroke="#33207a" stroke-width="0.9"/>
<circle cx="821" cy="1035" r="3.6" fill="#5E3CC4" stroke="#33207a" stroke-width="0.9"/>
<circle cx="759" cy="1058" r="3.6" fill="#5E3CC4" stroke="#33207a" stroke-width="0.9"/>
<circle cx="822" cy="1059" r="3.6" fill="#5E3CC4" stroke="#33207a" stroke-width="0.9"/>
<circle cx="766" cy="1068" r="3.6" fill="#5E3CC4" stroke="#33207a" stroke-width="0.9"/>
<circle cx="739" cy="1071" r="3.6" fill="#5E3CC4" stroke="#33207a" stroke-width="0.9"/>
<circle cx="729" cy="1074" r="3.6" fill="#5E3CC4" stroke="#33207a" stroke-width="0.9"/>
<circle cx="914" cy="946" r="3.6" fill="#5E3CC4" stroke="#33207a" stroke-width="0.9"/>
<circle cx="927" cy="949" r="3.6" fill="#5E3CC4" stroke="#33207a" stroke-width="0.9"/>
<circle cx="887" cy="955" r="3.6" fill="#5E3CC4" stroke="#33207a" stroke-width="0.9"/>
<circle cx="965" cy="960" r="3.6" fill="#5E3CC4" stroke="#33207a" stroke-width="0.9"/>
<circle cx="1017" cy="957" r="3.6" fill="#5E3CC4" stroke="#33207a" stroke-width="0.9"/>
<circle cx="1015" cy="964" r="3.6" fill="#5E3CC4" stroke="#33207a" stroke-width="0.9"/>
<circle cx="1037" cy="962" r="3.6" fill="#5E3CC4" stroke="#33207a" stroke-width="0.9"/>
<circle cx="1042" cy="959" r="3.6" fill="#5E3CC4" stroke="#33207a" stroke-width="0.9"/>
<circle cx="914" cy="976" r="3.6" fill="#5E3CC4" stroke="#33207a" stroke-width="0.9"/>
<circle cx="930" cy="988" r="3.6" fill="#5E3CC4" stroke="#33207a" stroke-width="0.9"/>
<circle cx="965" cy="990" r="3.6" fill="#5E3CC4" stroke="#33207a" stroke-width="0.9"/>
<circle cx="911" cy="1012" r="3.6" fill="#5E3CC4" stroke="#33207a" stroke-width="0.9"/>
<circle cx="908" cy="1021" r="3.6" fill="#5E3CC4" stroke="#33207a" stroke-width="0.9"/>
<circle cx="913" cy="1024" r="3.6" fill="#5E3CC4" stroke="#33207a" stroke-width="0.9"/>
<circle cx="954" cy="1020" r="3.6" fill="#5E3CC4" stroke="#33207a" stroke-width="0.9"/>
<circle cx="948" cy="1028" r="3.6" fill="#5E3CC4" stroke="#33207a" stroke-width="0.9"/>
<circle cx="927" cy="1032" r="3.6" fill="#5E3CC4" stroke="#33207a" stroke-width="0.9"/>
<circle cx="1053" cy="1030" r="3.6" fill="#5E3CC4" stroke="#33207a" stroke-width="0.9"/>
<circle cx="934" cy="1043" r="3.6" fill="#5E3CC4" stroke="#33207a" stroke-width="0.9"/>
<circle cx="984" cy="1046" r="3.6" fill="#5E3CC4" stroke="#33207a" stroke-width="0.9"/>
<circle cx="985" cy="1048" r="3.6" fill="#5E3CC4" stroke="#33207a" stroke-width="0.9"/>
<circle cx="1007" cy="1045" r="3.6" fill="#5E3CC4" stroke="#33207a" stroke-width="0.9"/>
<circle cx="879" cy="1053" r="3.6" fill="#5E3CC4" stroke="#33207a" stroke-width="0.9"/>
<circle cx="1103" cy="1055" r="3.6" fill="#5E3CC4" stroke="#33207a" stroke-width="0.9"/>
<circle cx="1039" cy="1064" r="3.6" fill="#5E3CC4" stroke="#33207a" stroke-width="0.9"/>
<circle cx="1042" cy="1066" r="3.6" fill="#5E3CC4" stroke="#33207a" stroke-width="0.9"/>
<circle cx="1066" cy="1062" r="3.6" fill="#5E3CC4" stroke="#33207a" stroke-width="0.9"/>
<circle cx="1070" cy="1063" r="3.6" fill="#5E3CC4" stroke="#33207a" stroke-width="0.9"/>
<circle cx="980" cy="1069" r="3.6" fill="#5E3CC4" stroke="#33207a" stroke-width="0.9"/>
<circle cx="1026" cy="1072" r="3.6" fill="#5E3CC4" stroke="#33207a" stroke-width="0.9"/>
<circle cx="738" cy="1071" r="3.6" fill="#5E3CC4" stroke="#33207a" stroke-width="0.9"/>
<circle cx="766" cy="984" r="3.6" fill="#3CC489" stroke="#1f7a52" stroke-width="0.9"/>
<circle cx="747" cy="994" r="3.6" fill="#3CC489" stroke="#1f7a52" stroke-width="0.9"/>
<circle cx="755" cy="992" r="3.6" fill="#3CC489" stroke="#1f7a52" stroke-width="0.9"/>
<circle cx="806" cy="997" r="3.6" fill="#3CC489" stroke="#1f7a52" stroke-width="0.9"/>
<circle cx="814" cy="1008" r="3.6" fill="#3CC489" stroke="#1f7a52" stroke-width="0.9"/>
<circle cx="753" cy="1034" r="3.6" fill="#3CC489" stroke="#1f7a52" stroke-width="0.9"/>
<circle cx="827" cy="1037" r="3.6" fill="#3CC489" stroke="#1f7a52" stroke-width="0.9"/>
<circle cx="814" cy="1042" r="3.6" fill="#3CC489" stroke="#1f7a52" stroke-width="0.9"/>
<circle cx="911" cy="956" r="3.6" fill="#3CC489" stroke="#1f7a52" stroke-width="0.9"/>
<circle cx="911" cy="980" r="3.6" fill="#3CC489" stroke="#1f7a52" stroke-width="0.9"/>
<circle cx="886" cy="986" r="3.6" fill="#3CC489" stroke="#1f7a52" stroke-width="0.9"/>
<circle cx="911" cy="1017" r="3.6" fill="#3CC489" stroke="#1f7a52" stroke-width="0.9"/>
<circle cx="911" cy="1029" r="3.6" fill="#3CC489" stroke="#1f7a52" stroke-width="0.9"/>
<circle cx="993" cy="1038" r="3.6" fill="#3CC489" stroke="#1f7a52" stroke-width="0.9"/>
<circle cx="769" cy="999" r="3.6" fill="#C4393A" stroke="#7a1e1e" stroke-width="0.9"/>
<circle cx="921" cy="1076" r="3.6" fill="#C4A93A" stroke="#7d6a1c" stroke-width="0.9"/>
<circle cx="831" cy="1101" r="3.6" fill="#C4A93A" stroke="#7d6a1c" stroke-width="0.9"/>
<circle cx="871" cy="1102" r="3.6" fill="#C4A93A" stroke="#7d6a1c" stroke-width="0.9"/>
<circle cx="850" cy="1107" r="3.6" fill="#C4A93A" stroke="#7d6a1c" stroke-width="0.9"/>
<circle cx="850" cy="1117" r="3.6" fill="#C4A93A" stroke="#7d6a1c" stroke-width="0.9"/>
<circle cx="838" cy="1080" r="3.6" fill="#5E3CC4" stroke="#33207a" stroke-width="0.9"/>
<circle cx="847" cy="1079" r="3.6" fill="#5E3CC4" stroke="#33207a" stroke-width="0.9"/>
<circle cx="806" cy="1087" r="3.6" fill="#5E3CC4" stroke="#33207a" stroke-width="0.9"/>
<circle cx="876" cy="1083" r="3.6" fill="#5E3CC4" stroke="#33207a" stroke-width="0.9"/>
<circle cx="926" cy="1075" r="3.6" fill="#5E3CC4" stroke="#33207a" stroke-width="0.9"/>
<circle cx="967" cy="1082" r="3.6" fill="#5E3CC4" stroke="#33207a" stroke-width="0.9"/>
<circle cx="1015" cy="1122" r="3.6" fill="#5E3CC4" stroke="#33207a" stroke-width="0.9"/>
<circle cx="893" cy="1154" r="3.6" fill="#5E3CC4" stroke="#33207a" stroke-width="0.9"/>
<circle cx="1018" cy="1151" r="3.6" fill="#5E3CC4" stroke="#33207a" stroke-width="0.9"/>
<circle cx="924" cy="1085" r="3.6" fill="#3C88C4" stroke="#1f4f7a" stroke-width="0.9"/>
<circle cx="906" cy="1118" r="3.6" fill="#3C88C4" stroke="#1f4f7a" stroke-width="0.9"/>
<circle cx="873" cy="1088" r="3.6" fill="#5CC43C" stroke="#357a1e" stroke-width="0.9"/>
<circle cx="903" cy="1090" r="3.6" fill="#5CC43C" stroke="#357a1e" stroke-width="0.9"/>
<circle cx="941" cy="1091" r="3.6" fill="#5CC43C" stroke="#357a1e" stroke-width="0.9"/>
<circle cx="941" cy="1096" r="3.6" fill="#5CC43C" stroke="#357a1e" stroke-width="0.9"/>
<circle cx="976" cy="1093" r="3.6" fill="#5CC43C" stroke="#357a1e" stroke-width="0.9"/>
<circle cx="978" cy="1098" r="3.6" fill="#5CC43C" stroke="#357a1e" stroke-width="0.9"/>
<circle cx="758" cy="1094" r="3.6" fill="#5CC43C" stroke="#357a1e" stroke-width="0.9"/>
<circle cx="887" cy="1104" r="3.6" fill="#5CC43C" stroke="#357a1e" stroke-width="0.9"/>
<circle cx="831" cy="1109" r="3.6" fill="#5CC43C" stroke="#357a1e" stroke-width="0.9"/>
<circle cx="790" cy="1114" r="3.6" fill="#5CC43C" stroke="#357a1e" stroke-width="0.9"/>
<circle cx="943" cy="1110" r="3.6" fill="#5CC43C" stroke="#357a1e" stroke-width="0.9"/>
<circle cx="988" cy="1112" r="3.6" fill="#5CC43C" stroke="#357a1e" stroke-width="0.9"/>
<circle cx="943" cy="1120" r="3.6" fill="#5CC43C" stroke="#357a1e" stroke-width="0.9"/>
<circle cx="931" cy="1124" r="3.6" fill="#5CC43C" stroke="#357a1e" stroke-width="0.9"/>
<circle cx="870" cy="1145" r="3.6" fill="#5CC43C" stroke="#357a1e" stroke-width="0.9"/>
<circle cx="881" cy="1149" r="3.6" fill="#5CC43C" stroke="#357a1e" stroke-width="0.9"/>
<circle cx="965" cy="1148" r="3.6" fill="#5CC43C" stroke="#357a1e" stroke-width="0.9"/>
<circle cx="936" cy="1155" r="3.6" fill="#5CC43C" stroke="#357a1e" stroke-width="0.9"/>
<circle cx="757" cy="1094" r="3.6" fill="#5CC43C" stroke="#357a1e" stroke-width="0.9"/>
<circle cx="911" cy="1099" r="3.6" fill="#3CC489" stroke="#1f7a52" stroke-width="0.9"/>
<circle cx="911" cy="1115" r="3.6" fill="#3CC489" stroke="#1f7a52" stroke-width="0.9"/>
<circle cx="927" cy="1128" r="3.6" fill="#3CC489" stroke="#1f7a52" stroke-width="0.9"/>
<circle cx="820" cy="1126" r="3.6" fill="#3CC489" stroke="#1f7a52" stroke-width="0.9"/>
<circle cx="824" cy="1132" r="3.6" fill="#3CC489" stroke="#1f7a52" stroke-width="0.9"/>
<circle cx="828" cy="1137" r="3.6" fill="#3CC489" stroke="#1f7a52" stroke-width="0.9"/>
<circle cx="820" cy="1142" r="3.6" fill="#3CC489" stroke="#1f7a52" stroke-width="0.9"/>
<circle cx="803" cy="1135" r="3.6" fill="#3CC489" stroke="#1f7a52" stroke-width="0.9"/>
<circle cx="803" cy="1140" r="3.6" fill="#3CC489" stroke="#1f7a52" stroke-width="0.9"/>
<circle cx="765" cy="1138" r="3.6" fill="#3CC489" stroke="#1f7a52" stroke-width="0.9"/>
<circle cx="743" cy="1157" r="3.6" fill="#3CC489" stroke="#1f7a52" stroke-width="0.9"/>
<circle cx="914" cy="1106" r="3.6" fill="#C4393A" stroke="#7a1e1e" stroke-width="0.9"/>
<circle cx="770" cy="1162" r="3.6" fill="#5E3CC4" stroke="#33207a" stroke-width="0.9"/>
<circle cx="834" cy="1158" r="3.6" fill="#5E3CC4" stroke="#33207a" stroke-width="0.9"/>
<circle cx="876" cy="1165" r="3.6" fill="#5E3CC4" stroke="#33207a" stroke-width="0.9"/>
<circle cx="930" cy="1160" r="3.6" fill="#5E3CC4" stroke="#33207a" stroke-width="0.9"/>
<circle cx="780" cy="1182" r="3.6" fill="#5E3CC4" stroke="#33207a" stroke-width="0.9"/>
<circle cx="965" cy="1189" r="3.6" fill="#5E3CC4" stroke="#33207a" stroke-width="0.9"/>
<circle cx="770" cy="1193" r="3.6" fill="#5E3CC4" stroke="#33207a" stroke-width="0.9"/>
<circle cx="841" cy="1202" r="3.6" fill="#5E3CC4" stroke="#33207a" stroke-width="0.9"/>
<circle cx="763" cy="1205" r="3.6" fill="#5E3CC4" stroke="#33207a" stroke-width="0.9"/>
<circle cx="780" cy="1203" r="3.6" fill="#5E3CC4" stroke="#33207a" stroke-width="0.9"/>
<circle cx="647" cy="1169" r="3.6" fill="#5E3CC4" stroke="#33207a" stroke-width="0.9"/>
<circle cx="692" cy="1175" r="3.6" fill="#5E3CC4" stroke="#33207a" stroke-width="0.9"/>
<circle cx="839" cy="1168" r="3.6" fill="#5CC43C" stroke="#357a1e" stroke-width="0.9"/>
<circle cx="897" cy="1166" r="3.6" fill="#5CC43C" stroke="#357a1e" stroke-width="0.9"/>
<circle cx="942" cy="1172" r="3.6" fill="#5CC43C" stroke="#357a1e" stroke-width="0.9"/>
<circle cx="808" cy="1176" r="3.6" fill="#5CC43C" stroke="#357a1e" stroke-width="0.9"/>
<circle cx="595" cy="1197" r="3.6" fill="#5CC43C" stroke="#357a1e" stroke-width="0.9"/>
<circle cx="692" cy="1200" r="3.6" fill="#5CC43C" stroke="#357a1e" stroke-width="0.9"/>
<circle cx="692" cy="1211" r="3.6" fill="#5CC43C" stroke="#357a1e" stroke-width="0.9"/>
<circle cx="911" cy="1163" r="3.6" fill="#3CC489" stroke="#1f7a52" stroke-width="0.9"/>
<circle cx="803" cy="1179" r="3.6" fill="#3CC489" stroke="#1f7a52" stroke-width="0.9"/>
<circle cx="820" cy="1185" r="3.6" fill="#3CC489" stroke="#1f7a52" stroke-width="0.9"/>
<circle cx="774" cy="1208" r="3.6" fill="#3CC489" stroke="#1f7a52" stroke-width="0.9"/>
<circle cx="876" cy="1178" r="3.6" fill="#C4A93A" stroke="#7d6a1c" stroke-width="0.9"/>
<circle cx="916" cy="1187" r="3.6" fill="#C4A93A" stroke="#7d6a1c" stroke-width="0.9"/>
<circle cx="908" cy="1209" r="3.6" fill="#C4A93A" stroke="#7d6a1c" stroke-width="0.9"/>
<circle cx="715" cy="1195" r="3.6" fill="#3C88C4" stroke="#1f4f7a" stroke-width="0.9"/>
<circle cx="579" cy="1190" r="3.6" fill="#3C88C4" stroke="#1f4f7a" stroke-width="0.9"/>
<circle cx="720" cy="1206" r="3.6" fill="#C4393A" stroke="#7a1e1e" stroke-width="0.9"/>
<circle cx="664" cy="1184" r="3.6" fill="#C4393A" stroke="#7a1e1e" stroke-width="0.9"/>
<circle cx="585" cy="1192" r="3.6" fill="#C4393A" stroke="#7a1e1e" stroke-width="0.9"/>
<circle cx="651" cy="1198" r="3.6" fill="#C4393A" stroke="#7a1e1e" stroke-width="0.9"/>
<circle cx="1069" cy="1213" r="3.6" fill="#5E3CC4" stroke="#33207a" stroke-width="0.9"/>
<circle cx="1104" cy="1216" r="3.6" fill="#5E3CC4" stroke="#33207a" stroke-width="0.9"/>
<circle cx="1120" cy="1218" r="3.6" fill="#5E3CC4" stroke="#33207a" stroke-width="0.9"/>
<circle cx="919" cy="1221" r="3.6" fill="#5E3CC4" stroke="#33207a" stroke-width="0.9"/>
<circle cx="911" cy="1223" r="3.6" fill="#5E3CC4" stroke="#33207a" stroke-width="0.9"/>
<circle cx="1018" cy="1232" r="3.6" fill="#5E3CC4" stroke="#33207a" stroke-width="0.9"/>
<circle cx="1014" cy="1237" r="3.6" fill="#5E3CC4" stroke="#33207a" stroke-width="0.9"/>
<circle cx="919" cy="1235" r="3.6" fill="#5E3CC4" stroke="#33207a" stroke-width="0.9"/>
<circle cx="940" cy="1242" r="3.6" fill="#5E3CC4" stroke="#33207a" stroke-width="0.9"/>
<circle cx="1007" cy="1243" r="3.6" fill="#5E3CC4" stroke="#33207a" stroke-width="0.9"/>
<circle cx="1007" cy="1248" r="3.6" fill="#5E3CC4" stroke="#33207a" stroke-width="0.9"/>
<circle cx="1101" cy="1238" r="3.6" fill="#5E3CC4" stroke="#33207a" stroke-width="0.9"/>
<circle cx="1120" cy="1240" r="3.6" fill="#5E3CC4" stroke="#33207a" stroke-width="0.9"/>
<circle cx="1105" cy="1246" r="3.6" fill="#5E3CC4" stroke="#33207a" stroke-width="0.9"/>
<circle cx="1103" cy="1249" r="3.6" fill="#5E3CC4" stroke="#33207a" stroke-width="0.9"/>
<circle cx="908" cy="1220" r="3.6" fill="#C4393A" stroke="#7a1e1e" stroke-width="0.9"/>
<circle cx="915" cy="1225" r="3.6" fill="#5CC43C" stroke="#357a1e" stroke-width="0.9"/>
<circle cx="1029" cy="1226" r="3.6" fill="#5CC43C" stroke="#357a1e" stroke-width="0.9"/>
<circle cx="1044" cy="1234" r="3.6" fill="#3CC489" stroke="#1f7a52" stroke-width="0.9"/>
<circle cx="1071" cy="1227" r="3.6" fill="#3CC489" stroke="#1f7a52" stroke-width="0.9"/>
<circle cx="1078" cy="1230" r="3.6" fill="#3CC489" stroke="#1f7a52" stroke-width="0.9"/>
<circle cx="1082" cy="1228" r="3.6" fill="#3CC489" stroke="#1f7a52" stroke-width="0.9"/>
<circle cx="301" cy="1251" r="3.6" fill="#000000" stroke="#000000" stroke-width="0.9"/>
</g>
<g id="scale">
<line x1="461.7" y1="1299" x2="580" y2="1299" stroke="#333" stroke-width="2"/>
<text x="521" y="1322.6" font-size="22" text-anchor="middle" fill="#333">0.2</text>
</g>
<g id="axis">
<line x1="3.3" y1="1354" x2="1461.5" y2="1354" stroke="#555" stroke-width="2"/>
<g stroke="#777" stroke-width="1">
<line x1="295" y1="1352" x2="295" y2="1357"/><line x1="440.8" y1="1352" x2="440.8" y2="1357"/>
<line x1="586.5" y1="1352" x2="586.5" y2="1357"/><line x1="732.3" y1="1352" x2="732.3" y2="1357"/>
<line x1="878" y1="1352" x2="878" y2="1357"/><line x1="1023.8" y1="1352" x2="1023.8" y2="1357"/>
<line x1="1169.5" y1="1352" x2="1169.5" y2="1357"/><line x1="1315.3" y1="1352" x2="1315.3" y2="1357"/>
</g>
<g font-size="31" fill="#000" text-anchor="middle">
<text x="294" y="1384">2020</text>
<text x="583.5" y="1384">2020.5</text>
<text x="880" y="1384">2021</text>
<text x="1170.5" y="1384">2021.5</text>
<text x="1463" y="1384">2022</text>
</g>
</g>
</svg>
</body></html>
